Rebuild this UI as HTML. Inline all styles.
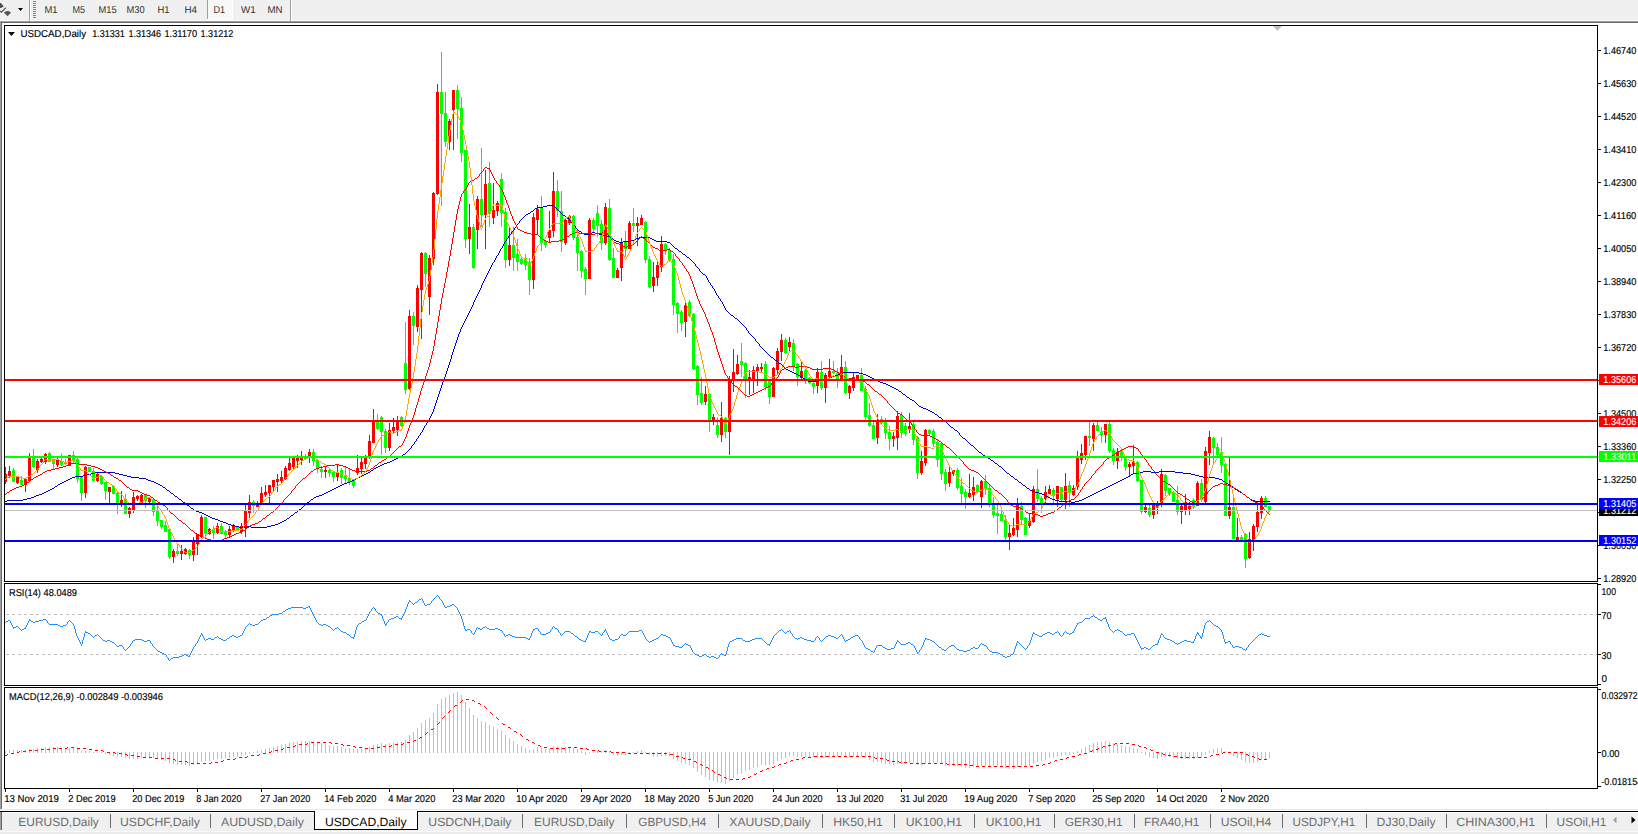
<!DOCTYPE html>
<html><head><meta charset="utf-8"><title>USDCAD,Daily</title>
<style>
html,body{margin:0;padding:0;background:#fff;overflow:hidden;}
body{width:1638px;height:834px;}
svg{display:block;text-rendering:geometricPrecision;}
</style></head>
<body>
<svg width="1638" height="834" viewBox="0 0 1638 834" font-family="Liberation Sans, Arial, sans-serif">
<rect x="0" y="0" width="1638" height="20" fill="#f0f0f0"/>
<rect x="0" y="20" width="1638" height="1" fill="#f7f7f7"/>
<rect x="0" y="21" width="1638" height="1" fill="#a0a0a0"/>
<rect x="1" y="22" width="1637" height="1" fill="#696969"/>
<rect x="0" y="21" width="1" height="788" fill="#a0a0a0"/>
<rect x="1" y="22" width="1" height="787" fill="#696969"/>
<path d="M0 3 L0.8 3 L3.8 6.2 L1.2 8 L0 8 Z" fill="#505050"/>
<path d="M0 10.2 L1.2 11.6 L5.6 7.2 L6.2 8.2 L1.3 13 L0 11.8 Z" fill="#4a4a4a"/>
<path d="M4 12.4 L6 11.2 L7.5 11 L9 11.2 L11 12.4 L7.5 16.2 Z" fill="#555555"/>
<path d="M18 8 L23 8 L20.5 11 Z" fill="#000"/>
<rect x="29" y="0" width="1" height="21" fill="#a0a0a0"/>
<rect x="30" y="0" width="1" height="21" fill="#ffffff"/>
<rect x="33" y="1" width="3" height="1" fill="#808080"/>
<rect x="33" y="3" width="3" height="1" fill="#808080"/>
<rect x="33" y="5" width="3" height="1" fill="#808080"/>
<rect x="33" y="7" width="3" height="1" fill="#808080"/>
<rect x="33" y="9" width="3" height="1" fill="#808080"/>
<rect x="33" y="11" width="3" height="1" fill="#808080"/>
<rect x="33" y="13" width="3" height="1" fill="#808080"/>
<rect x="33" y="15" width="3" height="1" fill="#808080"/>
<rect x="33" y="17" width="3" height="1" fill="#808080"/>
<rect x="207" y="0" width="1" height="19" fill="#a0a0a0"/>
<rect x="208" y="0" width="24" height="19" fill="#f8f8f8"/>
<rect x="232" y="0" width="1" height="20" fill="#ffffff"/>
<rect x="207" y="19" width="26" height="1" fill="#ffffff"/>
<rect x="290" y="0" width="1" height="21" fill="#a0a0a0"/>
<rect x="291" y="0" width="1" height="21" fill="#ffffff"/>
<text x="44.5" y="13" font-size="10" fill="#303030" textLength="13.1" lengthAdjust="spacingAndGlyphs">M1</text>
<text x="72.5" y="13" font-size="10" fill="#303030" textLength="12.6" lengthAdjust="spacingAndGlyphs">M5</text>
<text x="98.5" y="13" font-size="10" fill="#303030" textLength="18.1" lengthAdjust="spacingAndGlyphs">M15</text>
<text x="126.5" y="13" font-size="10" fill="#303030" textLength="18.1" lengthAdjust="spacingAndGlyphs">M30</text>
<text x="157.5" y="13" font-size="10" fill="#303030" textLength="12.1" lengthAdjust="spacingAndGlyphs">H1</text>
<text x="184.5" y="13" font-size="10" fill="#303030" textLength="12.6" lengthAdjust="spacingAndGlyphs">H4</text>
<text x="213.5" y="13" font-size="10" fill="#303030" textLength="11.6" lengthAdjust="spacingAndGlyphs">D1</text>
<text x="241" y="13" font-size="10" fill="#303030" textLength="14.6" lengthAdjust="spacingAndGlyphs">W1</text>
<text x="267.5" y="13" font-size="10" fill="#303030" textLength="15.1" lengthAdjust="spacingAndGlyphs">MN</text>
<rect x="4.5" y="25.5" width="1593" height="556" fill="none" stroke="#000" stroke-width="1"/>
<rect x="4.5" y="583.5" width="1593" height="102" fill="none" stroke="#000" stroke-width="1"/>
<rect x="4.5" y="687.5" width="1593" height="101" fill="none" stroke="#000" stroke-width="1"/>
<defs><clipPath id="cm"><rect x="5" y="26" width="1592" height="555"/></clipPath><clipPath id="cr"><rect x="5" y="584" width="1592" height="101"/></clipPath><clipPath id="cd"><rect x="5" y="688" width="1592" height="100"/></clipPath></defs>
<g shape-rendering="crispEdges" clip-path="url(#cm)">
<rect x="5" y="467" width="1" height="17" fill="#ff0000"/>
<rect x="4" y="474" width="3" height="8" fill="#ff0000"/>
<rect x="9" y="466" width="1" height="12" fill="#ff0000"/>
<rect x="8" y="471" width="3" height="5" fill="#ff0000"/>
<rect x="13" y="468" width="1" height="14" fill="#00ff00"/>
<rect x="12" y="470" width="3" height="12" fill="#00ff00"/>
<rect x="17" y="477" width="1" height="7" fill="#ff0000"/>
<rect x="16" y="477" width="3" height="6" fill="#ff0000"/>
<rect x="21" y="476" width="1" height="9" fill="#00ff00"/>
<rect x="20" y="480" width="3" height="5" fill="#00ff00"/>
<rect x="25" y="478" width="1" height="14" fill="#ff0000"/>
<rect x="24" y="479" width="3" height="6" fill="#ff0000"/>
<rect x="29" y="453" width="1" height="29" fill="#ff0000"/>
<rect x="28" y="457" width="3" height="24" fill="#ff0000"/>
<rect x="33" y="449" width="1" height="19" fill="#00ff00"/>
<rect x="32" y="457" width="3" height="10" fill="#00ff00"/>
<rect x="37" y="459" width="1" height="14" fill="#ff0000"/>
<rect x="36" y="461" width="3" height="9" fill="#ff0000"/>
<rect x="41" y="458" width="1" height="5" fill="#ff0000"/>
<rect x="40" y="459" width="3" height="3" fill="#ff0000"/>
<rect x="45" y="453" width="1" height="11" fill="#ff0000"/>
<rect x="44" y="454" width="3" height="8" fill="#ff0000"/>
<rect x="49" y="452" width="1" height="10" fill="#00ff00"/>
<rect x="48" y="453" width="3" height="9" fill="#00ff00"/>
<rect x="53" y="459" width="1" height="10" fill="#00ff00"/>
<rect x="52" y="459" width="3" height="5" fill="#00ff00"/>
<rect x="57" y="458" width="1" height="9" fill="#ff0000"/>
<rect x="56" y="460" width="3" height="5" fill="#ff0000"/>
<rect x="61" y="453" width="1" height="13" fill="#00ff00"/>
<rect x="60" y="461" width="3" height="4" fill="#00ff00"/>
<rect x="65" y="459" width="1" height="6" fill="#00ff00"/>
<rect x="64" y="462" width="3" height="2" fill="#00ff00"/>
<rect x="69" y="455" width="1" height="11" fill="#ff0000"/>
<rect x="68" y="455" width="3" height="11" fill="#ff0000"/>
<rect x="73" y="451" width="1" height="13" fill="#00ff00"/>
<rect x="72" y="455" width="3" height="6" fill="#00ff00"/>
<rect x="77" y="458" width="1" height="25" fill="#00ff00"/>
<rect x="76" y="459" width="3" height="20" fill="#00ff00"/>
<rect x="81" y="477" width="1" height="24" fill="#00ff00"/>
<rect x="80" y="477" width="3" height="16" fill="#00ff00"/>
<rect x="85" y="466" width="1" height="32" fill="#ff0000"/>
<rect x="84" y="467" width="3" height="26" fill="#ff0000"/>
<rect x="89" y="467" width="1" height="5" fill="#00ff00"/>
<rect x="88" y="467" width="3" height="5" fill="#00ff00"/>
<rect x="93" y="468" width="1" height="13" fill="#00ff00"/>
<rect x="92" y="471" width="3" height="10" fill="#00ff00"/>
<rect x="97" y="473" width="1" height="9" fill="#ff0000"/>
<rect x="96" y="474" width="3" height="7" fill="#ff0000"/>
<rect x="101" y="475" width="1" height="10" fill="#00ff00"/>
<rect x="100" y="476" width="3" height="8" fill="#00ff00"/>
<rect x="105" y="482" width="1" height="18" fill="#00ff00"/>
<rect x="104" y="482" width="3" height="9" fill="#00ff00"/>
<rect x="109" y="487" width="1" height="16" fill="#ff0000"/>
<rect x="108" y="487" width="3" height="5" fill="#ff0000"/>
<rect x="113" y="486" width="1" height="8" fill="#00ff00"/>
<rect x="112" y="486" width="3" height="8" fill="#00ff00"/>
<rect x="117" y="491" width="1" height="23" fill="#00ff00"/>
<rect x="116" y="493" width="3" height="10" fill="#00ff00"/>
<rect x="121" y="491" width="1" height="16" fill="#ff0000"/>
<rect x="120" y="500" width="3" height="3" fill="#ff0000"/>
<rect x="125" y="494" width="1" height="20" fill="#00ff00"/>
<rect x="124" y="499" width="3" height="15" fill="#00ff00"/>
<rect x="129" y="507" width="1" height="11" fill="#ff0000"/>
<rect x="128" y="508" width="3" height="6" fill="#ff0000"/>
<rect x="133" y="492" width="1" height="21" fill="#ff0000"/>
<rect x="132" y="497" width="3" height="13" fill="#ff0000"/>
<rect x="137" y="495" width="1" height="6" fill="#ff0000"/>
<rect x="136" y="496" width="3" height="3" fill="#ff0000"/>
<rect x="141" y="494" width="1" height="9" fill="#ff0000"/>
<rect x="140" y="495" width="3" height="8" fill="#ff0000"/>
<rect x="145" y="495" width="1" height="13" fill="#00ff00"/>
<rect x="144" y="495" width="3" height="6" fill="#00ff00"/>
<rect x="149" y="497" width="1" height="6" fill="#ff0000"/>
<rect x="148" y="498" width="3" height="4" fill="#ff0000"/>
<rect x="153" y="499" width="1" height="17" fill="#00ff00"/>
<rect x="152" y="500" width="3" height="12" fill="#00ff00"/>
<rect x="157" y="505" width="1" height="21" fill="#00ff00"/>
<rect x="156" y="511" width="3" height="10" fill="#00ff00"/>
<rect x="161" y="520" width="1" height="9" fill="#00ff00"/>
<rect x="160" y="520" width="3" height="7" fill="#00ff00"/>
<rect x="165" y="521" width="1" height="11" fill="#00ff00"/>
<rect x="164" y="525" width="3" height="7" fill="#00ff00"/>
<rect x="169" y="529" width="1" height="30" fill="#00ff00"/>
<rect x="168" y="529" width="3" height="28" fill="#00ff00"/>
<rect x="173" y="549" width="1" height="14" fill="#ff0000"/>
<rect x="172" y="551" width="3" height="6" fill="#ff0000"/>
<rect x="177" y="544" width="1" height="12" fill="#00ff00"/>
<rect x="176" y="551" width="3" height="3" fill="#00ff00"/>
<rect x="181" y="545" width="1" height="15" fill="#ff0000"/>
<rect x="180" y="551" width="3" height="3" fill="#ff0000"/>
<rect x="185" y="548" width="1" height="7" fill="#ff0000"/>
<rect x="184" y="549" width="3" height="5" fill="#ff0000"/>
<rect x="189" y="549" width="1" height="10" fill="#00ff00"/>
<rect x="188" y="550" width="3" height="5" fill="#00ff00"/>
<rect x="193" y="537" width="1" height="24" fill="#ff0000"/>
<rect x="192" y="542" width="3" height="13" fill="#ff0000"/>
<rect x="197" y="534" width="1" height="21" fill="#ff0000"/>
<rect x="196" y="534" width="3" height="10" fill="#ff0000"/>
<rect x="201" y="515" width="1" height="23" fill="#ff0000"/>
<rect x="200" y="517" width="3" height="20" fill="#ff0000"/>
<rect x="205" y="517" width="1" height="22" fill="#00ff00"/>
<rect x="204" y="517" width="3" height="17" fill="#00ff00"/>
<rect x="209" y="528" width="1" height="7" fill="#ff0000"/>
<rect x="208" y="529" width="3" height="5" fill="#ff0000"/>
<rect x="213" y="526" width="1" height="13" fill="#00ff00"/>
<rect x="212" y="529" width="3" height="4" fill="#00ff00"/>
<rect x="217" y="523" width="1" height="11" fill="#ff0000"/>
<rect x="216" y="526" width="3" height="7" fill="#ff0000"/>
<rect x="221" y="523" width="1" height="11" fill="#00ff00"/>
<rect x="220" y="526" width="3" height="8" fill="#00ff00"/>
<rect x="225" y="530" width="1" height="9" fill="#00ff00"/>
<rect x="224" y="531" width="3" height="4" fill="#00ff00"/>
<rect x="229" y="526" width="1" height="12" fill="#ff0000"/>
<rect x="228" y="529" width="3" height="6" fill="#ff0000"/>
<rect x="233" y="524" width="1" height="8" fill="#ff0000"/>
<rect x="232" y="526" width="3" height="5" fill="#ff0000"/>
<rect x="237" y="526" width="1" height="5" fill="#00ff00"/>
<rect x="236" y="527" width="3" height="4" fill="#00ff00"/>
<rect x="241" y="523" width="1" height="11" fill="#ff0000"/>
<rect x="240" y="526" width="3" height="6" fill="#ff0000"/>
<rect x="245" y="505" width="1" height="32" fill="#ff0000"/>
<rect x="244" y="511" width="3" height="16" fill="#ff0000"/>
<rect x="249" y="495" width="1" height="23" fill="#ff0000"/>
<rect x="248" y="502" width="3" height="11" fill="#ff0000"/>
<rect x="253" y="500" width="1" height="13" fill="#00ff00"/>
<rect x="252" y="502" width="3" height="4" fill="#00ff00"/>
<rect x="257" y="501" width="1" height="6" fill="#ff0000"/>
<rect x="256" y="504" width="3" height="3" fill="#ff0000"/>
<rect x="261" y="487" width="1" height="17" fill="#ff0000"/>
<rect x="260" y="493" width="3" height="11" fill="#ff0000"/>
<rect x="265" y="485" width="1" height="12" fill="#ff0000"/>
<rect x="264" y="492" width="3" height="3" fill="#ff0000"/>
<rect x="269" y="485" width="1" height="18" fill="#ff0000"/>
<rect x="268" y="485" width="3" height="8" fill="#ff0000"/>
<rect x="273" y="480" width="1" height="12" fill="#ff0000"/>
<rect x="272" y="480" width="3" height="7" fill="#ff0000"/>
<rect x="277" y="474" width="1" height="18" fill="#ff0000"/>
<rect x="276" y="479" width="3" height="3" fill="#ff0000"/>
<rect x="281" y="471" width="1" height="12" fill="#ff0000"/>
<rect x="280" y="477" width="3" height="4" fill="#ff0000"/>
<rect x="285" y="466" width="1" height="14" fill="#ff0000"/>
<rect x="284" y="468" width="3" height="11" fill="#ff0000"/>
<rect x="289" y="458" width="1" height="13" fill="#ff0000"/>
<rect x="288" y="463" width="3" height="7" fill="#ff0000"/>
<rect x="293" y="458" width="1" height="12" fill="#ff0000"/>
<rect x="292" y="458" width="3" height="9" fill="#ff0000"/>
<rect x="297" y="455" width="1" height="13" fill="#ff0000"/>
<rect x="296" y="458" width="3" height="3" fill="#ff0000"/>
<rect x="301" y="451" width="1" height="14" fill="#ff0000"/>
<rect x="300" y="457" width="3" height="3" fill="#ff0000"/>
<rect x="305" y="454" width="1" height="6" fill="#00ff00"/>
<rect x="304" y="456" width="3" height="3" fill="#00ff00"/>
<rect x="309" y="449" width="1" height="14" fill="#ff0000"/>
<rect x="308" y="452" width="3" height="5" fill="#ff0000"/>
<rect x="313" y="449" width="1" height="17" fill="#00ff00"/>
<rect x="312" y="452" width="3" height="9" fill="#00ff00"/>
<rect x="317" y="460" width="1" height="13" fill="#00ff00"/>
<rect x="316" y="460" width="3" height="9" fill="#00ff00"/>
<rect x="321" y="466" width="1" height="12" fill="#00ff00"/>
<rect x="320" y="469" width="3" height="3" fill="#00ff00"/>
<rect x="325" y="466" width="1" height="12" fill="#ff0000"/>
<rect x="324" y="470" width="3" height="2" fill="#ff0000"/>
<rect x="329" y="468" width="1" height="9" fill="#00ff00"/>
<rect x="328" y="470" width="3" height="3" fill="#00ff00"/>
<rect x="333" y="472" width="1" height="10" fill="#00ff00"/>
<rect x="332" y="472" width="3" height="5" fill="#00ff00"/>
<rect x="337" y="464" width="1" height="17" fill="#ff0000"/>
<rect x="336" y="472" width="3" height="5" fill="#ff0000"/>
<rect x="341" y="468" width="1" height="16" fill="#00ff00"/>
<rect x="340" y="470" width="3" height="8" fill="#00ff00"/>
<rect x="345" y="467" width="1" height="17" fill="#00ff00"/>
<rect x="344" y="475" width="3" height="4" fill="#00ff00"/>
<rect x="349" y="468" width="1" height="17" fill="#00ff00"/>
<rect x="348" y="478" width="3" height="4" fill="#00ff00"/>
<rect x="353" y="480" width="1" height="8" fill="#00ff00"/>
<rect x="352" y="480" width="3" height="6" fill="#00ff00"/>
<rect x="357" y="455" width="1" height="20" fill="#ff0000"/>
<rect x="356" y="468" width="3" height="5" fill="#ff0000"/>
<rect x="361" y="458" width="1" height="16" fill="#ff0000"/>
<rect x="360" y="462" width="3" height="7" fill="#ff0000"/>
<rect x="365" y="455" width="1" height="14" fill="#ff0000"/>
<rect x="364" y="458" width="3" height="6" fill="#ff0000"/>
<rect x="369" y="435" width="1" height="24" fill="#ff0000"/>
<rect x="368" y="441" width="3" height="17" fill="#ff0000"/>
<rect x="373" y="409" width="1" height="34" fill="#ff0000"/>
<rect x="372" y="421" width="3" height="22" fill="#ff0000"/>
<rect x="377" y="414" width="1" height="16" fill="#00ff00"/>
<rect x="376" y="421" width="3" height="8" fill="#00ff00"/>
<rect x="381" y="416" width="1" height="39" fill="#00ff00"/>
<rect x="380" y="417" width="3" height="15" fill="#00ff00"/>
<rect x="385" y="429" width="1" height="24" fill="#00ff00"/>
<rect x="384" y="431" width="3" height="17" fill="#00ff00"/>
<rect x="389" y="423" width="1" height="28" fill="#ff0000"/>
<rect x="388" y="430" width="3" height="18" fill="#ff0000"/>
<rect x="393" y="418" width="1" height="16" fill="#ff0000"/>
<rect x="392" y="427" width="3" height="4" fill="#ff0000"/>
<rect x="397" y="416" width="1" height="20" fill="#ff0000"/>
<rect x="396" y="420" width="3" height="10" fill="#ff0000"/>
<rect x="401" y="416" width="1" height="11" fill="#00ff00"/>
<rect x="400" y="417" width="3" height="9" fill="#00ff00"/>
<rect x="405" y="322" width="1" height="72" fill="#00ff00"/>
<rect x="404" y="363" width="3" height="27" fill="#00ff00"/>
<rect x="409" y="310" width="1" height="80" fill="#ff0000"/>
<rect x="408" y="316" width="3" height="73" fill="#ff0000"/>
<rect x="413" y="312" width="1" height="33" fill="#00ff00"/>
<rect x="412" y="316" width="3" height="10" fill="#00ff00"/>
<rect x="417" y="285" width="1" height="47" fill="#ff0000"/>
<rect x="416" y="288" width="3" height="39" fill="#ff0000"/>
<rect x="421" y="252" width="1" height="87" fill="#ff0000"/>
<rect x="420" y="253" width="3" height="37" fill="#ff0000"/>
<rect x="425" y="252" width="1" height="35" fill="#00ff00"/>
<rect x="424" y="253" width="3" height="21" fill="#00ff00"/>
<rect x="429" y="255" width="1" height="60" fill="#ff0000"/>
<rect x="428" y="258" width="3" height="39" fill="#ff0000"/>
<rect x="433" y="192" width="1" height="73" fill="#ff0000"/>
<rect x="432" y="193" width="3" height="66" fill="#ff0000"/>
<rect x="437" y="84" width="1" height="111" fill="#ff0000"/>
<rect x="436" y="92" width="3" height="102" fill="#ff0000"/>
<rect x="441" y="52" width="1" height="154" fill="#00ff00"/>
<rect x="440" y="92" width="3" height="22" fill="#00ff00"/>
<rect x="445" y="92" width="1" height="55" fill="#00ff00"/>
<rect x="444" y="113" width="3" height="29" fill="#00ff00"/>
<rect x="449" y="119" width="1" height="31" fill="#ff0000"/>
<rect x="448" y="121" width="3" height="21" fill="#ff0000"/>
<rect x="453" y="90" width="1" height="60" fill="#ff0000"/>
<rect x="452" y="90" width="3" height="20" fill="#ff0000"/>
<rect x="457" y="85" width="1" height="54" fill="#00ff00"/>
<rect x="456" y="90" width="3" height="19" fill="#00ff00"/>
<rect x="461" y="97" width="1" height="65" fill="#00ff00"/>
<rect x="460" y="108" width="3" height="45" fill="#00ff00"/>
<rect x="465" y="150" width="1" height="98" fill="#00ff00"/>
<rect x="464" y="150" width="3" height="89" fill="#00ff00"/>
<rect x="469" y="204" width="1" height="50" fill="#ff0000"/>
<rect x="468" y="227" width="3" height="12" fill="#ff0000"/>
<rect x="473" y="224" width="1" height="45" fill="#00ff00"/>
<rect x="472" y="227" width="3" height="41" fill="#00ff00"/>
<rect x="477" y="196" width="1" height="53" fill="#ff0000"/>
<rect x="476" y="199" width="3" height="31" fill="#ff0000"/>
<rect x="481" y="148" width="1" height="79" fill="#00ff00"/>
<rect x="480" y="199" width="3" height="16" fill="#00ff00"/>
<rect x="485" y="170" width="1" height="79" fill="#ff0000"/>
<rect x="484" y="184" width="3" height="31" fill="#ff0000"/>
<rect x="489" y="162" width="1" height="65" fill="#00ff00"/>
<rect x="488" y="183" width="3" height="31" fill="#00ff00"/>
<rect x="493" y="183" width="1" height="41" fill="#ff0000"/>
<rect x="492" y="210" width="3" height="8" fill="#ff0000"/>
<rect x="497" y="201" width="1" height="15" fill="#ff0000"/>
<rect x="496" y="203" width="3" height="8" fill="#ff0000"/>
<rect x="501" y="173" width="1" height="54" fill="#00ff00"/>
<rect x="500" y="179" width="3" height="34" fill="#00ff00"/>
<rect x="505" y="208" width="1" height="60" fill="#00ff00"/>
<rect x="504" y="212" width="3" height="48" fill="#00ff00"/>
<rect x="509" y="228" width="1" height="38" fill="#ff0000"/>
<rect x="508" y="245" width="3" height="15" fill="#ff0000"/>
<rect x="513" y="227" width="1" height="44" fill="#00ff00"/>
<rect x="512" y="245" width="3" height="13" fill="#00ff00"/>
<rect x="517" y="239" width="1" height="32" fill="#00ff00"/>
<rect x="516" y="254" width="3" height="8" fill="#00ff00"/>
<rect x="521" y="258" width="1" height="7" fill="#00ff00"/>
<rect x="520" y="259" width="3" height="5" fill="#00ff00"/>
<rect x="525" y="254" width="1" height="16" fill="#00ff00"/>
<rect x="524" y="258" width="3" height="7" fill="#00ff00"/>
<rect x="529" y="258" width="1" height="37" fill="#00ff00"/>
<rect x="528" y="262" width="3" height="18" fill="#00ff00"/>
<rect x="533" y="213" width="1" height="76" fill="#ff0000"/>
<rect x="532" y="217" width="3" height="63" fill="#ff0000"/>
<rect x="537" y="205" width="1" height="30" fill="#ff0000"/>
<rect x="536" y="209" width="3" height="11" fill="#ff0000"/>
<rect x="541" y="196" width="1" height="55" fill="#00ff00"/>
<rect x="540" y="208" width="3" height="35" fill="#00ff00"/>
<rect x="545" y="241" width="1" height="7" fill="#00ff00"/>
<rect x="544" y="241" width="3" height="4" fill="#00ff00"/>
<rect x="549" y="211" width="1" height="32" fill="#ff0000"/>
<rect x="548" y="230" width="3" height="8" fill="#ff0000"/>
<rect x="553" y="172" width="1" height="65" fill="#ff0000"/>
<rect x="552" y="191" width="3" height="40" fill="#ff0000"/>
<rect x="557" y="180" width="1" height="37" fill="#00ff00"/>
<rect x="556" y="191" width="3" height="20" fill="#00ff00"/>
<rect x="561" y="191" width="1" height="61" fill="#00ff00"/>
<rect x="560" y="211" width="3" height="31" fill="#00ff00"/>
<rect x="565" y="218" width="1" height="27" fill="#ff0000"/>
<rect x="564" y="220" width="3" height="23" fill="#ff0000"/>
<rect x="569" y="215" width="1" height="10" fill="#ff0000"/>
<rect x="568" y="216" width="3" height="7" fill="#ff0000"/>
<rect x="573" y="215" width="1" height="25" fill="#00ff00"/>
<rect x="572" y="216" width="3" height="22" fill="#00ff00"/>
<rect x="577" y="230" width="1" height="41" fill="#00ff00"/>
<rect x="576" y="237" width="3" height="16" fill="#00ff00"/>
<rect x="581" y="250" width="1" height="28" fill="#00ff00"/>
<rect x="580" y="251" width="3" height="20" fill="#00ff00"/>
<rect x="585" y="267" width="1" height="28" fill="#00ff00"/>
<rect x="584" y="269" width="3" height="10" fill="#00ff00"/>
<rect x="589" y="218" width="1" height="61" fill="#ff0000"/>
<rect x="588" y="220" width="3" height="59" fill="#ff0000"/>
<rect x="593" y="218" width="1" height="14" fill="#00ff00"/>
<rect x="592" y="220" width="3" height="9" fill="#00ff00"/>
<rect x="597" y="205" width="1" height="32" fill="#00ff00"/>
<rect x="596" y="213" width="3" height="13" fill="#00ff00"/>
<rect x="601" y="220" width="1" height="30" fill="#00ff00"/>
<rect x="600" y="224" width="3" height="19" fill="#00ff00"/>
<rect x="605" y="203" width="1" height="42" fill="#ff0000"/>
<rect x="604" y="207" width="3" height="36" fill="#ff0000"/>
<rect x="609" y="199" width="1" height="62" fill="#00ff00"/>
<rect x="608" y="208" width="3" height="52" fill="#00ff00"/>
<rect x="613" y="248" width="1" height="30" fill="#00ff00"/>
<rect x="612" y="258" width="3" height="20" fill="#00ff00"/>
<rect x="617" y="268" width="1" height="10" fill="#ff0000"/>
<rect x="616" y="270" width="3" height="8" fill="#ff0000"/>
<rect x="621" y="238" width="1" height="43" fill="#ff0000"/>
<rect x="620" y="242" width="3" height="26" fill="#ff0000"/>
<rect x="625" y="231" width="1" height="26" fill="#00ff00"/>
<rect x="624" y="242" width="3" height="7" fill="#00ff00"/>
<rect x="629" y="221" width="1" height="28" fill="#ff0000"/>
<rect x="628" y="223" width="3" height="26" fill="#ff0000"/>
<rect x="633" y="208" width="1" height="24" fill="#00ff00"/>
<rect x="632" y="223" width="3" height="3" fill="#00ff00"/>
<rect x="637" y="217" width="1" height="29" fill="#ff0000"/>
<rect x="636" y="223" width="3" height="3" fill="#ff0000"/>
<rect x="641" y="215" width="1" height="10" fill="#ff0000"/>
<rect x="640" y="218" width="3" height="7" fill="#ff0000"/>
<rect x="645" y="221" width="1" height="42" fill="#00ff00"/>
<rect x="644" y="222" width="3" height="38" fill="#00ff00"/>
<rect x="649" y="256" width="1" height="32" fill="#00ff00"/>
<rect x="648" y="259" width="3" height="28" fill="#00ff00"/>
<rect x="653" y="262" width="1" height="30" fill="#ff0000"/>
<rect x="652" y="277" width="3" height="9" fill="#ff0000"/>
<rect x="657" y="260" width="1" height="26" fill="#ff0000"/>
<rect x="656" y="265" width="3" height="13" fill="#ff0000"/>
<rect x="661" y="236" width="1" height="36" fill="#ff0000"/>
<rect x="660" y="244" width="3" height="23" fill="#ff0000"/>
<rect x="665" y="243" width="1" height="12" fill="#00ff00"/>
<rect x="664" y="244" width="3" height="7" fill="#00ff00"/>
<rect x="669" y="248" width="1" height="14" fill="#00ff00"/>
<rect x="668" y="250" width="3" height="10" fill="#00ff00"/>
<rect x="673" y="254" width="1" height="61" fill="#00ff00"/>
<rect x="672" y="259" width="3" height="46" fill="#00ff00"/>
<rect x="677" y="302" width="1" height="31" fill="#00ff00"/>
<rect x="676" y="303" width="3" height="11" fill="#00ff00"/>
<rect x="681" y="310" width="1" height="21" fill="#00ff00"/>
<rect x="680" y="312" width="3" height="11" fill="#00ff00"/>
<rect x="685" y="302" width="1" height="35" fill="#ff0000"/>
<rect x="684" y="305" width="3" height="17" fill="#ff0000"/>
<rect x="689" y="300" width="1" height="17" fill="#00ff00"/>
<rect x="688" y="302" width="3" height="14" fill="#00ff00"/>
<rect x="693" y="313" width="1" height="57" fill="#00ff00"/>
<rect x="692" y="314" width="3" height="55" fill="#00ff00"/>
<rect x="697" y="365" width="1" height="40" fill="#00ff00"/>
<rect x="696" y="366" width="3" height="29" fill="#00ff00"/>
<rect x="701" y="377" width="1" height="28" fill="#00ff00"/>
<rect x="700" y="393" width="3" height="10" fill="#00ff00"/>
<rect x="705" y="386" width="1" height="19" fill="#ff0000"/>
<rect x="704" y="394" width="3" height="8" fill="#ff0000"/>
<rect x="709" y="393" width="1" height="39" fill="#00ff00"/>
<rect x="708" y="394" width="3" height="26" fill="#00ff00"/>
<rect x="713" y="414" width="1" height="11" fill="#ff0000"/>
<rect x="712" y="417" width="3" height="5" fill="#ff0000"/>
<rect x="717" y="417" width="1" height="21" fill="#00ff00"/>
<rect x="716" y="425" width="3" height="10" fill="#00ff00"/>
<rect x="721" y="402" width="1" height="40" fill="#ff0000"/>
<rect x="720" y="418" width="3" height="17" fill="#ff0000"/>
<rect x="725" y="417" width="1" height="21" fill="#00ff00"/>
<rect x="724" y="418" width="3" height="14" fill="#00ff00"/>
<rect x="729" y="376" width="1" height="79" fill="#ff0000"/>
<rect x="728" y="380" width="3" height="52" fill="#ff0000"/>
<rect x="733" y="349" width="1" height="43" fill="#ff0000"/>
<rect x="732" y="372" width="3" height="9" fill="#ff0000"/>
<rect x="737" y="355" width="1" height="20" fill="#ff0000"/>
<rect x="736" y="364" width="3" height="10" fill="#ff0000"/>
<rect x="741" y="343" width="1" height="34" fill="#00ff00"/>
<rect x="740" y="361" width="3" height="4" fill="#00ff00"/>
<rect x="745" y="362" width="1" height="36" fill="#00ff00"/>
<rect x="744" y="363" width="3" height="17" fill="#00ff00"/>
<rect x="749" y="370" width="1" height="25" fill="#ff0000"/>
<rect x="748" y="377" width="3" height="4" fill="#ff0000"/>
<rect x="753" y="366" width="1" height="27" fill="#ff0000"/>
<rect x="752" y="370" width="3" height="9" fill="#ff0000"/>
<rect x="757" y="364" width="1" height="22" fill="#ff0000"/>
<rect x="756" y="367" width="3" height="5" fill="#ff0000"/>
<rect x="761" y="363" width="1" height="9" fill="#ff0000"/>
<rect x="760" y="367" width="3" height="2" fill="#ff0000"/>
<rect x="765" y="361" width="1" height="29" fill="#00ff00"/>
<rect x="764" y="364" width="3" height="23" fill="#00ff00"/>
<rect x="769" y="380" width="1" height="24" fill="#00ff00"/>
<rect x="768" y="381" width="3" height="16" fill="#00ff00"/>
<rect x="773" y="367" width="1" height="30" fill="#ff0000"/>
<rect x="772" y="368" width="3" height="29" fill="#ff0000"/>
<rect x="777" y="348" width="1" height="26" fill="#ff0000"/>
<rect x="776" y="351" width="3" height="19" fill="#ff0000"/>
<rect x="781" y="334" width="1" height="27" fill="#ff0000"/>
<rect x="780" y="340" width="3" height="12" fill="#ff0000"/>
<rect x="785" y="338" width="1" height="16" fill="#00ff00"/>
<rect x="784" y="340" width="3" height="13" fill="#00ff00"/>
<rect x="789" y="337" width="1" height="15" fill="#ff0000"/>
<rect x="788" y="342" width="3" height="5" fill="#ff0000"/>
<rect x="793" y="339" width="1" height="32" fill="#00ff00"/>
<rect x="792" y="343" width="3" height="23" fill="#00ff00"/>
<rect x="797" y="363" width="1" height="23" fill="#00ff00"/>
<rect x="796" y="364" width="3" height="13" fill="#00ff00"/>
<rect x="801" y="362" width="1" height="18" fill="#ff0000"/>
<rect x="800" y="371" width="3" height="7" fill="#ff0000"/>
<rect x="805" y="369" width="1" height="15" fill="#00ff00"/>
<rect x="804" y="370" width="3" height="10" fill="#00ff00"/>
<rect x="809" y="377" width="1" height="7" fill="#00ff00"/>
<rect x="808" y="378" width="3" height="5" fill="#00ff00"/>
<rect x="813" y="382" width="1" height="12" fill="#00ff00"/>
<rect x="812" y="383" width="3" height="4" fill="#00ff00"/>
<rect x="817" y="368" width="1" height="25" fill="#ff0000"/>
<rect x="816" y="372" width="3" height="14" fill="#ff0000"/>
<rect x="821" y="361" width="1" height="29" fill="#00ff00"/>
<rect x="820" y="372" width="3" height="16" fill="#00ff00"/>
<rect x="825" y="373" width="1" height="30" fill="#ff0000"/>
<rect x="824" y="375" width="3" height="13" fill="#ff0000"/>
<rect x="829" y="359" width="1" height="20" fill="#ff0000"/>
<rect x="828" y="371" width="3" height="6" fill="#ff0000"/>
<rect x="833" y="361" width="1" height="13" fill="#00ff00"/>
<rect x="832" y="371" width="3" height="2" fill="#00ff00"/>
<rect x="837" y="368" width="1" height="20" fill="#00ff00"/>
<rect x="836" y="373" width="3" height="7" fill="#00ff00"/>
<rect x="841" y="355" width="1" height="25" fill="#ff0000"/>
<rect x="840" y="367" width="3" height="13" fill="#ff0000"/>
<rect x="845" y="361" width="1" height="33" fill="#00ff00"/>
<rect x="844" y="367" width="3" height="26" fill="#00ff00"/>
<rect x="849" y="385" width="1" height="14" fill="#ff0000"/>
<rect x="848" y="386" width="3" height="7" fill="#ff0000"/>
<rect x="853" y="373" width="1" height="18" fill="#ff0000"/>
<rect x="852" y="377" width="3" height="11" fill="#ff0000"/>
<rect x="857" y="375" width="1" height="6" fill="#ff0000"/>
<rect x="856" y="375" width="3" height="6" fill="#ff0000"/>
<rect x="861" y="368" width="1" height="23" fill="#00ff00"/>
<rect x="860" y="375" width="3" height="16" fill="#00ff00"/>
<rect x="865" y="386" width="1" height="34" fill="#00ff00"/>
<rect x="864" y="389" width="3" height="28" fill="#00ff00"/>
<rect x="869" y="403" width="1" height="24" fill="#00ff00"/>
<rect x="868" y="415" width="3" height="11" fill="#00ff00"/>
<rect x="873" y="422" width="1" height="17" fill="#00ff00"/>
<rect x="872" y="425" width="3" height="14" fill="#00ff00"/>
<rect x="877" y="414" width="1" height="30" fill="#ff0000"/>
<rect x="876" y="420" width="3" height="18" fill="#ff0000"/>
<rect x="881" y="416" width="1" height="8" fill="#00ff00"/>
<rect x="880" y="419" width="3" height="4" fill="#00ff00"/>
<rect x="885" y="418" width="1" height="21" fill="#00ff00"/>
<rect x="884" y="422" width="3" height="11" fill="#00ff00"/>
<rect x="889" y="426" width="1" height="24" fill="#00ff00"/>
<rect x="888" y="432" width="3" height="7" fill="#00ff00"/>
<rect x="893" y="432" width="1" height="15" fill="#ff0000"/>
<rect x="892" y="436" width="3" height="3" fill="#ff0000"/>
<rect x="897" y="411" width="1" height="39" fill="#ff0000"/>
<rect x="896" y="416" width="3" height="22" fill="#ff0000"/>
<rect x="901" y="412" width="1" height="26" fill="#00ff00"/>
<rect x="900" y="415" width="3" height="18" fill="#00ff00"/>
<rect x="905" y="423" width="1" height="13" fill="#00ff00"/>
<rect x="904" y="426" width="3" height="8" fill="#00ff00"/>
<rect x="909" y="413" width="1" height="20" fill="#ff0000"/>
<rect x="908" y="426" width="3" height="4" fill="#ff0000"/>
<rect x="913" y="422" width="1" height="23" fill="#00ff00"/>
<rect x="912" y="424" width="3" height="16" fill="#00ff00"/>
<rect x="917" y="436" width="1" height="43" fill="#00ff00"/>
<rect x="916" y="437" width="3" height="36" fill="#00ff00"/>
<rect x="921" y="451" width="1" height="24" fill="#ff0000"/>
<rect x="920" y="461" width="3" height="12" fill="#ff0000"/>
<rect x="925" y="429" width="1" height="37" fill="#ff0000"/>
<rect x="924" y="430" width="3" height="33" fill="#ff0000"/>
<rect x="929" y="429" width="1" height="7" fill="#00ff00"/>
<rect x="928" y="430" width="3" height="4" fill="#00ff00"/>
<rect x="933" y="429" width="1" height="18" fill="#00ff00"/>
<rect x="932" y="431" width="3" height="13" fill="#00ff00"/>
<rect x="937" y="440" width="1" height="27" fill="#00ff00"/>
<rect x="936" y="442" width="3" height="18" fill="#00ff00"/>
<rect x="941" y="443" width="1" height="37" fill="#00ff00"/>
<rect x="940" y="443" width="3" height="31" fill="#00ff00"/>
<rect x="945" y="469" width="1" height="22" fill="#00ff00"/>
<rect x="944" y="472" width="3" height="12" fill="#00ff00"/>
<rect x="949" y="466" width="1" height="21" fill="#ff0000"/>
<rect x="948" y="472" width="3" height="11" fill="#ff0000"/>
<rect x="953" y="470" width="1" height="6" fill="#ff0000"/>
<rect x="952" y="470" width="3" height="4" fill="#ff0000"/>
<rect x="957" y="468" width="1" height="22" fill="#00ff00"/>
<rect x="956" y="470" width="3" height="18" fill="#00ff00"/>
<rect x="961" y="478" width="1" height="25" fill="#00ff00"/>
<rect x="960" y="486" width="3" height="8" fill="#00ff00"/>
<rect x="965" y="489" width="1" height="20" fill="#00ff00"/>
<rect x="964" y="492" width="3" height="5" fill="#00ff00"/>
<rect x="969" y="474" width="1" height="24" fill="#ff0000"/>
<rect x="968" y="493" width="3" height="4" fill="#ff0000"/>
<rect x="973" y="477" width="1" height="24" fill="#ff0000"/>
<rect x="972" y="487" width="3" height="8" fill="#ff0000"/>
<rect x="977" y="484" width="1" height="8" fill="#00ff00"/>
<rect x="976" y="485" width="3" height="7" fill="#00ff00"/>
<rect x="981" y="480" width="1" height="28" fill="#ff0000"/>
<rect x="980" y="481" width="3" height="16" fill="#ff0000"/>
<rect x="985" y="475" width="1" height="20" fill="#00ff00"/>
<rect x="984" y="481" width="3" height="8" fill="#00ff00"/>
<rect x="989" y="485" width="1" height="22" fill="#00ff00"/>
<rect x="988" y="488" width="3" height="16" fill="#00ff00"/>
<rect x="993" y="497" width="1" height="21" fill="#00ff00"/>
<rect x="992" y="503" width="3" height="12" fill="#00ff00"/>
<rect x="997" y="505" width="1" height="29" fill="#00ff00"/>
<rect x="996" y="513" width="3" height="3" fill="#00ff00"/>
<rect x="1001" y="510" width="1" height="11" fill="#00ff00"/>
<rect x="1000" y="514" width="3" height="7" fill="#00ff00"/>
<rect x="1005" y="515" width="1" height="26" fill="#00ff00"/>
<rect x="1004" y="520" width="3" height="17" fill="#00ff00"/>
<rect x="1009" y="524" width="1" height="26" fill="#ff0000"/>
<rect x="1008" y="533" width="3" height="4" fill="#ff0000"/>
<rect x="1013" y="518" width="1" height="18" fill="#ff0000"/>
<rect x="1012" y="528" width="3" height="7" fill="#ff0000"/>
<rect x="1017" y="498" width="1" height="39" fill="#ff0000"/>
<rect x="1016" y="505" width="3" height="25" fill="#ff0000"/>
<rect x="1021" y="502" width="1" height="23" fill="#00ff00"/>
<rect x="1020" y="506" width="3" height="14" fill="#00ff00"/>
<rect x="1025" y="517" width="1" height="18" fill="#00ff00"/>
<rect x="1024" y="518" width="3" height="17" fill="#00ff00"/>
<rect x="1029" y="513" width="1" height="15" fill="#ff0000"/>
<rect x="1028" y="521" width="3" height="5" fill="#ff0000"/>
<rect x="1033" y="486" width="1" height="37" fill="#ff0000"/>
<rect x="1032" y="489" width="3" height="33" fill="#ff0000"/>
<rect x="1037" y="469" width="1" height="33" fill="#00ff00"/>
<rect x="1036" y="489" width="3" height="10" fill="#00ff00"/>
<rect x="1041" y="496" width="1" height="17" fill="#00ff00"/>
<rect x="1040" y="498" width="3" height="5" fill="#00ff00"/>
<rect x="1045" y="486" width="1" height="17" fill="#ff0000"/>
<rect x="1044" y="492" width="3" height="7" fill="#ff0000"/>
<rect x="1049" y="485" width="1" height="10" fill="#ff0000"/>
<rect x="1048" y="489" width="3" height="5" fill="#ff0000"/>
<rect x="1053" y="488" width="1" height="15" fill="#00ff00"/>
<rect x="1052" y="490" width="3" height="6" fill="#00ff00"/>
<rect x="1057" y="486" width="1" height="21" fill="#ff0000"/>
<rect x="1056" y="486" width="3" height="13" fill="#ff0000"/>
<rect x="1061" y="487" width="1" height="14" fill="#00ff00"/>
<rect x="1060" y="487" width="3" height="13" fill="#00ff00"/>
<rect x="1065" y="473" width="1" height="36" fill="#ff0000"/>
<rect x="1064" y="486" width="3" height="14" fill="#ff0000"/>
<rect x="1069" y="481" width="1" height="26" fill="#00ff00"/>
<rect x="1068" y="485" width="3" height="8" fill="#00ff00"/>
<rect x="1073" y="485" width="1" height="11" fill="#ff0000"/>
<rect x="1072" y="488" width="3" height="7" fill="#ff0000"/>
<rect x="1077" y="451" width="1" height="39" fill="#ff0000"/>
<rect x="1076" y="458" width="3" height="29" fill="#ff0000"/>
<rect x="1081" y="444" width="1" height="20" fill="#ff0000"/>
<rect x="1080" y="453" width="3" height="7" fill="#ff0000"/>
<rect x="1085" y="436" width="1" height="24" fill="#ff0000"/>
<rect x="1084" y="436" width="3" height="19" fill="#ff0000"/>
<rect x="1089" y="422" width="1" height="24" fill="#00ff00"/>
<rect x="1088" y="436" width="3" height="2" fill="#00ff00"/>
<rect x="1093" y="423" width="1" height="28" fill="#ff0000"/>
<rect x="1092" y="425" width="3" height="14" fill="#ff0000"/>
<rect x="1097" y="422" width="1" height="9" fill="#00ff00"/>
<rect x="1096" y="425" width="3" height="6" fill="#00ff00"/>
<rect x="1101" y="427" width="1" height="16" fill="#00ff00"/>
<rect x="1100" y="432" width="3" height="3" fill="#00ff00"/>
<rect x="1105" y="424" width="1" height="19" fill="#ff0000"/>
<rect x="1104" y="424" width="3" height="11" fill="#ff0000"/>
<rect x="1109" y="422" width="1" height="31" fill="#00ff00"/>
<rect x="1108" y="424" width="3" height="27" fill="#00ff00"/>
<rect x="1113" y="448" width="1" height="17" fill="#00ff00"/>
<rect x="1112" y="450" width="3" height="11" fill="#00ff00"/>
<rect x="1117" y="448" width="1" height="21" fill="#ff0000"/>
<rect x="1116" y="452" width="3" height="9" fill="#ff0000"/>
<rect x="1121" y="449" width="1" height="12" fill="#00ff00"/>
<rect x="1120" y="451" width="3" height="6" fill="#00ff00"/>
<rect x="1125" y="457" width="1" height="14" fill="#00ff00"/>
<rect x="1124" y="458" width="3" height="9" fill="#00ff00"/>
<rect x="1129" y="462" width="1" height="14" fill="#ff0000"/>
<rect x="1128" y="464" width="3" height="3" fill="#ff0000"/>
<rect x="1133" y="445" width="1" height="29" fill="#ff0000"/>
<rect x="1132" y="462" width="3" height="4" fill="#ff0000"/>
<rect x="1137" y="461" width="1" height="21" fill="#00ff00"/>
<rect x="1136" y="462" width="3" height="19" fill="#00ff00"/>
<rect x="1141" y="480" width="1" height="34" fill="#00ff00"/>
<rect x="1140" y="480" width="3" height="32" fill="#00ff00"/>
<rect x="1145" y="505" width="1" height="8" fill="#ff0000"/>
<rect x="1144" y="507" width="3" height="5" fill="#ff0000"/>
<rect x="1149" y="505" width="1" height="12" fill="#00ff00"/>
<rect x="1148" y="508" width="3" height="7" fill="#00ff00"/>
<rect x="1153" y="504" width="1" height="15" fill="#ff0000"/>
<rect x="1152" y="505" width="3" height="10" fill="#ff0000"/>
<rect x="1157" y="501" width="1" height="13" fill="#ff0000"/>
<rect x="1156" y="503" width="3" height="4" fill="#ff0000"/>
<rect x="1161" y="469" width="1" height="38" fill="#ff0000"/>
<rect x="1160" y="474" width="3" height="31" fill="#ff0000"/>
<rect x="1165" y="474" width="1" height="22" fill="#00ff00"/>
<rect x="1164" y="475" width="3" height="16" fill="#00ff00"/>
<rect x="1169" y="488" width="1" height="8" fill="#00ff00"/>
<rect x="1168" y="488" width="3" height="6" fill="#00ff00"/>
<rect x="1173" y="491" width="1" height="11" fill="#00ff00"/>
<rect x="1172" y="492" width="3" height="10" fill="#00ff00"/>
<rect x="1177" y="486" width="1" height="29" fill="#00ff00"/>
<rect x="1176" y="500" width="3" height="12" fill="#00ff00"/>
<rect x="1181" y="505" width="1" height="19" fill="#ff0000"/>
<rect x="1180" y="506" width="3" height="6" fill="#ff0000"/>
<rect x="1185" y="494" width="1" height="21" fill="#ff0000"/>
<rect x="1184" y="502" width="3" height="8" fill="#ff0000"/>
<rect x="1189" y="502" width="1" height="13" fill="#ff0000"/>
<rect x="1188" y="505" width="3" height="4" fill="#ff0000"/>
<rect x="1193" y="498" width="1" height="11" fill="#00ff00"/>
<rect x="1192" y="500" width="3" height="7" fill="#00ff00"/>
<rect x="1197" y="481" width="1" height="25" fill="#ff0000"/>
<rect x="1196" y="483" width="3" height="23" fill="#ff0000"/>
<rect x="1201" y="479" width="1" height="23" fill="#00ff00"/>
<rect x="1200" y="483" width="3" height="17" fill="#00ff00"/>
<rect x="1205" y="447" width="1" height="57" fill="#ff0000"/>
<rect x="1204" y="451" width="3" height="51" fill="#ff0000"/>
<rect x="1209" y="431" width="1" height="34" fill="#ff0000"/>
<rect x="1208" y="437" width="3" height="16" fill="#ff0000"/>
<rect x="1213" y="437" width="1" height="27" fill="#00ff00"/>
<rect x="1212" y="438" width="3" height="10" fill="#00ff00"/>
<rect x="1217" y="443" width="1" height="14" fill="#00ff00"/>
<rect x="1216" y="447" width="3" height="8" fill="#00ff00"/>
<rect x="1221" y="437" width="1" height="36" fill="#00ff00"/>
<rect x="1220" y="452" width="3" height="13" fill="#00ff00"/>
<rect x="1225" y="463" width="1" height="53" fill="#00ff00"/>
<rect x="1224" y="464" width="3" height="52" fill="#00ff00"/>
<rect x="1229" y="458" width="1" height="61" fill="#ff0000"/>
<rect x="1228" y="507" width="3" height="9" fill="#ff0000"/>
<rect x="1233" y="498" width="1" height="41" fill="#00ff00"/>
<rect x="1232" y="507" width="3" height="32" fill="#00ff00"/>
<rect x="1237" y="518" width="1" height="23" fill="#ff0000"/>
<rect x="1236" y="537" width="3" height="3" fill="#ff0000"/>
<rect x="1241" y="535" width="1" height="6" fill="#00ff00"/>
<rect x="1240" y="537" width="3" height="3" fill="#00ff00"/>
<rect x="1245" y="533" width="1" height="35" fill="#00ff00"/>
<rect x="1244" y="534" width="3" height="25" fill="#00ff00"/>
<rect x="1249" y="532" width="1" height="27" fill="#ff0000"/>
<rect x="1248" y="539" width="3" height="19" fill="#ff0000"/>
<rect x="1253" y="524" width="1" height="27" fill="#ff0000"/>
<rect x="1252" y="526" width="3" height="15" fill="#ff0000"/>
<rect x="1257" y="505" width="1" height="27" fill="#ff0000"/>
<rect x="1256" y="512" width="3" height="15" fill="#ff0000"/>
<rect x="1261" y="496" width="1" height="23" fill="#ff0000"/>
<rect x="1260" y="498" width="3" height="15" fill="#ff0000"/>
<rect x="1265" y="496" width="1" height="11" fill="#00ff00"/>
<rect x="1264" y="498" width="3" height="9" fill="#00ff00"/>
<rect x="1269" y="506" width="1" height="6" fill="#00ff00"/>
<rect x="1268" y="506" width="3" height="5" fill="#00ff00"/>
</g>
<path d="M5.5 501v1M6.5 501v1M7.5 500v1M8.5 500v1M9.5 500v1M10.5 500v1M11.5 500v1M12.5 500v1M13.5 500v1M14.5 500v1M15.5 500v1M16.5 500v1M17.5 500v1M18.5 500v1M19.5 500v1M20.5 500v1M21.5 500v1M22.5 500v1M23.5 499v1M24.5 499v1M25.5 499v1M26.5 499v1M27.5 498v1M28.5 498v1M29.5 498v1M30.5 498v1M31.5 497v1M32.5 497v1M33.5 497v1M34.5 496v1M35.5 496v1M36.5 495v1M37.5 495v1M38.5 495v1M39.5 494v1M40.5 494v1M41.5 494v1M42.5 493v1M43.5 493v1M44.5 492v1M45.5 492v1M46.5 491v1M47.5 491v1M48.5 490v1M49.5 490v1M50.5 489v1M51.5 489v1M52.5 488v1M53.5 488v1M54.5 487v1M55.5 486v1M56.5 486v1M57.5 485v1M58.5 484v1M59.5 484v1M60.5 483v1M61.5 483v1M62.5 482v1M63.5 482v1M64.5 481v1M65.5 481v1M66.5 480v1M67.5 480v1M68.5 479v1M69.5 479v1M70.5 478v1M71.5 478v1M72.5 477v1M73.5 477v1M74.5 477v1M75.5 476v1M76.5 476v1M77.5 476v1M78.5 476v1M79.5 476v1M80.5 476v1M81.5 476v1M82.5 476v1M83.5 475v1M84.5 475v1M85.5 475v1M86.5 475v1M87.5 474v1M88.5 474v1M89.5 474v1M90.5 474v1M91.5 473v1M92.5 473v1M93.5 473v1M94.5 473v1M95.5 472v1M96.5 472v1M97.5 472v1M98.5 472v1M99.5 472v1M100.5 472v1M101.5 472v1M102.5 472v1M103.5 472v1M104.5 472v1M105.5 472v1M106.5 472v1M107.5 472v1M108.5 472v1M109.5 472v1M110.5 472v1M111.5 472v1M112.5 472v1M113.5 472v1M114.5 472v1M115.5 473v1M116.5 473v1M117.5 473v1M118.5 473v1M119.5 474v1M120.5 474v1M121.5 474v1M122.5 474v1M123.5 475v1M124.5 475v1M125.5 475v1M126.5 475v1M127.5 476v1M128.5 476v1M129.5 476v1M130.5 476v1M131.5 477v1M132.5 477v1M133.5 477v1M134.5 477v1M135.5 477v1M136.5 477v1M137.5 477v1M138.5 477v1M139.5 478v1M140.5 478v1M141.5 478v1M142.5 478v1M143.5 478v1M144.5 478v1M145.5 478v1M146.5 479v1M147.5 479v1M148.5 480v1M149.5 480v1M150.5 480v1M151.5 481v1M152.5 481v1M153.5 481v1M154.5 482v1M155.5 482v1M156.5 483v1M157.5 483v1M158.5 484v1M159.5 484v1M160.5 485v1M161.5 485v1M162.5 486v1M163.5 487v1M164.5 487v1M165.5 488v1M166.5 489v1M167.5 490v1M168.5 490v1M169.5 491v1M170.5 492v1M171.5 493v1M172.5 493v1M173.5 494v1M174.5 495v1M175.5 496v1M176.5 496v1M177.5 497v1M178.5 498v1M179.5 499v1M180.5 499v1M181.5 500v1M182.5 501v1M183.5 502v1M184.5 502v1M185.5 503v1M186.5 504v1M187.5 505v1M188.5 505v1M189.5 506v1M190.5 507v1M191.5 508v1M192.5 508v1M193.5 509v1M194.5 510v1M195.5 510v1M196.5 511v1M197.5 511v1M198.5 511v1M199.5 512v1M200.5 512v1M201.5 512v1M202.5 513v1M203.5 513v1M204.5 514v1M205.5 514v1M206.5 515v1M207.5 515v1M208.5 516v1M209.5 516v1M210.5 517v1M211.5 517v1M212.5 518v1M213.5 518v1M214.5 518v1M215.5 519v1M216.5 519v1M217.5 519v1M218.5 520v1M219.5 520v1M220.5 521v1M221.5 521v1M222.5 521v1M223.5 522v1M224.5 522v1M225.5 522v1M226.5 523v1M227.5 523v1M228.5 524v1M229.5 524v1M230.5 524v1M231.5 525v1M232.5 525v1M233.5 525v1M234.5 525v1M235.5 526v1M236.5 526v1M237.5 526v1M238.5 526v1M239.5 527v1M240.5 527v1M241.5 527v1M242.5 527v1M243.5 527v1M244.5 527v1M245.5 527v1M246.5 527v1M247.5 526v1M248.5 526v1M249.5 526v1M250.5 526v1M251.5 527v1M252.5 527v1M253.5 527v1M254.5 527v1M255.5 527v1M256.5 527v1M257.5 527v1M258.5 527v1M259.5 527v1M260.5 527v1M261.5 527v1M262.5 527v1M263.5 527v1M264.5 527v1M265.5 527v1M266.5 527v1M267.5 526v1M268.5 526v1M269.5 526v1M270.5 526v1M271.5 525v1M272.5 525v1M273.5 525v1M274.5 525v1M275.5 524v1M276.5 524v1M277.5 524v1M278.5 523v1M279.5 523v1M280.5 522v1M281.5 522v1M282.5 521v1M283.5 521v1M284.5 520v1M285.5 520v1M286.5 519v1M287.5 518v1M288.5 518v1M289.5 517v1M290.5 516v1M291.5 515v1M292.5 515v1M293.5 514v1M294.5 513v1M295.5 512v1M296.5 512v1M297.5 511v1M298.5 510v1M299.5 509v1M300.5 509v1M301.5 508v1M302.5 507v1M303.5 506v1M304.5 505v1M305.5 504v1M306.5 503v1M307.5 502v1M308.5 502v1M309.5 501v1M310.5 500v1M311.5 499v1M312.5 499v1M313.5 498v1M314.5 497v1M315.5 497v1M316.5 496v1M317.5 496v1M318.5 496v1M319.5 495v1M320.5 495v1M321.5 495v1M322.5 494v1M323.5 494v1M324.5 493v1M325.5 493v1M326.5 492v1M327.5 492v1M328.5 491v1M329.5 491v1M330.5 490v1M331.5 490v1M332.5 489v1M333.5 489v1M334.5 488v1M335.5 488v1M336.5 487v1M337.5 487v1M338.5 486v1M339.5 486v1M340.5 485v1M341.5 485v1M342.5 484v1M343.5 484v1M344.5 483v1M345.5 483v1M346.5 483v1M347.5 482v1M348.5 482v1M349.5 482v1M350.5 481v1M351.5 481v1M352.5 480v1M353.5 480v1M354.5 479v1M355.5 479v1M356.5 478v1M357.5 478v1M358.5 477v1M359.5 477v1M360.5 476v1M361.5 476v1M362.5 475v1M363.5 475v1M364.5 474v1M365.5 474v1M366.5 473v1M367.5 473v1M368.5 472v1M369.5 472v1M370.5 471v1M371.5 470v1M372.5 470v1M373.5 469v1M374.5 468v1M375.5 468v1M376.5 467v1M377.5 467v1M378.5 466v1M379.5 466v1M380.5 465v1M381.5 465v1M382.5 464v1M383.5 464v1M384.5 463v1M385.5 463v1M386.5 463v1M387.5 462v1M388.5 462v1M389.5 462v1M390.5 461v1M391.5 461v1M392.5 460v1M393.5 460v1M394.5 459v1M395.5 459v1M396.5 458v1M397.5 458v1M398.5 457v1M399.5 457v1M400.5 456v1M401.5 456v1M402.5 455v1M403.5 454v1M404.5 454v1M405.5 453v1M406.5 452v1M407.5 451v1M408.5 450v1M409.5 449v1M410.5 448v1M411.5 446v2M412.5 445v1M413.5 444v1M414.5 442v2M415.5 441v1M416.5 439v2M417.5 438v1M418.5 436v2M419.5 435v1M420.5 433v2M421.5 432v1M422.5 430v2M423.5 428v2M424.5 426v2M425.5 425v1M426.5 423v2M427.5 422v1M428.5 420v2M429.5 418v2M430.5 416v2M431.5 414v2M432.5 412v2M433.5 409v3M434.5 406v3M435.5 403v3M436.5 400v3M437.5 397v3M438.5 394v3M439.5 391v3M440.5 388v3M441.5 385v3M442.5 382v3M443.5 380v2M444.5 377v3M445.5 374v3M446.5 371v3M447.5 368v3M448.5 365v3M449.5 362v3M450.5 359v3M451.5 355v4M452.5 352v3M453.5 349v3M454.5 346v3M455.5 343v3M456.5 340v3M457.5 337v3M458.5 334v3M459.5 332v2M460.5 329v3M461.5 327v2M462.5 325v2M463.5 323v2M464.5 321v2M465.5 319v2M466.5 317v2M467.5 315v2M468.5 313v2M469.5 311v2M470.5 309v2M471.5 307v2M472.5 305v2M473.5 302v3M474.5 300v2M475.5 298v2M476.5 296v2M477.5 294v2M478.5 292v2M479.5 290v2M480.5 288v2M481.5 285v3M482.5 283v2M483.5 281v2M484.5 279v2M485.5 277v2M486.5 275v2M487.5 273v2M488.5 271v2M489.5 269v2M490.5 267v2M491.5 265v2M492.5 263v2M493.5 262v1M494.5 260v2M495.5 258v2M496.5 256v2M497.5 255v1M498.5 253v2M499.5 251v2M500.5 249v2M501.5 248v1M502.5 246v2M503.5 244v2M504.5 242v2M505.5 241v1M506.5 239v2M507.5 238v1M508.5 236v2M509.5 235v1M510.5 234v1M511.5 232v2M512.5 231v1M513.5 230v1M514.5 228v2M515.5 227v1M516.5 225v2M517.5 224v1M518.5 223v1M519.5 221v2M520.5 220v1M521.5 219v1M522.5 218v1M523.5 217v1M524.5 216v1M525.5 215v1M526.5 214v1M527.5 214v1M528.5 213v1M529.5 213v1M530.5 212v1M531.5 211v1M532.5 211v1M533.5 210v1M534.5 209v1M535.5 208v1M536.5 208v1M537.5 207v1M538.5 207v1M539.5 207v1M540.5 207v1M541.5 207v1M542.5 207v1M543.5 206v1M544.5 206v1M545.5 206v1M546.5 206v1M547.5 205v1M548.5 205v1M549.5 205v1M550.5 205v1M551.5 205v1M552.5 205v1M553.5 205v1M554.5 206v1M555.5 207v1M556.5 208v1M557.5 209v1M558.5 210v1M559.5 211v1M560.5 212v1M561.5 213v1M562.5 214v1M563.5 215v1M564.5 215v1M565.5 216v1M566.5 217v1M567.5 218v1M568.5 218v1M569.5 219v1M570.5 220v1M571.5 221v2M572.5 223v1M573.5 224v1M574.5 225v1M575.5 226v2M576.5 228v1M577.5 229v1M578.5 230v1M579.5 231v1M580.5 231v1M581.5 232v1M582.5 233v1M583.5 233v1M584.5 234v1M585.5 234v1M586.5 234v1M587.5 234v1M588.5 234v1M589.5 234v1M590.5 233v1M591.5 233v1M592.5 232v1M593.5 232v1M594.5 232v1M595.5 233v1M596.5 233v1M597.5 233v1M598.5 233v1M599.5 234v1M600.5 234v1M601.5 234v1M602.5 234v1M603.5 235v1M604.5 235v1M605.5 235v1M606.5 235v1M607.5 236v1M608.5 236v1M609.5 236v1M610.5 237v1M611.5 238v1M612.5 238v1M613.5 239v1M614.5 240v1M615.5 240v1M616.5 241v1M617.5 241v1M618.5 241v1M619.5 242v1M620.5 242v1M621.5 242v1M622.5 242v1M623.5 241v1M624.5 241v1M625.5 241v1M626.5 241v1M627.5 241v1M628.5 241v1M629.5 241v1M630.5 241v1M631.5 240v1M632.5 240v1M633.5 240v1M634.5 239v1M635.5 239v1M636.5 238v1M637.5 238v1M638.5 238v1M639.5 237v1M640.5 237v1M641.5 237v1M642.5 237v1M643.5 237v1M644.5 237v1M645.5 237v1M646.5 237v1M647.5 237v1M648.5 237v1M649.5 237v1M650.5 238v1M651.5 238v1M652.5 239v1M653.5 239v1M654.5 240v1M655.5 240v1M656.5 241v1M657.5 241v1M658.5 241v1M659.5 241v1M660.5 241v1M661.5 241v1M662.5 241v1M663.5 241v1M664.5 241v1M665.5 241v1M666.5 241v1M667.5 242v1M668.5 242v1M669.5 242v1M670.5 243v1M671.5 244v1M672.5 245v1M673.5 246v1M674.5 247v1M675.5 248v1M676.5 248v1M677.5 249v1M678.5 250v1M679.5 251v1M680.5 251v1M681.5 252v1M682.5 253v1M683.5 254v1M684.5 254v1M685.5 255v1M686.5 256v1M687.5 257v1M688.5 257v1M689.5 258v1M690.5 259v1M691.5 260v1M692.5 261v1M693.5 262v1M694.5 263v1M695.5 264v2M696.5 266v1M697.5 267v1M698.5 268v1M699.5 269v2M700.5 271v1M701.5 272v1M702.5 273v1M703.5 274v1M704.5 274v1M705.5 275v1M706.5 276v2M707.5 278v2M708.5 280v2M709.5 282v1M710.5 283v2M711.5 285v1M712.5 286v2M713.5 288v1M714.5 289v2M715.5 291v2M716.5 293v2M717.5 295v1M718.5 296v2M719.5 298v1M720.5 299v2M721.5 301v1M722.5 302v2M723.5 304v2M724.5 306v2M725.5 308v2M726.5 310v1M727.5 311v1M728.5 312v1M729.5 313v1M730.5 314v1M731.5 315v1M732.5 315v1M733.5 316v1M734.5 317v1M735.5 318v1M736.5 318v1M737.5 319v1M738.5 320v1M739.5 321v1M740.5 322v1M741.5 323v1M742.5 324v1M743.5 325v1M744.5 326v1M745.5 327v1M746.5 328v2M747.5 330v1M748.5 331v2M749.5 333v1M750.5 334v1M751.5 335v1M752.5 336v1M753.5 337v1M754.5 338v1M755.5 339v2M756.5 341v1M757.5 342v1M758.5 343v1M759.5 344v2M760.5 346v1M761.5 347v1M762.5 348v1M763.5 349v1M764.5 350v1M765.5 351v1M766.5 352v1M767.5 353v1M768.5 354v1M769.5 355v1M770.5 356v1M771.5 357v1M772.5 357v1M773.5 358v1M774.5 359v1M775.5 360v1M776.5 360v1M777.5 361v1M778.5 362v1M779.5 363v1M780.5 363v1M781.5 364v1M782.5 365v1M783.5 366v1M784.5 367v1M785.5 368v1M786.5 369v1M787.5 369v1M788.5 370v1M789.5 370v1M790.5 371v1M791.5 371v1M792.5 372v1M793.5 372v1M794.5 373v1M795.5 373v1M796.5 374v1M797.5 374v1M798.5 375v1M799.5 375v1M800.5 376v1M801.5 376v1M802.5 377v1M803.5 378v1M804.5 378v1M805.5 379v1M806.5 380v1M807.5 380v1M808.5 381v1M809.5 381v1M810.5 381v1M811.5 381v1M812.5 381v1M813.5 381v1M814.5 381v1M815.5 381v1M816.5 381v1M817.5 381v1M818.5 381v1M819.5 380v1M820.5 380v1M821.5 380v1M822.5 380v1M823.5 380v1M824.5 380v1M825.5 380v1M826.5 379v1M827.5 379v1M828.5 378v1M829.5 378v1M830.5 377v1M831.5 377v1M832.5 376v1M833.5 376v1M834.5 376v1M835.5 375v1M836.5 375v1M837.5 375v1M838.5 374v1M839.5 374v1M840.5 373v1M841.5 373v1M842.5 373v1M843.5 372v1M844.5 372v1M845.5 372v1M846.5 372v1M847.5 372v1M848.5 372v1M849.5 372v1M850.5 372v1M851.5 372v1M852.5 372v1M853.5 372v1M854.5 372v1M855.5 372v1M856.5 372v1M857.5 372v1M858.5 372v1M859.5 373v1M860.5 373v1M861.5 373v1M862.5 373v1M863.5 374v1M864.5 374v1M865.5 374v1M866.5 375v1M867.5 375v1M868.5 376v1M869.5 376v1M870.5 377v1M871.5 377v1M872.5 378v1M873.5 378v1M874.5 379v1M875.5 379v1M876.5 380v1M877.5 380v1M878.5 381v1M879.5 381v1M880.5 382v1M881.5 382v1M882.5 382v1M883.5 383v1M884.5 383v1M885.5 383v1M886.5 384v1M887.5 384v1M888.5 385v1M889.5 385v1M890.5 386v1M891.5 386v1M892.5 387v1M893.5 387v1M894.5 388v1M895.5 388v1M896.5 389v1M897.5 389v1M898.5 390v1M899.5 391v1M900.5 391v1M901.5 392v1M902.5 393v1M903.5 394v1M904.5 394v1M905.5 395v1M906.5 396v1M907.5 397v1M908.5 397v1M909.5 398v1M910.5 399v1M911.5 399v1M912.5 400v1M913.5 400v1M914.5 401v1M915.5 402v1M916.5 403v1M917.5 404v1M918.5 405v1M919.5 406v1M920.5 406v1M921.5 407v1M922.5 407v1M923.5 408v1M924.5 408v1M925.5 408v1M926.5 409v1M927.5 409v1M928.5 410v1M929.5 410v1M930.5 411v1M931.5 411v1M932.5 412v1M933.5 412v1M934.5 413v1M935.5 414v1M936.5 414v1M937.5 415v1M938.5 416v1M939.5 417v1M940.5 417v1M941.5 418v1M942.5 419v1M943.5 420v1M944.5 420v1M945.5 421v1M946.5 422v1M947.5 423v1M948.5 424v1M949.5 425v1M950.5 426v1M951.5 427v1M952.5 427v1M953.5 428v1M954.5 429v1M955.5 430v1M956.5 430v1M957.5 431v1M958.5 432v1M959.5 433v2M960.5 435v1M961.5 436v1M962.5 437v1M963.5 438v1M964.5 438v1M965.5 439v1M966.5 440v1M967.5 441v1M968.5 442v1M969.5 443v1M970.5 444v1M971.5 445v1M972.5 445v1M973.5 446v1M974.5 447v1M975.5 448v1M976.5 449v1M977.5 450v1M978.5 451v1M979.5 452v1M980.5 452v1M981.5 453v1M982.5 454v1M983.5 455v1M984.5 455v1M985.5 456v1M986.5 457v1M987.5 457v1M988.5 458v1M989.5 458v1M990.5 459v1M991.5 460v1M992.5 460v1M993.5 461v1M994.5 462v1M995.5 463v1M996.5 463v1M997.5 464v1M998.5 465v1M999.5 466v1M1000.5 466v1M1001.5 467v1M1002.5 468v1M1003.5 469v1M1004.5 470v1M1005.5 471v1M1006.5 472v1M1007.5 473v1M1008.5 473v1M1009.5 474v1M1010.5 475v1M1011.5 476v1M1012.5 476v1M1013.5 477v1M1014.5 478v1M1015.5 479v1M1016.5 479v1M1017.5 480v1M1018.5 481v1M1019.5 482v1M1020.5 482v1M1021.5 483v1M1022.5 484v1M1023.5 485v1M1024.5 485v1M1025.5 486v1M1026.5 487v1M1027.5 488v1M1028.5 488v1M1029.5 489v1M1030.5 490v1M1031.5 490v1M1032.5 491v1M1033.5 491v1M1034.5 491v1M1035.5 492v1M1036.5 492v1M1037.5 492v1M1038.5 492v1M1039.5 493v1M1040.5 493v1M1041.5 493v1M1042.5 494v1M1043.5 494v1M1044.5 495v1M1045.5 495v1M1046.5 496v1M1047.5 496v1M1048.5 497v1M1049.5 497v1M1050.5 498v1M1051.5 498v1M1052.5 499v1M1053.5 499v1M1054.5 499v1M1055.5 500v1M1056.5 500v1M1057.5 500v1M1058.5 500v1M1059.5 501v1M1060.5 501v1M1061.5 501v1M1062.5 501v1M1063.5 501v1M1064.5 501v1M1065.5 501v1M1066.5 501v1M1067.5 501v1M1068.5 501v1M1069.5 501v1M1070.5 501v1M1071.5 502v1M1072.5 502v1M1073.5 502v1M1074.5 502v1M1075.5 501v1M1076.5 501v1M1077.5 501v1M1078.5 501v1M1079.5 500v1M1080.5 500v1M1081.5 500v1M1082.5 499v1M1083.5 499v1M1084.5 498v1M1085.5 498v1M1086.5 497v1M1087.5 497v1M1088.5 496v1M1089.5 496v1M1090.5 495v1M1091.5 495v1M1092.5 494v1M1093.5 494v1M1094.5 493v1M1095.5 493v1M1096.5 492v1M1097.5 492v1M1098.5 491v1M1099.5 491v1M1100.5 490v1M1101.5 490v1M1102.5 489v1M1103.5 489v1M1104.5 488v1M1105.5 488v1M1106.5 487v1M1107.5 487v1M1108.5 486v1M1109.5 486v1M1110.5 485v1M1111.5 485v1M1112.5 484v1M1113.5 484v1M1114.5 483v1M1115.5 483v1M1116.5 482v1M1117.5 482v1M1118.5 481v1M1119.5 481v1M1120.5 480v1M1121.5 480v1M1122.5 479v1M1123.5 479v1M1124.5 478v1M1125.5 478v1M1126.5 477v1M1127.5 477v1M1128.5 476v1M1129.5 476v1M1130.5 475v1M1131.5 474v1M1132.5 474v1M1133.5 473v1M1134.5 473v1M1135.5 473v1M1136.5 473v1M1137.5 473v1M1138.5 473v1M1139.5 472v1M1140.5 472v1M1141.5 472v1M1142.5 472v1M1143.5 471v1M1144.5 471v1M1145.5 471v1M1146.5 471v1M1147.5 471v1M1148.5 471v1M1149.5 471v1M1150.5 471v1M1151.5 472v1M1152.5 472v1M1153.5 472v1M1154.5 472v1M1155.5 472v1M1156.5 472v1M1157.5 472v1M1158.5 472v1M1159.5 471v1M1160.5 471v1M1161.5 471v1M1162.5 471v1M1163.5 471v1M1164.5 471v1M1165.5 471v1M1166.5 471v1M1167.5 471v1M1168.5 471v1M1169.5 471v1M1170.5 471v1M1171.5 471v1M1172.5 471v1M1173.5 471v1M1174.5 471v1M1175.5 472v1M1176.5 472v1M1177.5 472v1M1178.5 472v1M1179.5 472v1M1180.5 472v1M1181.5 472v1M1182.5 472v1M1183.5 473v1M1184.5 473v1M1185.5 473v1M1186.5 473v1M1187.5 473v1M1188.5 473v1M1189.5 473v1M1190.5 473v1M1191.5 474v1M1192.5 474v1M1193.5 474v1M1194.5 474v1M1195.5 475v1M1196.5 475v1M1197.5 475v1M1198.5 475v1M1199.5 476v1M1200.5 476v1M1201.5 476v1M1202.5 476v1M1203.5 477v1M1204.5 477v1M1205.5 477v1M1206.5 477v1M1207.5 477v1M1208.5 477v1M1209.5 477v1M1210.5 477v1M1211.5 477v1M1212.5 477v1M1213.5 477v1M1214.5 477v1M1215.5 478v1M1216.5 478v1M1217.5 478v1M1218.5 478v1M1219.5 479v1M1220.5 479v1M1221.5 479v1M1222.5 480v1M1223.5 481v1M1224.5 481v1M1225.5 482v1M1226.5 483v1M1227.5 483v1M1228.5 484v1M1229.5 484v1M1230.5 485v1M1231.5 486v1M1232.5 486v1M1233.5 487v1M1234.5 488v1M1235.5 489v1M1236.5 489v1M1237.5 490v1M1238.5 491v1M1239.5 491v1M1240.5 492v1M1241.5 492v1M1242.5 493v1M1243.5 494v1M1244.5 494v1M1245.5 495v1M1246.5 496v1M1247.5 497v1M1248.5 497v1M1249.5 498v1M1250.5 499v1M1251.5 499v1M1252.5 500v1M1253.5 500v1M1254.5 500v1M1255.5 501v1M1256.5 501v1M1257.5 501v1M1258.5 501v1M1259.5 501v1M1260.5 501v1M1261.5 501v1M1262.5 501v1M1263.5 501v1M1264.5 501v1M1265.5 501v1M1266.5 501v1M1267.5 501v1M1268.5 501v1M1269.5 501v1" fill="none" stroke="#0000c8" stroke-width="1" shape-rendering="crispEdges" clip-path="url(#cm)"/>
<path d="M5.5 494v1M6.5 493v1M7.5 492v1M8.5 492v1M9.5 491v1M10.5 490v1M11.5 490v1M12.5 489v1M13.5 489v1M14.5 488v1M15.5 488v1M16.5 487v1M17.5 487v1M18.5 487v1M19.5 486v1M20.5 486v1M21.5 486v1M22.5 485v1M23.5 485v1M24.5 484v1M25.5 484v1M26.5 483v1M27.5 482v1M28.5 482v1M29.5 481v1M30.5 480v1M31.5 479v1M32.5 479v1M33.5 478v1M34.5 477v1M35.5 477v1M36.5 476v1M37.5 476v1M38.5 475v1M39.5 475v1M40.5 474v1M41.5 474v1M42.5 473v1M43.5 472v1M44.5 472v1M45.5 471v1M46.5 471v1M47.5 470v1M48.5 470v1M49.5 470v1M50.5 470v1M51.5 469v1M52.5 469v1M53.5 469v1M54.5 469v1M55.5 468v1M56.5 468v1M57.5 468v1M58.5 468v1M59.5 467v1M60.5 467v1M61.5 467v1M62.5 467v1M63.5 466v1M64.5 466v1M65.5 466v1M66.5 465v1M67.5 465v1M68.5 464v1M69.5 464v1M70.5 464v1M71.5 463v1M72.5 463v1M73.5 463v1M74.5 463v1M75.5 463v1M76.5 463v1M77.5 463v1M78.5 463v1M79.5 464v1M80.5 464v1M81.5 464v1M82.5 464v1M83.5 464v1M84.5 464v1M85.5 464v1M86.5 464v1M87.5 465v1M88.5 465v1M89.5 465v1M90.5 465v1M91.5 466v1M92.5 466v1M93.5 466v1M94.5 466v1M95.5 467v1M96.5 467v1M97.5 467v1M98.5 468v1M99.5 468v1M100.5 469v1M101.5 469v1M102.5 470v1M103.5 470v1M104.5 471v1M105.5 471v1M106.5 472v1M107.5 472v1M108.5 473v1M109.5 473v1M110.5 474v1M111.5 475v1M112.5 475v1M113.5 476v1M114.5 477v1M115.5 477v1M116.5 478v1M117.5 478v1M118.5 479v1M119.5 480v1M120.5 480v1M121.5 481v1M122.5 482v1M123.5 483v1M124.5 484v1M125.5 485v1M126.5 486v1M127.5 487v1M128.5 487v1M129.5 488v1M130.5 489v1M131.5 489v1M132.5 490v1M133.5 490v1M134.5 490v1M135.5 490v1M136.5 490v1M137.5 490v1M138.5 491v1M139.5 491v1M140.5 492v1M141.5 492v1M142.5 493v1M143.5 493v1M144.5 494v1M145.5 494v1M146.5 494v1M147.5 495v1M148.5 495v1M149.5 495v1M150.5 496v1M151.5 497v1M152.5 497v1M153.5 498v1M154.5 499v1M155.5 500v1M156.5 500v1M157.5 501v1M158.5 502v1M159.5 502v1M160.5 503v1M161.5 503v1M162.5 504v1M163.5 505v1M164.5 505v1M165.5 506v1M166.5 507v1M167.5 508v2M168.5 510v1M169.5 511v1M170.5 512v1M171.5 513v1M172.5 513v1M173.5 514v1M174.5 515v1M175.5 516v1M176.5 517v1M177.5 518v1M178.5 519v1M179.5 520v1M180.5 520v1M181.5 521v1M182.5 522v1M183.5 523v1M184.5 523v1M185.5 524v1M186.5 525v1M187.5 526v1M188.5 527v1M189.5 528v1M190.5 529v1M191.5 530v1M192.5 530v1M193.5 531v1M194.5 532v1M195.5 533v1M196.5 533v1M197.5 534v1M198.5 534v1M199.5 535v1M200.5 535v1M201.5 535v1M202.5 536v1M203.5 537v1M204.5 537v1M205.5 538v1M206.5 538v1M207.5 539v1M208.5 539v1M209.5 539v1M210.5 539v1M211.5 540v1M212.5 540v1M213.5 540v1M214.5 540v1M215.5 540v1M216.5 540v1M217.5 540v1M218.5 540v1M219.5 540v1M220.5 540v1M221.5 540v1M222.5 539v1M223.5 539v1M224.5 538v1M225.5 538v1M226.5 538v1M227.5 537v1M228.5 537v1M229.5 537v1M230.5 536v1M231.5 536v1M232.5 535v1M233.5 535v1M234.5 534v1M235.5 534v1M236.5 533v1M237.5 533v1M238.5 533v1M239.5 532v1M240.5 532v1M241.5 532v1M242.5 531v1M243.5 530v1M244.5 530v1M245.5 529v1M246.5 528v1M247.5 527v1M248.5 527v1M249.5 526v1M250.5 525v1M251.5 525v1M252.5 524v1M253.5 524v1M254.5 524v1M255.5 523v1M256.5 523v1M257.5 523v1M258.5 522v1M259.5 521v1M260.5 521v1M261.5 520v1M262.5 519v1M263.5 518v1M264.5 518v1M265.5 517v1M266.5 516v1M267.5 515v1M268.5 515v1M269.5 514v1M270.5 513v1M271.5 512v1M272.5 512v1M273.5 511v1M274.5 510v1M275.5 509v1M276.5 508v1M277.5 507v1M278.5 506v1M279.5 505v1M280.5 504v1M281.5 503v1M282.5 502v1M283.5 500v2M284.5 499v1M285.5 498v1M286.5 497v1M287.5 496v1M288.5 495v1M289.5 494v1M290.5 493v1M291.5 491v2M292.5 490v1M293.5 489v1M294.5 488v1M295.5 486v2M296.5 485v1M297.5 484v1M298.5 483v1M299.5 482v1M300.5 481v1M301.5 480v1M302.5 479v1M303.5 478v1M304.5 478v1M305.5 477v1M306.5 476v1M307.5 475v1M308.5 474v1M309.5 473v1M310.5 472v1M311.5 471v1M312.5 471v1M313.5 470v1M314.5 469v1M315.5 469v1M316.5 468v1M317.5 468v1M318.5 468v1M319.5 467v1M320.5 467v1M321.5 467v1M322.5 467v1M323.5 466v1M324.5 466v1M325.5 466v1M326.5 466v1M327.5 465v1M328.5 465v1M329.5 465v1M330.5 465v1M331.5 465v1M332.5 465v1M333.5 465v1M334.5 465v1M335.5 464v1M336.5 464v1M337.5 464v1M338.5 464v1M339.5 465v1M340.5 465v1M341.5 465v1M342.5 465v1M343.5 466v1M344.5 466v1M345.5 466v1M346.5 467v1M347.5 467v1M348.5 468v1M349.5 468v1M350.5 469v1M351.5 469v1M352.5 470v1M353.5 470v1M354.5 470v1M355.5 471v1M356.5 471v1M357.5 471v1M358.5 471v1M359.5 471v1M360.5 471v1M361.5 471v1M362.5 471v1M363.5 471v1M364.5 471v1M365.5 471v1M366.5 471v1M367.5 470v1M368.5 470v1M369.5 470v1M370.5 469v1M371.5 468v1M372.5 468v1M373.5 467v1M374.5 466v1M375.5 465v1M376.5 465v1M377.5 464v1M378.5 463v1M379.5 462v1M380.5 462v1M381.5 461v1M382.5 460v1M383.5 460v1M384.5 459v1M385.5 459v1M386.5 458v1M387.5 457v1M388.5 457v1M389.5 456v1M390.5 455v1M391.5 454v1M392.5 453v1M393.5 452v1M394.5 451v1M395.5 450v1M396.5 449v1M397.5 448v1M398.5 447v1M399.5 446v1M400.5 446v1M401.5 445v1M402.5 443v2M403.5 441v2M404.5 439v2M405.5 437v2M406.5 434v3M407.5 431v3M408.5 428v3M409.5 425v3M410.5 423v2M411.5 420v3M412.5 418v2M413.5 415v3M414.5 412v3M415.5 408v4M416.5 405v3M417.5 402v3M418.5 398v4M419.5 395v3M420.5 391v4M421.5 388v3M422.5 385v3M423.5 382v3M424.5 379v3M425.5 376v3M426.5 373v3M427.5 370v3M428.5 367v3M429.5 363v4M430.5 359v4M431.5 355v4M432.5 351v4M433.5 346v5M434.5 340v6M435.5 334v6M436.5 328v6M437.5 322v6M438.5 316v6M439.5 310v6M440.5 304v6M441.5 298v6M442.5 293v5M443.5 288v5M444.5 283v5M445.5 278v5M446.5 272v6M447.5 267v5M448.5 261v6M449.5 256v5M450.5 250v6M451.5 244v6M452.5 238v6M453.5 232v6M454.5 226v6M455.5 220v6M456.5 214v6M457.5 209v5M458.5 205v4M459.5 201v4M460.5 197v4M461.5 194v3M462.5 193v1M463.5 191v2M464.5 190v1M465.5 189v1M466.5 187v2M467.5 185v2M468.5 183v2M469.5 182v1M470.5 181v1M471.5 181v1M472.5 180v1M473.5 180v1M474.5 179v1M475.5 178v1M476.5 178v1M477.5 177v1M478.5 176v1M479.5 174v2M480.5 173v1M481.5 172v1M482.5 171v1M483.5 169v2M484.5 168v1M485.5 167v1M486.5 167v1M487.5 168v1M488.5 168v1M489.5 168v2M490.5 170v2M491.5 172v2M492.5 174v2M493.5 176v2M494.5 178v2M495.5 180v1M496.5 181v2M497.5 183v1M498.5 184v1M499.5 185v2M500.5 187v1M501.5 188v2M502.5 190v2M503.5 192v3M504.5 195v2M505.5 197v3M506.5 200v3M507.5 203v2M508.5 205v3M509.5 208v3M510.5 211v3M511.5 214v2M512.5 216v3M513.5 219v2M514.5 221v2M515.5 223v2M516.5 225v2M517.5 227v2M518.5 229v1M519.5 229v1M520.5 230v1M521.5 230v1M522.5 231v1M523.5 231v1M524.5 232v1M525.5 232v1M526.5 232v1M527.5 233v1M528.5 233v1M529.5 233v1M530.5 233v1M531.5 234v1M532.5 234v1M533.5 234v1M534.5 234v1M535.5 234v1M536.5 234v1M537.5 234v1M538.5 235v1M539.5 236v1M540.5 237v1M541.5 238v1M542.5 239v1M543.5 239v1M544.5 240v1M545.5 240v1M546.5 241v1M547.5 241v1M548.5 242v1M549.5 242v1M550.5 242v1M551.5 241v1M552.5 241v1M553.5 241v1M554.5 241v1M555.5 241v1M556.5 241v1M557.5 241v1M558.5 241v1M559.5 240v1M560.5 240v1M561.5 240v1M562.5 239v1M563.5 239v1M564.5 238v1M565.5 238v1M566.5 237v1M567.5 236v1M568.5 236v1M569.5 235v1M570.5 234v1M571.5 234v1M572.5 233v1M573.5 233v1M574.5 233v1M575.5 232v1M576.5 232v1M577.5 232v1M578.5 232v1M579.5 233v1M580.5 233v1M581.5 233v1M582.5 233v1M583.5 233v1M584.5 233v1M585.5 233v1M586.5 233v1M587.5 233v1M588.5 233v1M589.5 233v1M590.5 233v1M591.5 234v1M592.5 234v1M593.5 234v1M594.5 234v1M595.5 233v1M596.5 233v1M597.5 233v1M598.5 233v1M599.5 233v1M600.5 233v1M601.5 233v1M602.5 232v1M603.5 232v1M604.5 231v1M605.5 231v1M606.5 232v1M607.5 233v2M608.5 235v1M609.5 236v1M610.5 237v1M611.5 238v2M612.5 240v1M613.5 241v1M614.5 242v1M615.5 242v1M616.5 243v1M617.5 243v1M618.5 243v1M619.5 244v1M620.5 244v1M621.5 244v1M622.5 245v1M623.5 246v1M624.5 246v1M625.5 247v1M626.5 247v1M627.5 246v1M628.5 246v1M629.5 246v1M630.5 245v1M631.5 245v1M632.5 244v1M633.5 244v1M634.5 243v1M635.5 242v1M636.5 241v1M637.5 240v1M638.5 239v1M639.5 238v1M640.5 237v1M641.5 236v1M642.5 237v1M643.5 238v1M644.5 238v1M645.5 239v1M646.5 240v1M647.5 241v1M648.5 242v1M649.5 243v1M650.5 244v1M651.5 245v1M652.5 246v1M653.5 247v1M654.5 247v1M655.5 248v1M656.5 248v1M657.5 248v1M658.5 249v1M659.5 250v1M660.5 250v1M661.5 251v1M662.5 251v1M663.5 250v1M664.5 250v1M665.5 250v1M666.5 250v1M667.5 249v1M668.5 249v1M669.5 249v1M670.5 250v1M671.5 251v1M672.5 251v1M673.5 252v1M674.5 253v1M675.5 254v2M676.5 256v1M677.5 257v1M678.5 258v1M679.5 259v2M680.5 261v1M681.5 262v1M682.5 263v2M683.5 265v1M684.5 266v2M685.5 268v1M686.5 269v2M687.5 271v1M688.5 272v2M689.5 274v2M690.5 276v3M691.5 279v2M692.5 281v3M693.5 284v3M694.5 287v3M695.5 290v3M696.5 293v3M697.5 296v3M698.5 299v2M699.5 301v3M700.5 304v2M701.5 306v2M702.5 308v2M703.5 310v2M704.5 312v2M705.5 314v3M706.5 317v2M707.5 319v3M708.5 322v2M709.5 324v3M710.5 327v3M711.5 330v2M712.5 332v3M713.5 335v3M714.5 338v4M715.5 342v3M716.5 345v4M717.5 349v3M718.5 352v3M719.5 355v3M720.5 358v3M721.5 361v3M722.5 364v3M723.5 367v3M724.5 370v3M725.5 373v2M726.5 375v1M727.5 376v2M728.5 378v1M729.5 379v1M730.5 380v1M731.5 381v2M732.5 383v1M733.5 384v1M734.5 385v1M735.5 386v1M736.5 386v1M737.5 387v1M738.5 388v1M739.5 389v1M740.5 390v1M741.5 391v1M742.5 392v1M743.5 393v1M744.5 394v1M745.5 395v1M746.5 395v1M747.5 396v1M748.5 396v1M749.5 396v1M750.5 395v1M751.5 395v1M752.5 394v1M753.5 394v1M754.5 393v1M755.5 393v1M756.5 392v1M757.5 392v1M758.5 391v1M759.5 391v1M760.5 390v1M761.5 390v1M762.5 389v1M763.5 389v1M764.5 388v1M765.5 388v1M766.5 387v1M767.5 387v1M768.5 386v1M769.5 386v1M770.5 385v1M771.5 383v2M772.5 382v1M773.5 381v1M774.5 380v1M775.5 379v1M776.5 378v1M777.5 377v1M778.5 375v2M779.5 373v2M780.5 371v2M781.5 370v1M782.5 369v1M783.5 369v1M784.5 368v1M785.5 368v1M786.5 367v1M787.5 367v1M788.5 366v1M789.5 366v1M790.5 366v1M791.5 366v1M792.5 366v1M793.5 366v1M794.5 366v1M795.5 367v1M796.5 367v1M797.5 367v1M798.5 367v1M799.5 366v1M800.5 366v1M801.5 366v1M802.5 366v1M803.5 366v1M804.5 366v1M805.5 366v1M806.5 366v1M807.5 367v1M808.5 367v1M809.5 367v1M810.5 368v1M811.5 368v1M812.5 369v1M813.5 369v1M814.5 369v1M815.5 369v1M816.5 369v1M817.5 369v1M818.5 369v1M819.5 369v1M820.5 369v1M821.5 369v1M822.5 369v1M823.5 368v1M824.5 368v1M825.5 368v1M826.5 368v1M827.5 368v1M828.5 368v1M829.5 368v1M830.5 368v1M831.5 369v1M832.5 369v1M833.5 369v1M834.5 370v1M835.5 371v1M836.5 371v1M837.5 372v1M838.5 372v1M839.5 373v1M840.5 373v1M841.5 373v1M842.5 374v1M843.5 375v1M844.5 376v1M845.5 377v1M846.5 377v1M847.5 378v1M848.5 378v1M849.5 378v1M850.5 378v1M851.5 378v1M852.5 378v1M853.5 378v1M854.5 378v1M855.5 379v1M856.5 379v1M857.5 379v1M858.5 379v1M859.5 379v1M860.5 379v1M861.5 379v1M862.5 380v1M863.5 381v1M864.5 381v1M865.5 382v1M866.5 383v1M867.5 384v1M868.5 384v1M869.5 385v1M870.5 386v1M871.5 387v1M872.5 388v1M873.5 389v1M874.5 390v1M875.5 391v1M876.5 391v1M877.5 392v1M878.5 393v1M879.5 394v1M880.5 394v1M881.5 395v1M882.5 396v1M883.5 397v1M884.5 398v1M885.5 399v1M886.5 400v1M887.5 401v2M888.5 403v1M889.5 404v1M890.5 405v1M891.5 406v1M892.5 407v1M893.5 408v1M894.5 409v1M895.5 410v1M896.5 411v1M897.5 412v1M898.5 413v1M899.5 413v1M900.5 414v1M901.5 414v1M902.5 415v1M903.5 416v1M904.5 417v1M905.5 418v1M906.5 419v1M907.5 420v1M908.5 420v1M909.5 421v1M910.5 422v1M911.5 423v2M912.5 425v1M913.5 426v1M914.5 427v2M915.5 429v1M916.5 430v2M917.5 432v1M918.5 433v1M919.5 434v1M920.5 434v1M921.5 435v1M922.5 435v1M923.5 435v1M924.5 435v1M925.5 435v1M926.5 435v1M927.5 435v1M928.5 435v1M929.5 435v1M930.5 436v1M931.5 436v1M932.5 437v1M933.5 437v1M934.5 438v1M935.5 438v1M936.5 439v1M937.5 439v1M938.5 440v1M939.5 441v1M940.5 441v1M941.5 442v1M942.5 443v1M943.5 444v1M944.5 444v1M945.5 445v1M946.5 446v1M947.5 447v1M948.5 447v1M949.5 448v1M950.5 449v1M951.5 450v1M952.5 451v1M953.5 452v1M954.5 453v1M955.5 454v1M956.5 455v1M957.5 456v1M958.5 457v1M959.5 458v1M960.5 459v1M961.5 460v1M962.5 461v1M963.5 462v2M964.5 464v1M965.5 465v1M966.5 466v1M967.5 467v1M968.5 468v1M969.5 469v1M970.5 469v1M971.5 470v1M972.5 470v1M973.5 470v1M974.5 471v1M975.5 471v1M976.5 472v1M977.5 472v1M978.5 473v1M979.5 474v1M980.5 475v1M981.5 476v1M982.5 477v1M983.5 478v1M984.5 479v1M985.5 480v1M986.5 481v1M987.5 482v1M988.5 483v1M989.5 484v1M990.5 485v1M991.5 486v1M992.5 487v1M993.5 488v1M994.5 489v1M995.5 490v1M996.5 490v1M997.5 491v1M998.5 492v1M999.5 493v1M1000.5 493v1M1001.5 494v1M1002.5 495v1M1003.5 496v1M1004.5 497v1M1005.5 498v1M1006.5 499v1M1007.5 500v2M1008.5 502v1M1009.5 503v1M1010.5 504v1M1011.5 505v1M1012.5 505v1M1013.5 506v1M1014.5 506v1M1015.5 506v1M1016.5 506v1M1017.5 506v1M1018.5 507v1M1019.5 507v1M1020.5 508v1M1021.5 508v1M1022.5 509v1M1023.5 510v1M1024.5 510v1M1025.5 511v1M1026.5 512v1M1027.5 512v1M1028.5 513v1M1029.5 513v1M1030.5 513v1M1031.5 513v1M1032.5 513v1M1033.5 513v1M1034.5 513v1M1035.5 514v1M1036.5 514v1M1037.5 514v1M1038.5 515v1M1039.5 515v1M1040.5 516v1M1041.5 516v1M1042.5 516v1M1043.5 515v1M1044.5 515v1M1045.5 515v1M1046.5 514v1M1047.5 514v1M1048.5 513v1M1049.5 513v1M1050.5 513v1M1051.5 512v1M1052.5 512v1M1053.5 512v1M1054.5 511v1M1055.5 510v1M1056.5 510v1M1057.5 509v1M1058.5 508v1M1059.5 507v1M1060.5 507v1M1061.5 506v1M1062.5 505v1M1063.5 504v1M1064.5 504v1M1065.5 503v1M1066.5 502v1M1067.5 501v1M1068.5 501v1M1069.5 500v1M1070.5 500v1M1071.5 499v1M1072.5 499v1M1073.5 499v1M1074.5 498v1M1075.5 497v1M1076.5 496v1M1077.5 495v1M1078.5 493v2M1079.5 492v1M1080.5 490v2M1081.5 489v1M1082.5 487v2M1083.5 486v1M1084.5 484v2M1085.5 483v1M1086.5 482v1M1087.5 481v1M1088.5 480v1M1089.5 479v1M1090.5 478v1M1091.5 476v2M1092.5 475v1M1093.5 474v1M1094.5 473v1M1095.5 471v2M1096.5 470v1M1097.5 469v1M1098.5 468v1M1099.5 467v1M1100.5 466v1M1101.5 465v1M1102.5 464v1M1103.5 462v2M1104.5 461v1M1105.5 460v1M1106.5 459v1M1107.5 458v1M1108.5 458v1M1109.5 457v1M1110.5 456v1M1111.5 456v1M1112.5 455v1M1113.5 455v1M1114.5 454v1M1115.5 453v1M1116.5 453v1M1117.5 452v1M1118.5 451v1M1119.5 451v1M1120.5 450v1M1121.5 450v1M1122.5 449v1M1123.5 449v1M1124.5 448v1M1125.5 448v1M1126.5 447v1M1127.5 447v1M1128.5 446v1M1129.5 446v1M1130.5 446v1M1131.5 446v1M1132.5 446v1M1133.5 446v1M1134.5 447v1M1135.5 447v1M1136.5 448v1M1137.5 448v1M1138.5 449v2M1139.5 451v1M1140.5 452v2M1141.5 454v1M1142.5 455v1M1143.5 456v2M1144.5 458v1M1145.5 459v1M1146.5 460v2M1147.5 462v1M1148.5 463v2M1149.5 465v1M1150.5 466v1M1151.5 467v2M1152.5 469v1M1153.5 470v1M1154.5 471v1M1155.5 472v2M1156.5 474v1M1157.5 475v1M1158.5 476v1M1159.5 477v1M1160.5 478v1M1161.5 479v1M1162.5 480v1M1163.5 481v1M1164.5 481v1M1165.5 482v1M1166.5 483v1M1167.5 483v1M1168.5 484v1M1169.5 484v1M1170.5 485v1M1171.5 486v1M1172.5 487v1M1173.5 488v1M1174.5 489v1M1175.5 490v1M1176.5 491v1M1177.5 492v1M1178.5 493v1M1179.5 493v1M1180.5 494v1M1181.5 494v1M1182.5 495v1M1183.5 496v1M1184.5 496v1M1185.5 497v1M1186.5 498v1M1187.5 499v1M1188.5 499v1M1189.5 500v1M1190.5 501v1M1191.5 501v1M1192.5 502v1M1193.5 502v1M1194.5 501v1M1195.5 501v1M1196.5 500v1M1197.5 500v1M1198.5 500v1M1199.5 499v1M1200.5 499v1M1201.5 499v1M1202.5 498v1M1203.5 497v1M1204.5 496v1M1205.5 495v1M1206.5 494v1M1207.5 492v2M1208.5 491v1M1209.5 490v1M1210.5 489v1M1211.5 488v1M1212.5 487v1M1213.5 486v1M1214.5 486v1M1215.5 485v1M1216.5 485v1M1217.5 485v1M1218.5 484v1M1219.5 484v1M1220.5 483v1M1221.5 483v1M1222.5 483v1M1223.5 484v1M1224.5 484v1M1225.5 484v1M1226.5 484v1M1227.5 485v1M1228.5 485v1M1229.5 485v1M1230.5 486v1M1231.5 486v1M1232.5 487v1M1233.5 487v1M1234.5 488v1M1235.5 488v1M1236.5 489v1M1237.5 489v1M1238.5 490v1M1239.5 491v1M1240.5 491v1M1241.5 492v1M1242.5 493v1M1243.5 494v1M1244.5 494v1M1245.5 495v1M1246.5 496v1M1247.5 497v1M1248.5 497v1M1249.5 498v1M1250.5 499v1M1251.5 500v1M1252.5 500v1M1253.5 501v1M1254.5 501v1M1255.5 502v1M1256.5 502v1M1257.5 502v1M1258.5 503v1M1259.5 504v1M1260.5 504v1M1261.5 505v1M1262.5 506v1M1263.5 507v2M1264.5 509v1M1265.5 510v1M1266.5 511v1M1267.5 512v1M1268.5 513v1M1269.5 514v1" fill="none" stroke="#ff0000" stroke-width="1" shape-rendering="crispEdges" clip-path="url(#cm)"/>
<path d="M5.5 479v1M6.5 478v1M7.5 477v1M8.5 477v1M9.5 476v1M10.5 476v1M11.5 476v1M12.5 476v1M13.5 476v1M14.5 476v1M15.5 476v1M16.5 476v1M17.5 476v1M18.5 476v1M19.5 477v1M20.5 477v1M21.5 477v1M22.5 477v1M23.5 478v1M24.5 478v1M25.5 478v1M26.5 477v1M27.5 477v1M28.5 476v1M29.5 476v1M30.5 475v1M31.5 474v1M32.5 474v1M33.5 473v1M34.5 472v1M35.5 471v1M36.5 470v1M37.5 469v1M38.5 468v1M39.5 466v2M40.5 465v1M41.5 464v1M42.5 463v1M43.5 461v2M44.5 460v1M45.5 459v1M46.5 459v1M47.5 460v1M48.5 460v1M49.5 460v1M50.5 460v1M51.5 460v1M52.5 460v1M53.5 460v1M54.5 460v1M55.5 459v1M56.5 459v1M57.5 459v1M58.5 459v1M59.5 460v1M60.5 460v1M61.5 460v1M62.5 461v1M63.5 461v1M64.5 462v1M65.5 462v1M66.5 462v1M67.5 461v1M68.5 461v1M69.5 461v1M70.5 461v1M71.5 460v1M72.5 460v1M73.5 460v1M74.5 461v1M75.5 462v1M76.5 463v1M77.5 464v1M78.5 465v2M79.5 467v1M80.5 468v2M81.5 470v1M82.5 470v1M83.5 470v1M84.5 470v1M85.5 470v1M86.5 471v1M87.5 472v1M88.5 473v1M89.5 474v1M90.5 475v1M91.5 476v1M92.5 477v1M93.5 478v1M94.5 478v1M95.5 477v1M96.5 477v1M97.5 477v1M98.5 476v1M99.5 476v1M100.5 475v1M101.5 475v1M102.5 476v1M103.5 477v2M104.5 479v1M105.5 480v1M106.5 481v1M107.5 482v1M108.5 482v1M109.5 483v1M110.5 484v1M111.5 484v1M112.5 485v1M113.5 485v1M114.5 486v2M115.5 488v1M116.5 489v2M117.5 491v1M118.5 492v1M119.5 493v1M120.5 493v1M121.5 494v1M122.5 495v1M123.5 496v2M124.5 498v1M125.5 499v1M126.5 500v1M127.5 501v1M128.5 502v1M129.5 503v1M130.5 503v1M131.5 504v1M132.5 504v1M133.5 504v1M134.5 504v1M135.5 503v1M136.5 503v1M137.5 503v1M138.5 503v1M139.5 502v1M140.5 502v1M141.5 502v1M142.5 501v1M143.5 500v1M144.5 500v1M145.5 499v1M146.5 498v1M147.5 498v1M148.5 497v1M149.5 497v1M150.5 498v1M151.5 499v1M152.5 499v1M153.5 500v1M154.5 501v1M155.5 502v2M156.5 504v1M157.5 505v1M158.5 506v2M159.5 508v1M160.5 509v2M161.5 511v1M162.5 512v2M163.5 514v1M164.5 515v2M165.5 517v2M166.5 519v3M167.5 522v3M168.5 525v3M169.5 528v2M170.5 530v2M171.5 532v2M172.5 534v2M173.5 536v2M174.5 538v2M175.5 540v1M176.5 541v2M177.5 543v1M178.5 544v1M179.5 545v2M180.5 547v1M181.5 548v1M182.5 549v1M183.5 550v1M184.5 551v1M185.5 552v1M186.5 552v1M187.5 552v1M188.5 552v1M189.5 552v1M190.5 551v1M191.5 551v1M192.5 550v1M193.5 550v1M194.5 549v1M195.5 548v1M196.5 547v1M197.5 546v1M198.5 544v2M199.5 542v2M200.5 540v2M201.5 539v1M202.5 538v1M203.5 537v1M204.5 537v1M205.5 536v1M206.5 535v1M207.5 533v2M208.5 532v1M209.5 531v1M210.5 530v1M211.5 530v1M212.5 529v1M213.5 529v1M214.5 528v1M215.5 528v1M216.5 527v1M217.5 527v1M218.5 528v1M219.5 529v1M220.5 530v1M221.5 531v1M222.5 531v1M223.5 531v1M224.5 531v1M225.5 531v1M226.5 531v1M227.5 531v1M228.5 531v1M229.5 531v1M230.5 531v1M231.5 530v1M232.5 530v1M233.5 530v1M234.5 530v1M235.5 530v1M236.5 530v1M237.5 530v1M238.5 530v1M239.5 529v1M240.5 529v1M241.5 529v1M242.5 528v1M243.5 526v2M244.5 525v1M245.5 524v1M246.5 523v1M247.5 521v2M248.5 520v1M249.5 519v1M250.5 518v1M251.5 517v1M252.5 516v1M253.5 515v1M254.5 514v1M255.5 512v2M256.5 511v1M257.5 510v1M258.5 508v2M259.5 506v2M260.5 504v2M261.5 503v1M262.5 502v1M263.5 501v1M264.5 500v1M265.5 499v1M266.5 498v1M267.5 497v1M268.5 497v1M269.5 496v1M270.5 495v1M271.5 493v2M272.5 492v1M273.5 491v1M274.5 490v1M275.5 488v2M276.5 487v1M277.5 486v1M278.5 485v1M279.5 484v1M280.5 484v1M281.5 483v1M282.5 482v1M283.5 480v2M284.5 479v1M285.5 478v1M286.5 477v1M287.5 475v2M288.5 474v1M289.5 473v1M290.5 472v1M291.5 471v1M292.5 470v1M293.5 469v1M294.5 468v1M295.5 467v1M296.5 466v1M297.5 465v1M298.5 464v1M299.5 463v1M300.5 462v1M301.5 461v1M302.5 460v1M303.5 460v1M304.5 459v1M305.5 459v1M306.5 458v1M307.5 458v1M308.5 457v1M309.5 457v1M310.5 457v1M311.5 457v1M312.5 457v1M313.5 457v1M314.5 458v1M315.5 458v1M316.5 459v1M317.5 459v1M318.5 460v1M319.5 461v1M320.5 461v1M321.5 462v1M322.5 463v1M323.5 463v1M324.5 464v1M325.5 464v1M326.5 465v1M327.5 466v1M328.5 467v1M329.5 468v1M330.5 469v1M331.5 470v1M332.5 470v1M333.5 471v1M334.5 471v1M335.5 472v1M336.5 472v1M337.5 472v1M338.5 472v1M339.5 473v1M340.5 473v1M341.5 473v1M342.5 474v1M343.5 474v1M344.5 475v1M345.5 475v1M346.5 476v1M347.5 476v1M348.5 477v1M349.5 477v1M350.5 478v1M351.5 478v1M352.5 479v1M353.5 479v1M354.5 479v1M355.5 478v1M356.5 478v1M357.5 478v1M358.5 477v1M359.5 476v1M360.5 476v1M361.5 475v1M362.5 474v1M363.5 473v1M364.5 472v1M365.5 471v1M366.5 469v2M367.5 467v2M368.5 465v2M369.5 462v3M370.5 459v3M371.5 455v4M372.5 452v3M373.5 450v2M374.5 448v2M375.5 446v2M376.5 444v2M377.5 442v2M378.5 440v2M379.5 439v1M380.5 437v2M381.5 436v1M382.5 435v1M383.5 435v1M384.5 434v1M385.5 434v1M386.5 433v1M387.5 432v1M388.5 432v1M389.5 431v1M390.5 432v1M391.5 432v1M392.5 433v1M393.5 433v1M394.5 432v1M395.5 432v1M396.5 431v1M397.5 431v1M398.5 431v1M399.5 430v1M400.5 430v1M401.5 429v2M402.5 426v3M403.5 423v3M404.5 420v3M405.5 416v4M406.5 410v6M407.5 404v6M408.5 398v6M409.5 393v5M410.5 388v5M411.5 383v5M412.5 378v5M413.5 372v6M414.5 366v6M415.5 359v7M416.5 353v6M417.5 345v8M418.5 336v9M419.5 328v8M420.5 319v9M421.5 312v7M422.5 306v6M423.5 300v6M424.5 294v6M425.5 290v4M426.5 287v3M427.5 284v3M428.5 281v3M429.5 276v5M430.5 270v6M431.5 263v7M432.5 257v6M433.5 249v8M434.5 239v10M435.5 229v10M436.5 219v10M437.5 211v8M438.5 204v7M439.5 197v7M440.5 190v7M441.5 183v7M442.5 176v7M443.5 170v6M444.5 163v7M445.5 156v7M446.5 149v7M447.5 143v6M448.5 136v7M449.5 130v6M450.5 125v5M451.5 119v6M452.5 114v5M453.5 111v3M454.5 112v1M455.5 113v1M456.5 114v1M457.5 115v1M458.5 116v2M459.5 118v2M460.5 120v2M461.5 122v3M462.5 125v5M463.5 130v5M464.5 135v5M465.5 140v5M466.5 145v5M467.5 150v6M468.5 156v5M469.5 161v7M470.5 168v9M471.5 177v8M472.5 185v9M473.5 194v7M474.5 201v5M475.5 206v4M476.5 210v5M477.5 215v4M478.5 219v3M479.5 222v3M480.5 225v3M481.5 228v2M482.5 225v3M483.5 223v2M484.5 220v3M485.5 218v2M486.5 217v1M487.5 216v1M488.5 216v1M489.5 214v2M490.5 211v3M491.5 209v2M492.5 206v3M493.5 204v2M494.5 204v1M495.5 205v1M496.5 205v1M497.5 205v1M498.5 205v1M499.5 204v1M500.5 204v1M501.5 204v2M502.5 206v4M503.5 210v4M504.5 214v4M505.5 218v2M506.5 220v2M507.5 222v2M508.5 224v2M509.5 226v2M510.5 228v2M511.5 230v2M512.5 232v2M513.5 234v3M514.5 237v3M515.5 240v3M516.5 243v3M517.5 246v3M518.5 249v2M519.5 251v3M520.5 254v2M521.5 256v2M522.5 257v1M523.5 258v1M524.5 258v1M525.5 258v1M526.5 259v2M527.5 261v2M528.5 263v2M529.5 265v1M530.5 263v2M531.5 261v2M532.5 259v2M533.5 256v3M534.5 253v3M535.5 251v2M536.5 248v3M537.5 246v2M538.5 245v1M539.5 244v1M540.5 243v1M541.5 242v1M542.5 241v1M543.5 240v1M544.5 239v1M545.5 237v2M546.5 235v2M547.5 232v3M548.5 230v2M549.5 228v2M550.5 227v1M551.5 225v2M552.5 224v1M553.5 223v1M554.5 223v1M555.5 223v1M556.5 223v1M557.5 223v1M558.5 223v1M559.5 223v1M560.5 223v1M561.5 223v1M562.5 222v1M563.5 220v2M564.5 219v1M565.5 218v1M566.5 217v1M567.5 217v1M568.5 216v1M569.5 216v2M570.5 218v2M571.5 220v2M572.5 222v2M573.5 224v2M574.5 226v2M575.5 228v2M576.5 230v2M577.5 232v2M578.5 234v2M579.5 236v1M580.5 237v2M581.5 239v2M582.5 241v3M583.5 244v3M584.5 247v3M585.5 250v2M586.5 251v1M587.5 251v1M588.5 251v1M589.5 251v1M590.5 251v1M591.5 250v1M592.5 250v1M593.5 250v1M594.5 248v2M595.5 247v1M596.5 245v2M597.5 244v1M598.5 243v1M599.5 241v2M600.5 240v1M601.5 238v2M602.5 234v4M603.5 230v4M604.5 226v4M605.5 224v2M606.5 225v2M607.5 227v2M608.5 229v2M609.5 231v3M610.5 234v2M611.5 236v3M612.5 239v2M613.5 241v3M614.5 244v2M615.5 246v2M616.5 248v2M617.5 250v2M618.5 251v1M619.5 251v1M620.5 251v1M621.5 251v1M622.5 252v2M623.5 254v2M624.5 256v2M625.5 258v2M626.5 257v2M627.5 255v2M628.5 253v2M629.5 251v2M630.5 249v2M631.5 246v3M632.5 244v2M633.5 241v3M634.5 239v2M635.5 236v3M636.5 234v2M637.5 232v2M638.5 231v1M639.5 229v2M640.5 228v1M641.5 227v1M642.5 228v1M643.5 229v1M644.5 229v1M645.5 230v2M646.5 232v3M647.5 235v3M648.5 238v3M649.5 241v3M650.5 244v3M651.5 247v2M652.5 249v3M653.5 252v2M654.5 254v2M655.5 256v2M656.5 258v2M657.5 260v2M658.5 262v1M659.5 263v2M660.5 265v1M661.5 266v1M662.5 265v1M663.5 265v1M664.5 264v1M665.5 264v1M666.5 263v1M667.5 261v2M668.5 260v1M669.5 259v1M670.5 260v1M671.5 261v2M672.5 263v1M673.5 264v2M674.5 266v2M675.5 268v3M676.5 271v2M677.5 273v3M678.5 276v4M679.5 280v4M680.5 284v4M681.5 288v4M682.5 292v3M683.5 295v2M684.5 297v3M685.5 300v3M686.5 303v3M687.5 306v2M688.5 308v3M689.5 311v3M690.5 314v3M691.5 317v4M692.5 321v3M693.5 324v3M694.5 327v4M695.5 331v4M696.5 335v4M697.5 339v4M698.5 343v4M699.5 347v4M700.5 351v4M701.5 355v5M702.5 360v4M703.5 364v5M704.5 369v4M705.5 373v5M706.5 378v5M707.5 383v5M708.5 388v5M709.5 393v4M710.5 397v2M711.5 399v3M712.5 402v2M713.5 404v2M714.5 406v2M715.5 408v2M716.5 410v2M717.5 412v2M718.5 414v1M719.5 415v1M720.5 415v1M721.5 416v1M722.5 417v2M723.5 419v2M724.5 421v2M725.5 423v2M726.5 422v2M727.5 420v2M728.5 418v2M729.5 415v3M730.5 413v2M731.5 411v2M732.5 409v2M733.5 406v3M734.5 402v4M735.5 399v3M736.5 395v4M737.5 392v3M738.5 389v3M739.5 387v2M740.5 384v3M741.5 381v3M742.5 379v2M743.5 376v3M744.5 374v2M745.5 372v2M746.5 372v1M747.5 371v1M748.5 371v1M749.5 371v1M750.5 371v1M751.5 371v1M752.5 371v1M753.5 371v1M754.5 371v1M755.5 371v1M756.5 371v1M757.5 371v1M758.5 371v1M759.5 372v1M760.5 372v1M761.5 372v1M762.5 372v1M763.5 373v1M764.5 373v1M765.5 373v1M766.5 374v1M767.5 375v1M768.5 376v1M769.5 377v1M770.5 377v1M771.5 377v1M772.5 377v1M773.5 377v1M774.5 376v1M775.5 375v1M776.5 375v1M777.5 374v1M778.5 372v2M779.5 371v1M780.5 369v2M781.5 368v1M782.5 366v2M783.5 364v2M784.5 362v2M785.5 360v2M786.5 358v2M787.5 355v3M788.5 353v2M789.5 351v2M790.5 351v1M791.5 350v1M792.5 350v1M793.5 350v1M794.5 351v1M795.5 352v2M796.5 354v1M797.5 355v1M798.5 356v2M799.5 358v1M800.5 359v2M801.5 361v1M802.5 362v2M803.5 364v1M804.5 365v2M805.5 367v1M806.5 368v2M807.5 370v2M808.5 372v2M809.5 374v2M810.5 376v1M811.5 377v1M812.5 378v1M813.5 379v1M814.5 379v1M815.5 378v1M816.5 378v1M817.5 378v1M818.5 379v1M819.5 380v1M820.5 380v1M821.5 381v1M822.5 381v1M823.5 380v1M824.5 380v1M825.5 380v1M826.5 379v1M827.5 379v1M828.5 378v1M829.5 378v1M830.5 377v1M831.5 376v1M832.5 376v1M833.5 375v1M834.5 376v1M835.5 376v1M836.5 377v1M837.5 377v1M838.5 376v1M839.5 375v1M840.5 374v1M841.5 373v1M842.5 374v1M843.5 375v1M844.5 375v1M845.5 376v1M846.5 377v1M847.5 378v1M848.5 378v1M849.5 379v1M850.5 379v1M851.5 380v1M852.5 380v1M853.5 380v1M854.5 380v1M855.5 379v1M856.5 379v1M857.5 379v1M858.5 380v1M859.5 381v2M860.5 383v1M861.5 384v1M862.5 385v1M863.5 386v2M864.5 388v1M865.5 389v1M866.5 390v2M867.5 392v2M868.5 394v2M869.5 396v3M870.5 399v3M871.5 402v3M872.5 405v3M873.5 408v3M874.5 411v2M875.5 413v2M876.5 415v2M877.5 417v2M878.5 419v2M879.5 421v1M880.5 422v2M881.5 424v1M882.5 425v1M883.5 426v1M884.5 426v1M885.5 427v1M886.5 428v1M887.5 429v1M888.5 429v1M889.5 430v1M890.5 430v1M891.5 430v1M892.5 430v1M893.5 430v1M894.5 430v1M895.5 429v1M896.5 429v1M897.5 429v1M898.5 430v1M899.5 430v1M900.5 431v1M901.5 431v1M902.5 431v1M903.5 431v1M904.5 431v1M905.5 431v1M906.5 430v1M907.5 430v1M908.5 429v1M909.5 429v1M910.5 429v1M911.5 429v1M912.5 429v1M913.5 429v2M914.5 431v3M915.5 434v2M916.5 436v3M917.5 439v2M918.5 441v2M919.5 443v1M920.5 444v2M921.5 446v1M922.5 446v1M923.5 446v1M924.5 446v1M925.5 446v1M926.5 446v1M927.5 447v1M928.5 447v1M929.5 447v1M930.5 447v1M931.5 448v1M932.5 448v1M933.5 448v1M934.5 447v1M935.5 446v1M936.5 446v1M937.5 445v1M938.5 446v1M939.5 447v1M940.5 447v1M941.5 448v2M942.5 450v2M943.5 452v3M944.5 455v2M945.5 457v2M946.5 459v2M947.5 461v2M948.5 463v2M949.5 465v2M950.5 467v1M951.5 468v2M952.5 470v1M953.5 471v1M954.5 472v2M955.5 474v1M956.5 475v2M957.5 477v1M958.5 478v1M959.5 479v1M960.5 480v1M961.5 481v1M962.5 482v1M963.5 483v1M964.5 483v1M965.5 484v1M966.5 485v1M967.5 486v1M968.5 487v1M969.5 488v1M970.5 489v1M971.5 490v1M972.5 490v1M973.5 491v1M974.5 491v1M975.5 492v1M976.5 492v1M977.5 492v1M978.5 491v1M979.5 491v1M980.5 490v1M981.5 490v1M982.5 489v1M983.5 489v1M984.5 488v1M985.5 488v1M986.5 489v1M987.5 489v1M988.5 490v1M989.5 490v1M990.5 491v1M991.5 492v2M992.5 494v1M993.5 495v1M994.5 496v1M995.5 497v2M996.5 499v1M997.5 500v1M998.5 501v2M999.5 503v2M1000.5 505v2M1001.5 507v3M1002.5 510v2M1003.5 512v3M1004.5 515v2M1005.5 517v2M1006.5 519v2M1007.5 521v1M1008.5 522v2M1009.5 524v1M1010.5 525v1M1011.5 525v1M1012.5 526v1M1013.5 526v1M1014.5 525v1M1015.5 525v1M1016.5 524v1M1017.5 524v1M1018.5 524v1M1019.5 524v1M1020.5 524v1M1021.5 524v1M1022.5 524v1M1023.5 524v1M1024.5 524v1M1025.5 524v1M1026.5 523v1M1027.5 522v1M1028.5 522v1M1029.5 521v1M1030.5 519v2M1031.5 517v2M1032.5 515v2M1033.5 514v1M1034.5 513v1M1035.5 513v1M1036.5 512v1M1037.5 512v1M1038.5 511v1M1039.5 510v1M1040.5 510v1M1041.5 508v2M1042.5 506v2M1043.5 504v2M1044.5 502v2M1045.5 500v2M1046.5 498v2M1047.5 497v1M1048.5 495v2M1049.5 494v1M1050.5 494v1M1051.5 495v1M1052.5 495v1M1053.5 495v1M1054.5 494v1M1055.5 494v1M1056.5 493v1M1057.5 493v1M1058.5 493v1M1059.5 492v1M1060.5 492v1M1061.5 492v1M1062.5 492v1M1063.5 491v1M1064.5 491v1M1065.5 491v1M1066.5 491v1M1067.5 492v1M1068.5 492v1M1069.5 492v1M1070.5 491v1M1071.5 491v1M1072.5 490v1M1073.5 490v1M1074.5 489v1M1075.5 487v2M1076.5 486v1M1077.5 484v2M1078.5 482v2M1079.5 479v3M1080.5 477v2M1081.5 474v3M1082.5 472v2M1083.5 469v3M1084.5 467v2M1085.5 464v3M1086.5 461v3M1087.5 459v2M1088.5 456v3M1089.5 453v3M1090.5 450v3M1091.5 447v3M1092.5 444v3M1093.5 442v2M1094.5 440v2M1095.5 439v1M1096.5 437v2M1097.5 436v1M1098.5 435v1M1099.5 434v1M1100.5 433v1M1101.5 432v1M1102.5 431v1M1103.5 431v1M1104.5 430v1M1105.5 430v1M1106.5 431v1M1107.5 432v1M1108.5 432v1M1109.5 433v1M1110.5 434v2M1111.5 436v2M1112.5 438v2M1113.5 440v1M1114.5 441v1M1115.5 442v1M1116.5 443v1M1117.5 444v1M1118.5 445v1M1119.5 446v1M1120.5 447v1M1121.5 448v2M1122.5 450v2M1123.5 452v2M1124.5 454v2M1125.5 456v2M1126.5 458v1M1127.5 459v1M1128.5 459v1M1129.5 460v1M1130.5 460v1M1131.5 460v1M1132.5 460v1M1133.5 460v1M1134.5 461v2M1135.5 463v1M1136.5 464v2M1137.5 466v2M1138.5 468v3M1139.5 471v2M1140.5 473v3M1141.5 476v2M1142.5 478v2M1143.5 480v2M1144.5 482v2M1145.5 484v3M1146.5 487v2M1147.5 489v3M1148.5 492v2M1149.5 494v2M1150.5 496v2M1151.5 498v2M1152.5 500v2M1153.5 502v2M1154.5 504v1M1155.5 505v2M1156.5 507v1M1157.5 508v1M1158.5 506v2M1159.5 504v2M1160.5 502v2M1161.5 501v1M1162.5 500v1M1163.5 499v1M1164.5 498v1M1165.5 497v1M1166.5 496v1M1167.5 495v1M1168.5 494v1M1169.5 493v1M1170.5 493v1M1171.5 492v1M1172.5 492v1M1173.5 492v1M1174.5 493v1M1175.5 493v1M1176.5 494v1M1177.5 494v1M1178.5 495v2M1179.5 497v1M1180.5 498v2M1181.5 500v1M1182.5 501v1M1183.5 502v1M1184.5 502v1M1185.5 503v1M1186.5 504v1M1187.5 504v1M1188.5 505v1M1189.5 505v1M1190.5 505v1M1191.5 506v1M1192.5 506v1M1193.5 506v1M1194.5 504v2M1195.5 503v1M1196.5 501v2M1197.5 500v1M1198.5 500v1M1199.5 499v1M1200.5 499v1M1201.5 498v2M1202.5 496v2M1203.5 493v3M1204.5 491v2M1205.5 488v3M1206.5 484v4M1207.5 481v3M1208.5 477v4M1209.5 474v3M1210.5 471v3M1211.5 468v3M1212.5 465v3M1213.5 463v2M1214.5 462v1M1215.5 460v2M1216.5 459v1M1217.5 458v1M1218.5 456v2M1219.5 454v2M1220.5 452v2M1221.5 451v2M1222.5 453v3M1223.5 456v3M1224.5 459v3M1225.5 462v3M1226.5 465v4M1227.5 469v3M1228.5 472v4M1229.5 476v4M1230.5 480v5M1231.5 485v4M1232.5 489v5M1233.5 494v4M1234.5 498v4M1235.5 502v4M1236.5 506v4M1237.5 510v4M1238.5 514v4M1239.5 518v4M1240.5 522v4M1241.5 526v3M1242.5 529v2M1243.5 531v2M1244.5 533v2M1245.5 535v2M1246.5 537v2M1247.5 539v1M1248.5 540v2M1249.5 542v1M1250.5 541v1M1251.5 541v1M1252.5 540v1M1253.5 540v1M1254.5 539v1M1255.5 537v2M1256.5 536v1M1257.5 535v1M1258.5 533v2M1259.5 531v2M1260.5 529v2M1261.5 526v3M1262.5 523v3M1263.5 521v2M1264.5 518v3M1265.5 516v2M1266.5 514v2M1267.5 513v1M1268.5 511v2M1269.5 510v1" fill="none" stroke="#ffa500" stroke-width="1" shape-rendering="crispEdges" clip-path="url(#cm)"/>
<rect x="5" y="379" width="1592" height="2" fill="#ff0000"/>
<rect x="5" y="420" width="1592" height="2" fill="#ff0000"/>
<rect x="5" y="456" width="1592" height="2" fill="#00ff00"/>
<rect x="5" y="503" width="1592" height="2" fill="#0000ff"/>
<rect x="5" y="540" width="1592" height="2" fill="#0000ff"/>
<rect x="5" y="510" width="1592" height="1" fill="#c0c0c0"/>
<path d="M1273 26 L1282 26 L1277.5 31 Z" fill="#c0c0c0"/>
<path d="M8 32 L15 32 L11.5 36 Z" fill="#000"/>
<text x="20.5" y="37" font-size="10" fill="#000" stroke="#000" stroke-width="0.15" textLength="65.5" lengthAdjust="spacingAndGlyphs">USDCAD,Daily</text>
<text x="92.3" y="37" font-size="10" fill="#000" stroke="#000" stroke-width="0.15" textLength="32.6" lengthAdjust="spacingAndGlyphs">1.31331</text>
<text x="128.4" y="37" font-size="10" fill="#000" stroke="#000" stroke-width="0.15" textLength="32.6" lengthAdjust="spacingAndGlyphs">1.31346</text>
<text x="164.5" y="37" font-size="10" fill="#000" stroke="#000" stroke-width="0.15" textLength="32.6" lengthAdjust="spacingAndGlyphs">1.31170</text>
<text x="200.60000000000002" y="37" font-size="10" fill="#000" stroke="#000" stroke-width="0.15" textLength="32.6" lengthAdjust="spacingAndGlyphs">1.31212</text>
<rect x="1598" y="50" width="3" height="1" fill="#000"/>
<text x="1603.3" y="54.0" font-size="10" fill="#000" stroke="#000" stroke-width="0.15" textLength="33" lengthAdjust="spacingAndGlyphs">1.46740</text>
<rect x="1598" y="83" width="3" height="1" fill="#000"/>
<text x="1603.3" y="87.0" font-size="10" fill="#000" stroke="#000" stroke-width="0.15" textLength="33" lengthAdjust="spacingAndGlyphs">1.45630</text>
<rect x="1598" y="116" width="3" height="1" fill="#000"/>
<text x="1603.3" y="120.0" font-size="10" fill="#000" stroke="#000" stroke-width="0.15" textLength="33" lengthAdjust="spacingAndGlyphs">1.44520</text>
<rect x="1598" y="149" width="3" height="1" fill="#000"/>
<text x="1603.3" y="153.0" font-size="10" fill="#000" stroke="#000" stroke-width="0.15" textLength="33" lengthAdjust="spacingAndGlyphs">1.43410</text>
<rect x="1598" y="182" width="3" height="1" fill="#000"/>
<text x="1603.3" y="186.0" font-size="10" fill="#000" stroke="#000" stroke-width="0.15" textLength="33" lengthAdjust="spacingAndGlyphs">1.42300</text>
<rect x="1598" y="215" width="3" height="1" fill="#000"/>
<text x="1603.3" y="219.0" font-size="10" fill="#000" stroke="#000" stroke-width="0.15" textLength="33" lengthAdjust="spacingAndGlyphs">1.41160</text>
<rect x="1598" y="248" width="3" height="1" fill="#000"/>
<text x="1603.3" y="252.0" font-size="10" fill="#000" stroke="#000" stroke-width="0.15" textLength="33" lengthAdjust="spacingAndGlyphs">1.40050</text>
<rect x="1598" y="281" width="3" height="1" fill="#000"/>
<text x="1603.3" y="285.0" font-size="10" fill="#000" stroke="#000" stroke-width="0.15" textLength="33" lengthAdjust="spacingAndGlyphs">1.38940</text>
<rect x="1598" y="314" width="3" height="1" fill="#000"/>
<text x="1603.3" y="318.0" font-size="10" fill="#000" stroke="#000" stroke-width="0.15" textLength="33" lengthAdjust="spacingAndGlyphs">1.37830</text>
<rect x="1598" y="347" width="3" height="1" fill="#000"/>
<text x="1603.3" y="351.0" font-size="10" fill="#000" stroke="#000" stroke-width="0.15" textLength="33" lengthAdjust="spacingAndGlyphs">1.36720</text>
<rect x="1598" y="380" width="3" height="1" fill="#000"/>
<text x="1603.3" y="384.0" font-size="10" fill="#000" stroke="#000" stroke-width="0.15" textLength="33" lengthAdjust="spacingAndGlyphs">1.35610</text>
<rect x="1598" y="413" width="3" height="1" fill="#000"/>
<text x="1603.3" y="417.0" font-size="10" fill="#000" stroke="#000" stroke-width="0.15" textLength="33" lengthAdjust="spacingAndGlyphs">1.34500</text>
<rect x="1598" y="446" width="3" height="1" fill="#000"/>
<text x="1603.3" y="450.0" font-size="10" fill="#000" stroke="#000" stroke-width="0.15" textLength="33" lengthAdjust="spacingAndGlyphs">1.33360</text>
<rect x="1598" y="479" width="3" height="1" fill="#000"/>
<text x="1603.3" y="483.0" font-size="10" fill="#000" stroke="#000" stroke-width="0.15" textLength="33" lengthAdjust="spacingAndGlyphs">1.32250</text>
<rect x="1598" y="512" width="3" height="1" fill="#000"/>
<text x="1603.3" y="516.0" font-size="10" fill="#000" stroke="#000" stroke-width="0.15" textLength="33" lengthAdjust="spacingAndGlyphs">1.31140</text>
<rect x="1598" y="545" width="3" height="1" fill="#000"/>
<text x="1603.3" y="549.0" font-size="10" fill="#000" stroke="#000" stroke-width="0.15" textLength="33" lengthAdjust="spacingAndGlyphs">1.30030</text>
<rect x="1598" y="578" width="3" height="1" fill="#000"/>
<text x="1603.3" y="582.0" font-size="10" fill="#000" stroke="#000" stroke-width="0.15" textLength="33" lengthAdjust="spacingAndGlyphs">1.28920</text>
<rect x="1599" y="374" width="39" height="11" fill="#ff0000"/>
<text x="1603.3" y="382.5" font-size="10" fill="#fff" stroke="#fff" stroke-width="0.1" textLength="33" lengthAdjust="spacingAndGlyphs">1.35606</text>
<rect x="1599" y="416" width="39" height="11" fill="#ff0000"/>
<text x="1603.3" y="424.5" font-size="10" fill="#fff" stroke="#fff" stroke-width="0.1" textLength="33" lengthAdjust="spacingAndGlyphs">1.34206</text>
<rect x="1599" y="451" width="39" height="11" fill="#00ff00"/>
<text x="1603.3" y="459.5" font-size="10" fill="#fff" stroke="#fff" stroke-width="0.1" textLength="33" lengthAdjust="spacingAndGlyphs">1.33011</text>
<rect x="1599" y="505" width="39" height="11" fill="#000000"/>
<text x="1603.3" y="513.5" font-size="10" fill="#fff" stroke="#fff" stroke-width="0.1" textLength="33" lengthAdjust="spacingAndGlyphs">1.31212</text>
<rect x="1599" y="498" width="39" height="11" fill="#0000ff"/>
<text x="1603.3" y="506.5" font-size="10" fill="#fff" stroke="#fff" stroke-width="0.1" textLength="33" lengthAdjust="spacingAndGlyphs">1.31405</text>
<rect x="1599" y="535" width="39" height="11" fill="#0000ff"/>
<text x="1603.3" y="543.5" font-size="10" fill="#fff" stroke="#fff" stroke-width="0.1" textLength="33" lengthAdjust="spacingAndGlyphs">1.30152</text>
<text x="9" y="596" font-size="10" fill="#000" stroke="#000" stroke-width="0.15" textLength="68" lengthAdjust="spacingAndGlyphs">RSI(14) 48.0489</text>
<g shape-rendering="crispEdges">
<line x1="6" y1="614.5" x2="1597" y2="614.5" stroke="#c0c0c0" stroke-dasharray="3,3"/>
<line x1="6" y1="654.5" x2="1597" y2="654.5" stroke="#c0c0c0" stroke-dasharray="3,3"/>
</g>
<path d="M5.5 622v1M6.5 621v1M7.5 621v1M8.5 620v1M9.5 620v1M10.5 621v2M11.5 623v2M12.5 625v2M13.5 627v2M14.5 627v1M15.5 627v1M16.5 626v1M17.5 626v1M18.5 627v1M19.5 628v1M20.5 629v1M21.5 630v1M22.5 629v1M23.5 629v1M24.5 628v1M25.5 627v2M26.5 625v2M27.5 623v2M28.5 621v2M29.5 619v2M30.5 620v1M31.5 621v1M32.5 621v1M33.5 622v1M34.5 622v1M35.5 621v1M36.5 621v1M37.5 621v1M38.5 621v1M39.5 620v1M40.5 620v1M41.5 620v1M42.5 620v1M43.5 619v1M44.5 619v1M45.5 619v1M46.5 620v1M47.5 621v2M48.5 623v1M49.5 624v1M50.5 624v1M51.5 624v1M52.5 624v1M53.5 624v1M54.5 624v1M55.5 624v1M56.5 624v1M57.5 624v1M58.5 625v1M59.5 625v1M60.5 626v1M61.5 626v1M62.5 626v1M63.5 625v1M64.5 625v1M65.5 625v1M66.5 624v1M67.5 622v2M68.5 621v1M69.5 620v1M70.5 621v1M71.5 622v1M72.5 623v1M73.5 624v2M74.5 626v3M75.5 629v4M76.5 633v3M77.5 636v2M78.5 638v2M79.5 640v2M80.5 642v2M81.5 644v2M82.5 640v4M83.5 637v3M84.5 633v4M85.5 631v2M86.5 632v1M87.5 632v1M88.5 633v1M89.5 633v1M90.5 634v1M91.5 635v1M92.5 636v1M93.5 637v1M94.5 636v1M95.5 635v1M96.5 635v1M97.5 634v1M98.5 635v1M99.5 636v1M100.5 637v1M101.5 638v1M102.5 639v1M103.5 640v1M104.5 640v1M105.5 641v1M106.5 641v1M107.5 640v1M108.5 640v1M109.5 640v1M110.5 641v1M111.5 641v1M112.5 642v1M113.5 642v1M114.5 643v1M115.5 644v1M116.5 645v1M117.5 646v1M118.5 646v1M119.5 645v1M120.5 645v1M121.5 645v1M122.5 646v1M123.5 647v2M124.5 649v1M125.5 650v1M126.5 649v1M127.5 648v1M128.5 647v1M129.5 646v1M130.5 644v2M131.5 643v1M132.5 641v2M133.5 640v1M134.5 640v1M135.5 639v1M136.5 639v1M137.5 639v1M138.5 639v1M139.5 639v1M140.5 639v1M141.5 639v1M142.5 640v1M143.5 640v1M144.5 641v1M145.5 641v1M146.5 641v1M147.5 640v1M148.5 640v1M149.5 640v1M150.5 641v2M151.5 643v1M152.5 644v2M153.5 646v1M154.5 647v1M155.5 648v1M156.5 649v1M157.5 650v1M158.5 651v1M159.5 651v1M160.5 652v1M161.5 652v1M162.5 653v1M163.5 653v1M164.5 654v1M165.5 654v1M166.5 655v2M167.5 657v1M168.5 658v2M169.5 660v1M170.5 659v1M171.5 658v1M172.5 658v1M173.5 657v1M174.5 657v1M175.5 657v1M176.5 657v1M177.5 657v1M178.5 657v1M179.5 656v1M180.5 656v1M181.5 656v1M182.5 655v1M183.5 655v1M184.5 654v1M185.5 654v1M186.5 655v1M187.5 655v1M188.5 656v1M189.5 655v2M190.5 653v2M191.5 651v2M192.5 649v2M193.5 647v2M194.5 646v1M195.5 644v2M196.5 643v1M197.5 641v2M198.5 639v2M199.5 637v2M200.5 635v2M201.5 633v2M202.5 634v2M203.5 636v2M204.5 638v2M205.5 640v1M206.5 639v1M207.5 639v1M208.5 638v1M209.5 638v1M210.5 638v1M211.5 639v1M212.5 639v1M213.5 639v1M214.5 638v1M215.5 637v1M216.5 637v1M217.5 636v1M218.5 637v1M219.5 638v1M220.5 638v1M221.5 639v1M222.5 639v1M223.5 640v1M224.5 640v1M225.5 640v1M226.5 639v1M227.5 638v1M228.5 638v1M229.5 637v1M230.5 636v1M231.5 636v1M232.5 635v1M233.5 635v1M234.5 636v1M235.5 636v1M236.5 637v1M237.5 637v1M238.5 636v1M239.5 636v1M240.5 635v1M241.5 635v1M242.5 633v2M243.5 631v2M244.5 629v2M245.5 627v2M246.5 626v1M247.5 625v1M248.5 624v1M249.5 623v1M250.5 624v1M251.5 624v1M252.5 625v1M253.5 625v1M254.5 625v1M255.5 624v1M256.5 624v1M257.5 624v1M258.5 623v1M259.5 622v1M260.5 621v1M261.5 620v1M262.5 620v1M263.5 619v1M264.5 619v1M265.5 619v1M266.5 618v1M267.5 617v1M268.5 617v1M269.5 616v1M270.5 615v1M271.5 615v1M272.5 614v1M273.5 614v1M274.5 614v1M275.5 614v1M276.5 614v1M277.5 614v1M278.5 614v1M279.5 613v1M280.5 613v1M281.5 613v1M282.5 612v1M283.5 611v1M284.5 611v1M285.5 610v1M286.5 609v1M287.5 609v1M288.5 608v1M289.5 608v1M290.5 608v1M291.5 607v1M292.5 607v1M293.5 607v1M294.5 607v1M295.5 607v1M296.5 607v1M297.5 607v1M298.5 607v1M299.5 607v1M300.5 607v1M301.5 607v1M302.5 607v1M303.5 608v1M304.5 608v1M305.5 608v1M306.5 607v1M307.5 607v1M308.5 606v1M309.5 606v2M310.5 608v2M311.5 610v2M312.5 612v2M313.5 614v2M314.5 616v2M315.5 618v2M316.5 620v2M317.5 622v1M318.5 623v1M319.5 624v1M320.5 624v1M321.5 625v1M322.5 625v1M323.5 624v1M324.5 624v1M325.5 624v1M326.5 625v1M327.5 625v1M328.5 626v1M329.5 626v1M330.5 627v1M331.5 628v1M332.5 629v1M333.5 630v1M334.5 629v1M335.5 628v1M336.5 628v1M337.5 627v1M338.5 628v1M339.5 629v1M340.5 630v1M341.5 631v1M342.5 631v1M343.5 632v1M344.5 632v1M345.5 632v1M346.5 633v1M347.5 634v1M348.5 634v1M349.5 635v1M350.5 636v1M351.5 637v1M352.5 637v1M353.5 637v2M354.5 634v3M355.5 630v4M356.5 627v3M357.5 625v2M358.5 624v1M359.5 623v1M360.5 623v1M361.5 622v1M362.5 621v1M363.5 621v1M364.5 620v1M365.5 620v1M366.5 618v2M367.5 616v2M368.5 614v2M369.5 612v2M370.5 611v1M371.5 609v2M372.5 608v1M373.5 607v1M374.5 608v1M375.5 609v2M376.5 611v1M377.5 612v1M378.5 613v1M379.5 613v1M380.5 614v1M381.5 614v2M382.5 616v3M383.5 619v2M384.5 621v3M385.5 624v2M386.5 623v2M387.5 622v1M388.5 620v2M389.5 619v1M390.5 619v1M391.5 618v1M392.5 618v1M393.5 618v1M394.5 617v1M395.5 617v1M396.5 616v1M397.5 616v1M398.5 617v1M399.5 618v1M400.5 618v1M401.5 618v2M402.5 616v2M403.5 614v2M404.5 612v2M405.5 609v3M406.5 607v2M407.5 604v3M408.5 602v2M409.5 600v2M410.5 601v1M411.5 602v1M412.5 603v1M413.5 604v1M414.5 603v1M415.5 602v1M416.5 602v1M417.5 601v1M418.5 600v1M419.5 599v1M420.5 599v1M421.5 598v1M422.5 599v2M423.5 601v2M424.5 603v2M425.5 605v1M426.5 605v1M427.5 604v1M428.5 604v1M429.5 604v1M430.5 603v1M431.5 601v2M432.5 600v1M433.5 599v1M434.5 598v1M435.5 597v1M436.5 596v1M437.5 595v1M438.5 596v1M439.5 597v2M440.5 599v1M441.5 600v1M442.5 601v2M443.5 603v2M444.5 605v2M445.5 607v1M446.5 607v1M447.5 606v1M448.5 606v1M449.5 606v1M450.5 605v1M451.5 605v1M452.5 604v1M453.5 604v1M454.5 605v1M455.5 606v1M456.5 607v1M457.5 608v2M458.5 610v2M459.5 612v2M460.5 614v2M461.5 616v3M462.5 619v3M463.5 622v4M464.5 626v3M465.5 629v2M466.5 630v1M467.5 629v1M468.5 629v1M469.5 629v1M470.5 630v1M471.5 631v2M472.5 633v1M473.5 634v1M474.5 632v2M475.5 630v2M476.5 628v2M477.5 627v1M478.5 628v1M479.5 628v1M480.5 629v1M481.5 629v1M482.5 628v1M483.5 627v1M484.5 627v1M485.5 626v1M486.5 627v1M487.5 628v1M488.5 628v1M489.5 629v1M490.5 629v1M491.5 629v1M492.5 629v1M493.5 629v1M494.5 629v1M495.5 628v1M496.5 628v1M497.5 628v1M498.5 629v1M499.5 629v1M500.5 630v1M501.5 630v1M502.5 631v2M503.5 633v1M504.5 634v2M505.5 636v1M506.5 635v1M507.5 635v1M508.5 634v1M509.5 634v1M510.5 635v1M511.5 635v1M512.5 636v1M513.5 636v1M514.5 636v1M515.5 637v1M516.5 637v1M517.5 637v1M518.5 637v1M519.5 637v1M520.5 637v1M521.5 637v1M522.5 637v1M523.5 637v1M524.5 637v1M525.5 637v1M526.5 638v1M527.5 638v1M528.5 639v1M529.5 638v2M530.5 636v2M531.5 633v3M532.5 631v2M533.5 629v2M534.5 629v1M535.5 628v1M536.5 628v1M537.5 628v1M538.5 629v2M539.5 631v1M540.5 632v2M541.5 634v1M542.5 634v1M543.5 634v1M544.5 634v1M545.5 634v1M546.5 633v1M547.5 633v1M548.5 632v1M549.5 632v1M550.5 630v2M551.5 629v1M552.5 627v2M553.5 626v1M554.5 627v1M555.5 628v1M556.5 628v1M557.5 629v1M558.5 630v2M559.5 632v1M560.5 633v2M561.5 635v1M562.5 634v1M563.5 633v1M564.5 632v1M565.5 631v1M566.5 631v1M567.5 631v1M568.5 631v1M569.5 631v1M570.5 632v1M571.5 633v1M572.5 633v1M573.5 634v1M574.5 635v1M575.5 636v1M576.5 636v1M577.5 637v1M578.5 638v1M579.5 639v1M580.5 639v1M581.5 640v1M582.5 640v1M583.5 641v1M584.5 641v1M585.5 640v2M586.5 638v2M587.5 635v3M588.5 633v2M589.5 631v2M590.5 631v1M591.5 632v1M592.5 632v1M593.5 632v1M594.5 632v1M595.5 631v1M596.5 631v1M597.5 631v1M598.5 632v1M599.5 633v1M600.5 634v1M601.5 635v1M602.5 633v2M603.5 632v1M604.5 630v2M605.5 629v2M606.5 631v2M607.5 633v2M608.5 635v2M609.5 637v2M610.5 639v1M611.5 639v1M612.5 640v1M613.5 640v1M614.5 640v1M615.5 639v1M616.5 639v1M617.5 639v1M618.5 638v1M619.5 636v2M620.5 635v1M621.5 634v1M622.5 634v1M623.5 635v1M624.5 635v1M625.5 635v1M626.5 634v1M627.5 633v1M628.5 632v1M629.5 631v1M630.5 631v1M631.5 631v1M632.5 631v1M633.5 631v1M634.5 631v1M635.5 631v1M636.5 631v1M637.5 631v1M638.5 631v1M639.5 630v1M640.5 630v1M641.5 630v1M642.5 631v2M643.5 633v2M644.5 635v2M645.5 637v2M646.5 639v1M647.5 640v1M648.5 641v1M649.5 642v1M650.5 641v1M651.5 641v1M652.5 640v1M653.5 640v1M654.5 639v1M655.5 639v1M656.5 638v1M657.5 638v1M658.5 637v1M659.5 636v1M660.5 635v1M661.5 634v1M662.5 634v1M663.5 635v1M664.5 635v1M665.5 635v1M666.5 636v1M667.5 636v1M668.5 637v1M669.5 637v1M670.5 638v2M671.5 640v2M672.5 642v2M673.5 644v2M674.5 645v1M675.5 646v1M676.5 646v1M677.5 646v1M678.5 646v1M679.5 647v1M680.5 647v1M681.5 647v1M682.5 646v1M683.5 645v1M684.5 644v1M685.5 643v1M686.5 644v1M687.5 644v1M688.5 645v1M689.5 645v1M690.5 646v2M691.5 648v2M692.5 650v2M693.5 652v1M694.5 653v1M695.5 654v1M696.5 654v1M697.5 655v1M698.5 655v1M699.5 656v1M700.5 656v1M701.5 656v1M702.5 655v1M703.5 655v1M704.5 654v1M705.5 654v1M706.5 655v1M707.5 656v1M708.5 656v1M709.5 657v1M710.5 657v1M711.5 656v1M712.5 656v1M713.5 656v1M714.5 657v1M715.5 657v1M716.5 658v1M717.5 658v1M718.5 657v1M719.5 655v2M720.5 654v1M721.5 653v1M722.5 654v1M723.5 654v1M724.5 655v1M725.5 654v2M726.5 651v3M727.5 647v4M728.5 644v3M729.5 642v2M730.5 641v1M731.5 641v1M732.5 640v1M733.5 640v1M734.5 639v1M735.5 639v1M736.5 638v1M737.5 638v1M738.5 638v1M739.5 638v1M740.5 638v1M741.5 638v1M742.5 639v1M743.5 640v1M744.5 640v1M745.5 641v1M746.5 641v1M747.5 641v1M748.5 641v1M749.5 641v1M750.5 640v1M751.5 640v1M752.5 639v1M753.5 639v1M754.5 639v1M755.5 638v1M756.5 638v1M757.5 638v1M758.5 638v1M759.5 638v1M760.5 638v1M761.5 638v1M762.5 639v1M763.5 640v1M764.5 641v1M765.5 642v1M766.5 643v1M767.5 644v1M768.5 644v1M769.5 644v2M770.5 642v2M771.5 640v2M772.5 638v2M773.5 636v2M774.5 635v1M775.5 634v1M776.5 633v1M777.5 632v1M778.5 631v1M779.5 630v1M780.5 630v1M781.5 629v1M782.5 630v1M783.5 631v1M784.5 632v1M785.5 633v1M786.5 632v1M787.5 631v1M788.5 631v1M789.5 630v1M790.5 631v2M791.5 633v1M792.5 634v2M793.5 636v1M794.5 637v1M795.5 638v1M796.5 638v1M797.5 639v1M798.5 638v1M799.5 638v1M800.5 637v1M801.5 637v1M802.5 638v1M803.5 638v1M804.5 639v1M805.5 639v1M806.5 639v1M807.5 640v1M808.5 640v1M809.5 640v1M810.5 640v1M811.5 641v1M812.5 641v1M813.5 641v1M814.5 640v1M815.5 638v2M816.5 637v1M817.5 636v1M818.5 637v1M819.5 638v2M820.5 640v1M821.5 641v1M822.5 640v1M823.5 639v1M824.5 638v1M825.5 637v1M826.5 636v1M827.5 636v1M828.5 635v1M829.5 635v1M830.5 635v1M831.5 636v1M832.5 636v1M833.5 636v1M834.5 637v1M835.5 637v1M836.5 638v1M837.5 638v1M838.5 637v1M839.5 636v1M840.5 635v1M841.5 634v1M842.5 635v2M843.5 637v2M844.5 639v2M845.5 641v1M846.5 640v1M847.5 640v1M848.5 639v1M849.5 639v1M850.5 638v1M851.5 637v1M852.5 637v1M853.5 636v1M854.5 636v1M855.5 635v1M856.5 635v1M857.5 635v1M858.5 636v1M859.5 637v2M860.5 639v1M861.5 640v1M862.5 641v2M863.5 643v2M864.5 645v2M865.5 647v1M866.5 648v1M867.5 648v1M868.5 649v1M869.5 649v1M870.5 650v1M871.5 651v1M872.5 651v1M873.5 652v1M874.5 650v2M875.5 648v2M876.5 646v2M877.5 645v1M878.5 645v1M879.5 645v1M880.5 645v1M881.5 645v1M882.5 646v1M883.5 647v1M884.5 647v1M885.5 648v1M886.5 648v1M887.5 649v1M888.5 649v1M889.5 649v1M890.5 649v1M891.5 648v1M892.5 648v1M893.5 648v1M894.5 646v2M895.5 644v2M896.5 642v2M897.5 640v2M898.5 641v1M899.5 642v1M900.5 643v1M901.5 644v1M902.5 644v1M903.5 644v1M904.5 644v1M905.5 644v1M906.5 643v1M907.5 643v1M908.5 642v1M909.5 642v1M910.5 643v1M911.5 644v1M912.5 644v1M913.5 645v1M914.5 646v2M915.5 648v2M916.5 650v2M917.5 652v2M918.5 652v1M919.5 650v2M920.5 649v1M921.5 647v2M922.5 645v2M923.5 642v3M924.5 640v2M925.5 638v2M926.5 638v1M927.5 639v1M928.5 639v1M929.5 639v1M930.5 640v1M931.5 640v1M932.5 641v1M933.5 641v1M934.5 642v1M935.5 643v1M936.5 644v1M937.5 645v1M938.5 646v1M939.5 647v1M940.5 647v1M941.5 648v1M942.5 649v1M943.5 649v1M944.5 650v1M945.5 650v1M946.5 649v1M947.5 648v1M948.5 647v1M949.5 646v1M950.5 646v1M951.5 645v1M952.5 645v1M953.5 645v1M954.5 646v1M955.5 647v1M956.5 648v1M957.5 649v1M958.5 649v1M959.5 650v1M960.5 650v1M961.5 650v1M962.5 650v1M963.5 651v1M964.5 651v1M965.5 651v1M966.5 651v1M967.5 650v1M968.5 650v1M969.5 650v1M970.5 649v1M971.5 648v1M972.5 648v1M973.5 647v1M974.5 647v1M975.5 648v1M976.5 648v1M977.5 648v1M978.5 647v1M979.5 645v2M980.5 644v1M981.5 643v1M982.5 644v1M983.5 644v1M984.5 645v1M985.5 645v1M986.5 646v1M987.5 647v2M988.5 649v1M989.5 650v1M990.5 651v1M991.5 651v1M992.5 652v1M993.5 652v1M994.5 652v1M995.5 652v1M996.5 652v1M997.5 652v1M998.5 653v1M999.5 653v1M1000.5 654v1M1001.5 654v1M1002.5 655v1M1003.5 656v1M1004.5 656v1M1005.5 657v1M1006.5 657v1M1007.5 656v1M1008.5 656v1M1009.5 656v1M1010.5 655v1M1011.5 654v1M1012.5 654v1M1013.5 652v2M1014.5 649v3M1015.5 646v3M1016.5 643v3M1017.5 641v2M1018.5 642v1M1019.5 643v1M1020.5 644v1M1021.5 645v1M1022.5 646v1M1023.5 647v1M1024.5 648v1M1025.5 649v1M1026.5 648v1M1027.5 646v2M1028.5 645v1M1029.5 643v2M1030.5 640v3M1031.5 637v3M1032.5 634v3M1033.5 632v2M1034.5 633v1M1035.5 634v1M1036.5 634v1M1037.5 635v1M1038.5 635v1M1039.5 636v1M1040.5 636v1M1041.5 636v1M1042.5 635v1M1043.5 634v1M1044.5 634v1M1045.5 633v1M1046.5 633v1M1047.5 632v1M1048.5 632v1M1049.5 632v1M1050.5 633v1M1051.5 633v1M1052.5 634v1M1053.5 634v1M1054.5 633v1M1055.5 632v1M1056.5 632v1M1057.5 631v1M1058.5 632v1M1059.5 633v2M1060.5 635v1M1061.5 636v1M1062.5 635v1M1063.5 633v2M1064.5 632v1M1065.5 631v1M1066.5 632v1M1067.5 633v1M1068.5 633v1M1069.5 634v1M1070.5 633v1M1071.5 633v1M1072.5 632v1M1073.5 631v2M1074.5 629v2M1075.5 627v2M1076.5 625v2M1077.5 623v2M1078.5 623v1M1079.5 622v1M1080.5 622v1M1081.5 622v1M1082.5 621v1M1083.5 620v1M1084.5 619v1M1085.5 618v1M1086.5 618v1M1087.5 618v1M1088.5 618v1M1089.5 618v1M1090.5 617v1M1091.5 616v1M1092.5 616v1M1093.5 615v1M1094.5 616v1M1095.5 617v1M1096.5 617v1M1097.5 618v1M1098.5 619v1M1099.5 619v1M1100.5 620v1M1101.5 620v1M1102.5 619v1M1103.5 618v1M1104.5 618v1M1105.5 617v2M1106.5 619v3M1107.5 622v2M1108.5 624v3M1109.5 627v2M1110.5 629v1M1111.5 630v1M1112.5 631v1M1113.5 632v1M1114.5 631v1M1115.5 630v1M1116.5 630v1M1117.5 629v1M1118.5 630v1M1119.5 630v1M1120.5 631v1M1121.5 631v1M1122.5 632v1M1123.5 633v1M1124.5 634v1M1125.5 635v1M1126.5 635v1M1127.5 634v1M1128.5 634v1M1129.5 634v1M1130.5 634v1M1131.5 633v1M1132.5 633v1M1133.5 633v1M1134.5 634v2M1135.5 636v2M1136.5 638v2M1137.5 640v2M1138.5 642v2M1139.5 644v2M1140.5 646v2M1141.5 648v2M1142.5 648v1M1143.5 648v1M1144.5 647v1M1145.5 647v1M1146.5 648v1M1147.5 648v1M1148.5 649v1M1149.5 649v1M1150.5 648v1M1151.5 647v1M1152.5 646v1M1153.5 645v1M1154.5 645v1M1155.5 644v1M1156.5 644v1M1157.5 643v2M1158.5 640v3M1159.5 638v2M1160.5 635v3M1161.5 633v2M1162.5 634v1M1163.5 635v2M1164.5 637v1M1165.5 638v1M1166.5 638v1M1167.5 639v1M1168.5 639v1M1169.5 639v1M1170.5 640v1M1171.5 640v1M1172.5 641v1M1173.5 641v1M1174.5 642v1M1175.5 643v1M1176.5 643v1M1177.5 644v1M1178.5 643v1M1179.5 643v1M1180.5 642v1M1181.5 642v1M1182.5 641v1M1183.5 641v1M1184.5 640v1M1185.5 640v1M1186.5 640v1M1187.5 641v1M1188.5 641v1M1189.5 641v1M1190.5 641v1M1191.5 642v1M1192.5 642v1M1193.5 641v2M1194.5 639v2M1195.5 636v3M1196.5 634v2M1197.5 632v2M1198.5 633v2M1199.5 635v1M1200.5 636v2M1201.5 637v2M1202.5 633v4M1203.5 629v4M1204.5 625v4M1205.5 623v2M1206.5 622v1M1207.5 621v1M1208.5 621v1M1209.5 620v1M1210.5 621v1M1211.5 622v1M1212.5 623v1M1213.5 624v1M1214.5 625v1M1215.5 625v1M1216.5 626v1M1217.5 626v1M1218.5 627v1M1219.5 628v1M1220.5 629v1M1221.5 630v2M1222.5 632v3M1223.5 635v4M1224.5 639v3M1225.5 642v2M1226.5 642v1M1227.5 642v1M1228.5 641v1M1229.5 641v1M1230.5 642v2M1231.5 644v1M1232.5 645v2M1233.5 647v1M1234.5 647v1M1235.5 646v1M1236.5 646v1M1237.5 646v1M1238.5 646v1M1239.5 647v1M1240.5 647v1M1241.5 647v1M1242.5 648v1M1243.5 649v1M1244.5 649v1M1245.5 650v1M1246.5 648v2M1247.5 647v1M1248.5 645v2M1249.5 644v1M1250.5 643v1M1251.5 642v1M1252.5 641v1M1253.5 640v1M1254.5 639v1M1255.5 638v1M1256.5 637v1M1257.5 636v1M1258.5 635v1M1259.5 634v1M1260.5 634v1M1261.5 633v1M1262.5 634v1M1263.5 634v1M1264.5 635v1M1265.5 635v1M1266.5 635v1M1267.5 636v1M1268.5 636v1M1269.5 636v1" fill="none" stroke="#1e90ff" stroke-width="1" shape-rendering="crispEdges" clip-path="url(#cr)"/>
<rect x="1598" y="584" width="3" height="1" fill="#000"/>
<rect x="1598" y="614" width="3" height="1" fill="#000"/>
<rect x="1598" y="654" width="3" height="1" fill="#000"/>
<rect x="1598" y="684" width="3" height="1" fill="#000"/>
<text x="1601.5" y="594.5" font-size="10" fill="#000" stroke="#000" stroke-width="0.15" textLength="14.5" lengthAdjust="spacingAndGlyphs">100</text>
<text x="1601.5" y="618.5" font-size="10" fill="#000" stroke="#000" stroke-width="0.15" textLength="10" lengthAdjust="spacingAndGlyphs">70</text>
<text x="1601.5" y="658.5" font-size="10" fill="#000" stroke="#000" stroke-width="0.15" textLength="10" lengthAdjust="spacingAndGlyphs">30</text>
<text x="1601.5" y="682" font-size="10" fill="#000" stroke="#000" stroke-width="0.15" textLength="5.5" lengthAdjust="spacingAndGlyphs">0</text>
<text x="9" y="700" font-size="10" fill="#000" stroke="#000" stroke-width="0.15" textLength="154" lengthAdjust="spacingAndGlyphs">MACD(12,26,9) -0.002849 -0.003946</text>
<g shape-rendering="crispEdges" clip-path="url(#cd)">
<rect x="5" y="751" width="1" height="2" fill="#c0c0c0"/>
<rect x="9" y="750" width="1" height="3" fill="#c0c0c0"/>
<rect x="13" y="750" width="1" height="3" fill="#c0c0c0"/>
<rect x="17" y="750" width="1" height="3" fill="#c0c0c0"/>
<rect x="21" y="750" width="1" height="3" fill="#c0c0c0"/>
<rect x="25" y="750" width="1" height="3" fill="#c0c0c0"/>
<rect x="29" y="749" width="1" height="4" fill="#c0c0c0"/>
<rect x="33" y="749" width="1" height="4" fill="#c0c0c0"/>
<rect x="37" y="748" width="1" height="5" fill="#c0c0c0"/>
<rect x="41" y="748" width="1" height="5" fill="#c0c0c0"/>
<rect x="45" y="747" width="1" height="6" fill="#c0c0c0"/>
<rect x="49" y="747" width="1" height="6" fill="#c0c0c0"/>
<rect x="53" y="747" width="1" height="6" fill="#c0c0c0"/>
<rect x="57" y="747" width="1" height="6" fill="#c0c0c0"/>
<rect x="61" y="748" width="1" height="5" fill="#c0c0c0"/>
<rect x="65" y="748" width="1" height="5" fill="#c0c0c0"/>
<rect x="69" y="748" width="1" height="5" fill="#c0c0c0"/>
<rect x="73" y="748" width="1" height="5" fill="#c0c0c0"/>
<rect x="77" y="749" width="1" height="4" fill="#c0c0c0"/>
<rect x="81" y="751" width="1" height="2" fill="#c0c0c0"/>
<rect x="85" y="751" width="1" height="2" fill="#c0c0c0"/>
<rect x="89" y="751" width="1" height="2" fill="#c0c0c0"/>
<rect x="93" y="752" width="1" height="1" fill="#c0c0c0"/>
<rect x="97" y="752" width="1" height="1" fill="#c0c0c0"/>
<rect x="101" y="752" width="1" height="1" fill="#c0c0c0"/>
<rect x="105" y="752" width="1" height="2" fill="#c0c0c0"/>
<rect x="109" y="752" width="1" height="3" fill="#c0c0c0"/>
<rect x="113" y="752" width="1" height="4" fill="#c0c0c0"/>
<rect x="117" y="752" width="1" height="5" fill="#c0c0c0"/>
<rect x="121" y="752" width="1" height="5" fill="#c0c0c0"/>
<rect x="125" y="752" width="1" height="6" fill="#c0c0c0"/>
<rect x="129" y="752" width="1" height="7" fill="#c0c0c0"/>
<rect x="133" y="752" width="1" height="7" fill="#c0c0c0"/>
<rect x="137" y="752" width="1" height="7" fill="#c0c0c0"/>
<rect x="141" y="752" width="1" height="6" fill="#c0c0c0"/>
<rect x="145" y="752" width="1" height="6" fill="#c0c0c0"/>
<rect x="149" y="752" width="1" height="6" fill="#c0c0c0"/>
<rect x="153" y="752" width="1" height="6" fill="#c0c0c0"/>
<rect x="157" y="752" width="1" height="7" fill="#c0c0c0"/>
<rect x="161" y="752" width="1" height="8" fill="#c0c0c0"/>
<rect x="165" y="752" width="1" height="9" fill="#c0c0c0"/>
<rect x="169" y="752" width="1" height="11" fill="#c0c0c0"/>
<rect x="173" y="752" width="1" height="12" fill="#c0c0c0"/>
<rect x="177" y="752" width="1" height="13" fill="#c0c0c0"/>
<rect x="181" y="752" width="1" height="13" fill="#c0c0c0"/>
<rect x="185" y="752" width="1" height="13" fill="#c0c0c0"/>
<rect x="189" y="752" width="1" height="14" fill="#c0c0c0"/>
<rect x="193" y="752" width="1" height="13" fill="#c0c0c0"/>
<rect x="197" y="752" width="1" height="12" fill="#c0c0c0"/>
<rect x="201" y="752" width="1" height="10" fill="#c0c0c0"/>
<rect x="205" y="752" width="1" height="9" fill="#c0c0c0"/>
<rect x="209" y="752" width="1" height="9" fill="#c0c0c0"/>
<rect x="213" y="752" width="1" height="8" fill="#c0c0c0"/>
<rect x="217" y="752" width="1" height="7" fill="#c0c0c0"/>
<rect x="221" y="752" width="1" height="7" fill="#c0c0c0"/>
<rect x="225" y="752" width="1" height="6" fill="#c0c0c0"/>
<rect x="229" y="752" width="1" height="6" fill="#c0c0c0"/>
<rect x="233" y="752" width="1" height="5" fill="#c0c0c0"/>
<rect x="237" y="752" width="1" height="5" fill="#c0c0c0"/>
<rect x="241" y="752" width="1" height="4" fill="#c0c0c0"/>
<rect x="245" y="752" width="1" height="3" fill="#c0c0c0"/>
<rect x="249" y="752" width="1" height="2" fill="#c0c0c0"/>
<rect x="253" y="752" width="1" height="1" fill="#c0c0c0"/>
<rect x="257" y="751" width="1" height="2" fill="#c0c0c0"/>
<rect x="261" y="750" width="1" height="3" fill="#c0c0c0"/>
<rect x="265" y="749" width="1" height="4" fill="#c0c0c0"/>
<rect x="269" y="748" width="1" height="5" fill="#c0c0c0"/>
<rect x="273" y="747" width="1" height="6" fill="#c0c0c0"/>
<rect x="277" y="746" width="1" height="7" fill="#c0c0c0"/>
<rect x="281" y="745" width="1" height="8" fill="#c0c0c0"/>
<rect x="285" y="744" width="1" height="9" fill="#c0c0c0"/>
<rect x="289" y="743" width="1" height="10" fill="#c0c0c0"/>
<rect x="293" y="742" width="1" height="11" fill="#c0c0c0"/>
<rect x="297" y="742" width="1" height="11" fill="#c0c0c0"/>
<rect x="301" y="741" width="1" height="12" fill="#c0c0c0"/>
<rect x="305" y="741" width="1" height="12" fill="#c0c0c0"/>
<rect x="309" y="741" width="1" height="12" fill="#c0c0c0"/>
<rect x="313" y="741" width="1" height="12" fill="#c0c0c0"/>
<rect x="317" y="742" width="1" height="11" fill="#c0c0c0"/>
<rect x="321" y="743" width="1" height="10" fill="#c0c0c0"/>
<rect x="325" y="744" width="1" height="9" fill="#c0c0c0"/>
<rect x="329" y="745" width="1" height="8" fill="#c0c0c0"/>
<rect x="333" y="746" width="1" height="7" fill="#c0c0c0"/>
<rect x="337" y="746" width="1" height="7" fill="#c0c0c0"/>
<rect x="341" y="747" width="1" height="6" fill="#c0c0c0"/>
<rect x="345" y="748" width="1" height="5" fill="#c0c0c0"/>
<rect x="349" y="748" width="1" height="5" fill="#c0c0c0"/>
<rect x="353" y="749" width="1" height="4" fill="#c0c0c0"/>
<rect x="357" y="749" width="1" height="4" fill="#c0c0c0"/>
<rect x="361" y="749" width="1" height="4" fill="#c0c0c0"/>
<rect x="365" y="748" width="1" height="5" fill="#c0c0c0"/>
<rect x="369" y="747" width="1" height="6" fill="#c0c0c0"/>
<rect x="373" y="745" width="1" height="8" fill="#c0c0c0"/>
<rect x="377" y="744" width="1" height="9" fill="#c0c0c0"/>
<rect x="381" y="743" width="1" height="10" fill="#c0c0c0"/>
<rect x="385" y="744" width="1" height="9" fill="#c0c0c0"/>
<rect x="389" y="743" width="1" height="10" fill="#c0c0c0"/>
<rect x="393" y="743" width="1" height="10" fill="#c0c0c0"/>
<rect x="397" y="742" width="1" height="11" fill="#c0c0c0"/>
<rect x="401" y="742" width="1" height="11" fill="#c0c0c0"/>
<rect x="405" y="740" width="1" height="13" fill="#c0c0c0"/>
<rect x="409" y="735" width="1" height="18" fill="#c0c0c0"/>
<rect x="413" y="732" width="1" height="21" fill="#c0c0c0"/>
<rect x="417" y="728" width="1" height="25" fill="#c0c0c0"/>
<rect x="421" y="723" width="1" height="30" fill="#c0c0c0"/>
<rect x="425" y="720" width="1" height="33" fill="#c0c0c0"/>
<rect x="429" y="718" width="1" height="35" fill="#c0c0c0"/>
<rect x="433" y="713" width="1" height="40" fill="#c0c0c0"/>
<rect x="437" y="704" width="1" height="49" fill="#c0c0c0"/>
<rect x="441" y="699" width="1" height="54" fill="#c0c0c0"/>
<rect x="445" y="697" width="1" height="56" fill="#c0c0c0"/>
<rect x="449" y="695" width="1" height="58" fill="#c0c0c0"/>
<rect x="453" y="693" width="1" height="60" fill="#c0c0c0"/>
<rect x="457" y="692" width="1" height="61" fill="#c0c0c0"/>
<rect x="461" y="695" width="1" height="58" fill="#c0c0c0"/>
<rect x="465" y="702" width="1" height="51" fill="#c0c0c0"/>
<rect x="469" y="708" width="1" height="45" fill="#c0c0c0"/>
<rect x="473" y="715" width="1" height="38" fill="#c0c0c0"/>
<rect x="477" y="718" width="1" height="35" fill="#c0c0c0"/>
<rect x="481" y="721" width="1" height="32" fill="#c0c0c0"/>
<rect x="485" y="722" width="1" height="31" fill="#c0c0c0"/>
<rect x="489" y="725" width="1" height="28" fill="#c0c0c0"/>
<rect x="493" y="727" width="1" height="26" fill="#c0c0c0"/>
<rect x="497" y="729" width="1" height="24" fill="#c0c0c0"/>
<rect x="501" y="731" width="1" height="22" fill="#c0c0c0"/>
<rect x="505" y="735" width="1" height="18" fill="#c0c0c0"/>
<rect x="509" y="738" width="1" height="15" fill="#c0c0c0"/>
<rect x="513" y="741" width="1" height="12" fill="#c0c0c0"/>
<rect x="517" y="744" width="1" height="9" fill="#c0c0c0"/>
<rect x="521" y="746" width="1" height="7" fill="#c0c0c0"/>
<rect x="525" y="748" width="1" height="5" fill="#c0c0c0"/>
<rect x="529" y="750" width="1" height="3" fill="#c0c0c0"/>
<rect x="533" y="749" width="1" height="4" fill="#c0c0c0"/>
<rect x="537" y="747" width="1" height="6" fill="#c0c0c0"/>
<rect x="541" y="748" width="1" height="5" fill="#c0c0c0"/>
<rect x="545" y="749" width="1" height="4" fill="#c0c0c0"/>
<rect x="549" y="749" width="1" height="4" fill="#c0c0c0"/>
<rect x="553" y="746" width="1" height="7" fill="#c0c0c0"/>
<rect x="557" y="746" width="1" height="7" fill="#c0c0c0"/>
<rect x="561" y="747" width="1" height="6" fill="#c0c0c0"/>
<rect x="565" y="747" width="1" height="6" fill="#c0c0c0"/>
<rect x="569" y="747" width="1" height="6" fill="#c0c0c0"/>
<rect x="573" y="748" width="1" height="5" fill="#c0c0c0"/>
<rect x="577" y="749" width="1" height="4" fill="#c0c0c0"/>
<rect x="581" y="751" width="1" height="2" fill="#c0c0c0"/>
<rect x="585" y="752" width="1" height="3" fill="#c0c0c0"/>
<rect x="589" y="752" width="1" height="1" fill="#c0c0c0"/>
<rect x="593" y="752" width="1" height="1" fill="#c0c0c0"/>
<rect x="597" y="751" width="1" height="2" fill="#c0c0c0"/>
<rect x="601" y="751" width="1" height="2" fill="#c0c0c0"/>
<rect x="605" y="750" width="1" height="3" fill="#c0c0c0"/>
<rect x="609" y="751" width="1" height="2" fill="#c0c0c0"/>
<rect x="613" y="752" width="1" height="3" fill="#c0c0c0"/>
<rect x="617" y="752" width="1" height="4" fill="#c0c0c0"/>
<rect x="621" y="752" width="1" height="3" fill="#c0c0c0"/>
<rect x="625" y="752" width="1" height="3" fill="#c0c0c0"/>
<rect x="629" y="752" width="1" height="2" fill="#c0c0c0"/>
<rect x="633" y="752" width="1" height="1" fill="#c0c0c0"/>
<rect x="637" y="751" width="1" height="2" fill="#c0c0c0"/>
<rect x="641" y="750" width="1" height="3" fill="#c0c0c0"/>
<rect x="645" y="752" width="1" height="1" fill="#c0c0c0"/>
<rect x="649" y="752" width="1" height="3" fill="#c0c0c0"/>
<rect x="653" y="752" width="1" height="5" fill="#c0c0c0"/>
<rect x="657" y="752" width="1" height="5" fill="#c0c0c0"/>
<rect x="661" y="752" width="1" height="4" fill="#c0c0c0"/>
<rect x="665" y="752" width="1" height="4" fill="#c0c0c0"/>
<rect x="669" y="752" width="1" height="4" fill="#c0c0c0"/>
<rect x="673" y="752" width="1" height="7" fill="#c0c0c0"/>
<rect x="677" y="752" width="1" height="9" fill="#c0c0c0"/>
<rect x="681" y="752" width="1" height="11" fill="#c0c0c0"/>
<rect x="685" y="752" width="1" height="12" fill="#c0c0c0"/>
<rect x="689" y="752" width="1" height="13" fill="#c0c0c0"/>
<rect x="693" y="752" width="1" height="16" fill="#c0c0c0"/>
<rect x="697" y="752" width="1" height="20" fill="#c0c0c0"/>
<rect x="701" y="752" width="1" height="23" fill="#c0c0c0"/>
<rect x="705" y="752" width="1" height="25" fill="#c0c0c0"/>
<rect x="709" y="752" width="1" height="28" fill="#c0c0c0"/>
<rect x="713" y="752" width="1" height="29" fill="#c0c0c0"/>
<rect x="717" y="752" width="1" height="31" fill="#c0c0c0"/>
<rect x="721" y="752" width="1" height="31" fill="#c0c0c0"/>
<rect x="725" y="752" width="1" height="32" fill="#c0c0c0"/>
<rect x="729" y="752" width="1" height="29" fill="#c0c0c0"/>
<rect x="733" y="752" width="1" height="26" fill="#c0c0c0"/>
<rect x="737" y="752" width="1" height="23" fill="#c0c0c0"/>
<rect x="741" y="752" width="1" height="21" fill="#c0c0c0"/>
<rect x="745" y="752" width="1" height="19" fill="#c0c0c0"/>
<rect x="749" y="752" width="1" height="18" fill="#c0c0c0"/>
<rect x="753" y="752" width="1" height="16" fill="#c0c0c0"/>
<rect x="757" y="752" width="1" height="15" fill="#c0c0c0"/>
<rect x="761" y="752" width="1" height="13" fill="#c0c0c0"/>
<rect x="765" y="752" width="1" height="13" fill="#c0c0c0"/>
<rect x="769" y="752" width="1" height="13" fill="#c0c0c0"/>
<rect x="773" y="752" width="1" height="12" fill="#c0c0c0"/>
<rect x="777" y="752" width="1" height="9" fill="#c0c0c0"/>
<rect x="781" y="752" width="1" height="7" fill="#c0c0c0"/>
<rect x="785" y="752" width="1" height="6" fill="#c0c0c0"/>
<rect x="789" y="752" width="1" height="4" fill="#c0c0c0"/>
<rect x="793" y="752" width="1" height="4" fill="#c0c0c0"/>
<rect x="797" y="752" width="1" height="5" fill="#c0c0c0"/>
<rect x="801" y="752" width="1" height="5" fill="#c0c0c0"/>
<rect x="805" y="752" width="1" height="5" fill="#c0c0c0"/>
<rect x="809" y="752" width="1" height="6" fill="#c0c0c0"/>
<rect x="813" y="752" width="1" height="6" fill="#c0c0c0"/>
<rect x="817" y="752" width="1" height="6" fill="#c0c0c0"/>
<rect x="821" y="752" width="1" height="6" fill="#c0c0c0"/>
<rect x="825" y="752" width="1" height="6" fill="#c0c0c0"/>
<rect x="829" y="752" width="1" height="5" fill="#c0c0c0"/>
<rect x="833" y="752" width="1" height="5" fill="#c0c0c0"/>
<rect x="837" y="752" width="1" height="5" fill="#c0c0c0"/>
<rect x="841" y="752" width="1" height="4" fill="#c0c0c0"/>
<rect x="845" y="752" width="1" height="5" fill="#c0c0c0"/>
<rect x="849" y="752" width="1" height="5" fill="#c0c0c0"/>
<rect x="853" y="752" width="1" height="5" fill="#c0c0c0"/>
<rect x="857" y="752" width="1" height="4" fill="#c0c0c0"/>
<rect x="861" y="752" width="1" height="5" fill="#c0c0c0"/>
<rect x="865" y="752" width="1" height="6" fill="#c0c0c0"/>
<rect x="869" y="752" width="1" height="8" fill="#c0c0c0"/>
<rect x="873" y="752" width="1" height="10" fill="#c0c0c0"/>
<rect x="877" y="752" width="1" height="10" fill="#c0c0c0"/>
<rect x="881" y="752" width="1" height="11" fill="#c0c0c0"/>
<rect x="885" y="752" width="1" height="12" fill="#c0c0c0"/>
<rect x="889" y="752" width="1" height="12" fill="#c0c0c0"/>
<rect x="893" y="752" width="1" height="13" fill="#c0c0c0"/>
<rect x="897" y="752" width="1" height="12" fill="#c0c0c0"/>
<rect x="901" y="752" width="1" height="12" fill="#c0c0c0"/>
<rect x="905" y="752" width="1" height="12" fill="#c0c0c0"/>
<rect x="909" y="752" width="1" height="11" fill="#c0c0c0"/>
<rect x="913" y="752" width="1" height="11" fill="#c0c0c0"/>
<rect x="917" y="752" width="1" height="13" fill="#c0c0c0"/>
<rect x="921" y="752" width="1" height="14" fill="#c0c0c0"/>
<rect x="925" y="752" width="1" height="12" fill="#c0c0c0"/>
<rect x="929" y="752" width="1" height="11" fill="#c0c0c0"/>
<rect x="933" y="752" width="1" height="11" fill="#c0c0c0"/>
<rect x="937" y="752" width="1" height="11" fill="#c0c0c0"/>
<rect x="941" y="752" width="1" height="12" fill="#c0c0c0"/>
<rect x="945" y="752" width="1" height="14" fill="#c0c0c0"/>
<rect x="949" y="752" width="1" height="14" fill="#c0c0c0"/>
<rect x="953" y="752" width="1" height="14" fill="#c0c0c0"/>
<rect x="957" y="752" width="1" height="14" fill="#c0c0c0"/>
<rect x="961" y="752" width="1" height="15" fill="#c0c0c0"/>
<rect x="965" y="752" width="1" height="16" fill="#c0c0c0"/>
<rect x="969" y="752" width="1" height="16" fill="#c0c0c0"/>
<rect x="973" y="752" width="1" height="15" fill="#c0c0c0"/>
<rect x="977" y="752" width="1" height="15" fill="#c0c0c0"/>
<rect x="981" y="752" width="1" height="14" fill="#c0c0c0"/>
<rect x="985" y="752" width="1" height="14" fill="#c0c0c0"/>
<rect x="989" y="752" width="1" height="14" fill="#c0c0c0"/>
<rect x="993" y="752" width="1" height="14" fill="#c0c0c0"/>
<rect x="997" y="752" width="1" height="15" fill="#c0c0c0"/>
<rect x="1001" y="752" width="1" height="15" fill="#c0c0c0"/>
<rect x="1005" y="752" width="1" height="16" fill="#c0c0c0"/>
<rect x="1009" y="752" width="1" height="17" fill="#c0c0c0"/>
<rect x="1013" y="752" width="1" height="17" fill="#c0c0c0"/>
<rect x="1017" y="752" width="1" height="15" fill="#c0c0c0"/>
<rect x="1021" y="752" width="1" height="15" fill="#c0c0c0"/>
<rect x="1025" y="752" width="1" height="15" fill="#c0c0c0"/>
<rect x="1029" y="752" width="1" height="14" fill="#c0c0c0"/>
<rect x="1033" y="752" width="1" height="12" fill="#c0c0c0"/>
<rect x="1037" y="752" width="1" height="10" fill="#c0c0c0"/>
<rect x="1041" y="752" width="1" height="9" fill="#c0c0c0"/>
<rect x="1045" y="752" width="1" height="8" fill="#c0c0c0"/>
<rect x="1049" y="752" width="1" height="6" fill="#c0c0c0"/>
<rect x="1053" y="752" width="1" height="6" fill="#c0c0c0"/>
<rect x="1057" y="752" width="1" height="4" fill="#c0c0c0"/>
<rect x="1061" y="752" width="1" height="4" fill="#c0c0c0"/>
<rect x="1065" y="752" width="1" height="3" fill="#c0c0c0"/>
<rect x="1069" y="752" width="1" height="3" fill="#c0c0c0"/>
<rect x="1073" y="752" width="1" height="2" fill="#c0c0c0"/>
<rect x="1077" y="751" width="1" height="2" fill="#c0c0c0"/>
<rect x="1081" y="749" width="1" height="4" fill="#c0c0c0"/>
<rect x="1085" y="747" width="1" height="6" fill="#c0c0c0"/>
<rect x="1089" y="745" width="1" height="8" fill="#c0c0c0"/>
<rect x="1093" y="743" width="1" height="10" fill="#c0c0c0"/>
<rect x="1097" y="742" width="1" height="11" fill="#c0c0c0"/>
<rect x="1101" y="742" width="1" height="11" fill="#c0c0c0"/>
<rect x="1105" y="741" width="1" height="12" fill="#c0c0c0"/>
<rect x="1109" y="742" width="1" height="11" fill="#c0c0c0"/>
<rect x="1113" y="743" width="1" height="10" fill="#c0c0c0"/>
<rect x="1117" y="744" width="1" height="9" fill="#c0c0c0"/>
<rect x="1121" y="745" width="1" height="8" fill="#c0c0c0"/>
<rect x="1125" y="746" width="1" height="7" fill="#c0c0c0"/>
<rect x="1129" y="747" width="1" height="6" fill="#c0c0c0"/>
<rect x="1133" y="748" width="1" height="5" fill="#c0c0c0"/>
<rect x="1137" y="749" width="1" height="4" fill="#c0c0c0"/>
<rect x="1141" y="752" width="1" height="1" fill="#c0c0c0"/>
<rect x="1145" y="752" width="1" height="3" fill="#c0c0c0"/>
<rect x="1149" y="752" width="1" height="5" fill="#c0c0c0"/>
<rect x="1153" y="752" width="1" height="6" fill="#c0c0c0"/>
<rect x="1157" y="752" width="1" height="7" fill="#c0c0c0"/>
<rect x="1161" y="752" width="1" height="5" fill="#c0c0c0"/>
<rect x="1165" y="752" width="1" height="5" fill="#c0c0c0"/>
<rect x="1169" y="752" width="1" height="5" fill="#c0c0c0"/>
<rect x="1173" y="752" width="1" height="6" fill="#c0c0c0"/>
<rect x="1177" y="752" width="1" height="7" fill="#c0c0c0"/>
<rect x="1181" y="752" width="1" height="7" fill="#c0c0c0"/>
<rect x="1185" y="752" width="1" height="7" fill="#c0c0c0"/>
<rect x="1189" y="752" width="1" height="7" fill="#c0c0c0"/>
<rect x="1193" y="752" width="1" height="7" fill="#c0c0c0"/>
<rect x="1197" y="752" width="1" height="6" fill="#c0c0c0"/>
<rect x="1201" y="752" width="1" height="6" fill="#c0c0c0"/>
<rect x="1205" y="752" width="1" height="3" fill="#c0c0c0"/>
<rect x="1209" y="751" width="1" height="2" fill="#c0c0c0"/>
<rect x="1213" y="749" width="1" height="4" fill="#c0c0c0"/>
<rect x="1217" y="748" width="1" height="5" fill="#c0c0c0"/>
<rect x="1221" y="748" width="1" height="5" fill="#c0c0c0"/>
<rect x="1225" y="751" width="1" height="2" fill="#c0c0c0"/>
<rect x="1229" y="752" width="1" height="1" fill="#c0c0c0"/>
<rect x="1233" y="752" width="1" height="4" fill="#c0c0c0"/>
<rect x="1237" y="752" width="1" height="6" fill="#c0c0c0"/>
<rect x="1241" y="752" width="1" height="8" fill="#c0c0c0"/>
<rect x="1245" y="752" width="1" height="10" fill="#c0c0c0"/>
<rect x="1249" y="752" width="1" height="11" fill="#c0c0c0"/>
<rect x="1253" y="752" width="1" height="11" fill="#c0c0c0"/>
<rect x="1257" y="752" width="1" height="10" fill="#c0c0c0"/>
<rect x="1261" y="752" width="1" height="8" fill="#c0c0c0"/>
<rect x="1265" y="752" width="1" height="7" fill="#c0c0c0"/>
<rect x="1269" y="752" width="1" height="6" fill="#c0c0c0"/>
</g>
<path d="M5.5 755v1M6.5 755v1M7.5 754v1M11.5 753v1M12.5 753v1M13.5 753v1M17.5 752v1M18.5 752v1M19.5 751v1M23.5 751v1M24.5 751v1M25.5 751v1M29.5 750v1M30.5 750v1M31.5 750v1M35.5 750v1M36.5 750v1M37.5 750v1M41.5 749v1M42.5 749v1M43.5 749v1M47.5 749v1M48.5 749v1M49.5 749v1M53.5 748v1M54.5 748v1M55.5 748v1M59.5 748v1M60.5 748v1M61.5 748v1M65.5 748v1M66.5 748v1M67.5 747v1M71.5 747v1M72.5 747v1M73.5 747v1M77.5 748v1M78.5 748v1M79.5 748v1M83.5 748v1M84.5 748v1M85.5 748v1M89.5 749v1M90.5 749v1M91.5 749v1M95.5 750v1M96.5 750v1M97.5 750v1M101.5 750v1M102.5 750v1M103.5 751v1M107.5 752v1M108.5 752v1M109.5 752v1M113.5 752v1M114.5 752v1M115.5 753v1M119.5 753v1M120.5 753v1M121.5 753v1M125.5 754v1M126.5 754v1M127.5 755v1M131.5 755v1M132.5 755v1M133.5 755v1M137.5 756v1M138.5 756v1M139.5 756v1M143.5 757v1M144.5 757v1M145.5 757v1M149.5 757v1M150.5 757v1M151.5 757v1M155.5 758v1M156.5 758v1M157.5 758v1M161.5 758v1M162.5 758v1M163.5 758v1M167.5 758v1M168.5 758v1M169.5 758v1M173.5 759v1M174.5 759v1M175.5 760v1M179.5 761v1M180.5 761v1M181.5 761v1M185.5 761v1M186.5 761v1M187.5 762v1M191.5 763v1M192.5 763v1M193.5 763v1M197.5 763v1M198.5 763v1M199.5 763v1M203.5 763v1M204.5 763v1M205.5 763v1M209.5 763v1M210.5 763v1M211.5 762v1M215.5 762v1M216.5 762v1M217.5 762v1M221.5 761v1M222.5 761v1M223.5 760v1M227.5 759v1M228.5 759v1M229.5 759v1M233.5 759v1M234.5 759v1M235.5 758v1M239.5 757v1M240.5 757v1M241.5 757v1M245.5 757v1M246.5 757v1M247.5 756v1M251.5 755v1M252.5 755v1M253.5 755v1M257.5 755v1M258.5 755v1M259.5 754v1M263.5 753v1M264.5 753v1M265.5 753v1M269.5 752v1M270.5 752v1M271.5 751v1M275.5 750v1M276.5 750v1M277.5 750v1M281.5 749v1M282.5 749v1M283.5 748v1M287.5 747v1M288.5 747v1M289.5 747v1M293.5 746v1M294.5 746v1M295.5 745v1M299.5 744v1M300.5 744v1M301.5 744v1M305.5 744v1M306.5 744v1M307.5 743v1M311.5 742v1M312.5 742v1M313.5 742v1M317.5 742v1M318.5 742v1M319.5 742v1M323.5 742v1M324.5 742v1M325.5 742v1M329.5 742v1M330.5 742v1M331.5 743v1M335.5 743v1M336.5 743v1M337.5 743v1M341.5 744v1M342.5 744v1M343.5 745v1M347.5 745v1M348.5 745v1M349.5 745v1M353.5 746v1M354.5 746v1M355.5 747v1M359.5 747v1M360.5 747v1M361.5 747v1M365.5 748v1M366.5 748v1M367.5 748v1M371.5 748v1M372.5 748v1M373.5 748v1M377.5 747v1M378.5 747v1M379.5 747v1M383.5 746v1M384.5 746v1M385.5 746v1M389.5 746v1M390.5 746v1M391.5 745v1M395.5 744v1M396.5 744v1M397.5 744v1M401.5 744v1M402.5 744v1M403.5 743v1M407.5 742v1M408.5 742v1M409.5 742v1M413.5 741v1M414.5 740v1M415.5 740v1M419.5 738v1M420.5 737v1M421.5 737v1M425.5 734v1M426.5 733v1M427.5 732v1M431.5 729v1M432.5 729v1M433.5 728v1M437.5 724v1M438.5 723v1M439.5 722v1M442.5 718v1M443.5 717v1M444.5 716v1M448.5 712v1M449.5 711v1M450.5 710v1M454.5 706v1M455.5 705v1M456.5 705v1M460.5 702v1M461.5 701v1M462.5 700v1M466.5 699v1M467.5 699v1M468.5 699v1M472.5 700v1M473.5 700v1M474.5 701v1M478.5 703v1M479.5 703v1M480.5 704v1M484.5 706v1M485.5 707v1M486.5 708v1M490.5 712v1M491.5 713v1M492.5 714v1M496.5 717v1M497.5 718v1M498.5 719v1M502.5 723v1M503.5 724v1M504.5 724v1M508.5 727v1M509.5 727v1M510.5 728v1M514.5 731v1M515.5 731v1M516.5 732v1M520.5 734v1M521.5 735v1M522.5 736v1M526.5 739v1M527.5 739v1M528.5 740v1M532.5 742v1M533.5 742v1M534.5 743v1M538.5 745v1M539.5 745v1M540.5 746v1M544.5 747v1M545.5 747v1M546.5 747v1M550.5 748v1M551.5 748v1M552.5 748v1M556.5 748v1M557.5 748v1M558.5 748v1M562.5 748v1M563.5 748v1M564.5 748v1M568.5 747v1M569.5 747v1M570.5 747v1M574.5 747v1M575.5 747v1M576.5 747v1M580.5 748v1M581.5 748v1M582.5 748v1M586.5 748v1M587.5 749v1M588.5 749v1M592.5 750v1M593.5 750v1M594.5 750v1M598.5 750v1M599.5 751v1M600.5 751v1M604.5 751v1M605.5 751v1M606.5 751v1M610.5 751v1M611.5 752v1M612.5 752v1M616.5 752v1M617.5 752v1M618.5 752v1M622.5 752v1M623.5 752v1M624.5 752v1M628.5 753v1M629.5 753v1M630.5 753v1M634.5 753v1M635.5 753v1M636.5 753v1M640.5 753v1M641.5 753v1M642.5 753v1M646.5 753v1M647.5 753v1M648.5 753v1M652.5 753v1M653.5 753v1M654.5 753v1M658.5 753v1M659.5 753v1M660.5 753v1M664.5 753v1M665.5 753v1M666.5 753v1M670.5 754v1M671.5 754v1M672.5 754v1M676.5 756v1M677.5 756v1M678.5 756v1M682.5 757v1M683.5 758v1M684.5 758v1M688.5 759v1M689.5 759v1M690.5 759v1M694.5 761v1M695.5 761v1M696.5 762v1M700.5 764v1M701.5 764v1M702.5 765v1M706.5 767v1M707.5 767v1M708.5 768v1M712.5 770v1M713.5 771v1M714.5 772v1M718.5 774v1M719.5 774v1M720.5 775v1M724.5 777v1M725.5 777v1M726.5 778v1M730.5 779v1M731.5 779v1M732.5 779v1M736.5 779v1M737.5 779v1M738.5 779v1M742.5 779v1M743.5 778v1M744.5 778v1M748.5 777v1M749.5 777v1M750.5 776v1M754.5 774v1M755.5 774v1M756.5 773v1M760.5 771v1M761.5 771v1M762.5 770v1M766.5 769v1M767.5 768v1M768.5 768v1M772.5 767v1M773.5 767v1M774.5 766v1M778.5 765v1M779.5 764v1M780.5 764v1M784.5 763v1M785.5 763v1M786.5 762v1M790.5 761v1M791.5 760v1M792.5 760v1M796.5 759v1M797.5 759v1M798.5 759v1M802.5 758v1M803.5 757v1M804.5 757v1M808.5 757v1M809.5 757v1M810.5 757v1M814.5 756v1M815.5 756v1M816.5 756v1M820.5 756v1M821.5 756v1M822.5 756v1M826.5 756v1M827.5 756v1M828.5 756v1M832.5 756v1M833.5 756v1M834.5 756v1M838.5 756v1M839.5 756v1M840.5 756v1M844.5 756v1M845.5 756v1M846.5 756v1M850.5 756v1M851.5 756v1M852.5 756v1M856.5 756v1M857.5 756v1M858.5 756v1M862.5 756v1M863.5 756v1M864.5 756v1M868.5 756v1M869.5 756v1M870.5 756v1M874.5 757v1M875.5 758v1M876.5 758v1M880.5 758v1M881.5 758v1M882.5 758v1M886.5 759v1M887.5 760v1M888.5 760v1M892.5 761v1M893.5 761v1M894.5 761v1M898.5 761v1M899.5 762v1M900.5 762v1M904.5 762v1M905.5 762v1M906.5 762v1M910.5 763v1M911.5 763v1M912.5 763v1M916.5 763v1M917.5 763v1M918.5 763v1M922.5 763v1M923.5 763v1M924.5 763v1M928.5 763v1M929.5 763v1M930.5 763v1M934.5 763v1M935.5 763v1M936.5 763v1M940.5 763v1M941.5 763v1M942.5 763v1M946.5 763v1M947.5 764v1M948.5 764v1M952.5 764v1M953.5 764v1M954.5 764v1M958.5 764v1M959.5 764v1M960.5 764v1M964.5 764v1M965.5 764v1M966.5 764v1M970.5 765v1M971.5 765v1M972.5 765v1M976.5 766v1M977.5 766v1M978.5 766v1M982.5 766v1M983.5 766v1M984.5 766v1M988.5 766v1M989.5 766v1M990.5 766v1M994.5 766v1M995.5 766v1M996.5 766v1M1000.5 766v1M1001.5 766v1M1002.5 766v1M1006.5 766v1M1007.5 766v1M1008.5 766v1M1012.5 766v1M1013.5 766v1M1014.5 766v1M1018.5 766v1M1019.5 766v1M1020.5 766v1M1024.5 766v1M1025.5 766v1M1026.5 766v1M1030.5 766v1M1031.5 766v1M1032.5 766v1M1036.5 765v1M1037.5 765v1M1038.5 765v1M1042.5 765v1M1043.5 764v1M1044.5 764v1M1048.5 763v1M1049.5 763v1M1050.5 762v1M1054.5 761v1M1055.5 760v1M1056.5 760v1M1060.5 759v1M1061.5 759v1M1062.5 759v1M1066.5 758v1M1067.5 757v1M1068.5 757v1M1072.5 756v1M1073.5 756v1M1074.5 756v1M1078.5 755v1M1079.5 754v1M1080.5 754v1M1084.5 753v1M1085.5 753v1M1086.5 753v1M1090.5 751v1M1091.5 751v1M1092.5 750v1M1096.5 749v1M1097.5 749v1M1098.5 748v1M1102.5 747v1M1103.5 746v1M1104.5 746v1M1108.5 745v1M1109.5 745v1M1110.5 745v1M1114.5 744v1M1115.5 743v1M1116.5 743v1M1120.5 743v1M1121.5 743v1M1122.5 743v1M1126.5 743v1M1127.5 743v1M1128.5 743v1M1132.5 744v1M1133.5 744v1M1134.5 744v1M1138.5 745v1M1139.5 746v1M1140.5 746v1M1144.5 747v1M1145.5 747v1M1146.5 748v1M1150.5 749v1M1151.5 750v1M1152.5 750v1M1156.5 752v1M1157.5 752v1M1158.5 752v1M1162.5 753v1M1163.5 754v1M1164.5 754v1M1168.5 755v1M1169.5 755v1M1170.5 755v1M1174.5 756v1M1175.5 756v1M1176.5 756v1M1180.5 757v1M1181.5 757v1M1182.5 757v1M1186.5 757v1M1187.5 757v1M1188.5 757v1M1192.5 757v1M1193.5 757v1M1194.5 757v1M1198.5 757v1M1199.5 757v1M1200.5 757v1M1204.5 757v1M1205.5 757v1M1206.5 757v1M1210.5 756v1M1211.5 755v1M1212.5 755v1M1216.5 754v1M1217.5 754v1M1218.5 754v1M1222.5 753v1M1223.5 752v1M1224.5 752v1M1228.5 752v1M1229.5 752v1M1230.5 752v1M1234.5 752v1M1235.5 752v1M1236.5 752v1M1240.5 752v1M1241.5 752v1M1242.5 752v1M1246.5 754v1M1247.5 754v1M1248.5 755v1M1252.5 756v1M1253.5 756v1M1254.5 757v1M1258.5 758v1M1259.5 759v1M1260.5 759v1M1264.5 759v1M1265.5 759v1M1266.5 759v1" fill="none" stroke="#ff0000" stroke-width="1" shape-rendering="crispEdges" clip-path="url(#cd)"/>
<rect x="1598" y="689" width="3" height="1" fill="#000"/>
<rect x="1598" y="752" width="3" height="1" fill="#000"/>
<rect x="1598" y="786" width="3" height="1" fill="#000"/>
<text x="1601.5" y="698.5" font-size="10" fill="#000" stroke="#000" stroke-width="0.15" textLength="36" lengthAdjust="spacingAndGlyphs">0.032972</text>
<text x="1601.5" y="756.5" font-size="10" fill="#000" stroke="#000" stroke-width="0.15" textLength="18" lengthAdjust="spacingAndGlyphs">0.00</text>
<text x="1601.3" y="784.5" font-size="10" fill="#000" stroke="#000" stroke-width="0.15" textLength="41" lengthAdjust="spacingAndGlyphs">-0.018154</text>
<rect x="5" y="789" width="1" height="3" fill="#000"/>
<text x="4.2" y="801.5" font-size="10" fill="#000" stroke="#000" stroke-width="0.15" textLength="54.7" lengthAdjust="spacingAndGlyphs">13 Nov 2019</text>
<rect x="69" y="789" width="1" height="3" fill="#000"/>
<text x="68.2" y="801.5" font-size="10" fill="#000" stroke="#000" stroke-width="0.15" textLength="47.5" lengthAdjust="spacingAndGlyphs">2 Dec 2019</text>
<rect x="133" y="789" width="1" height="3" fill="#000"/>
<text x="132.2" y="801.5" font-size="10" fill="#000" stroke="#000" stroke-width="0.15" textLength="52.2" lengthAdjust="spacingAndGlyphs">20 Dec 2019</text>
<rect x="197" y="789" width="1" height="3" fill="#000"/>
<text x="196.2" y="801.5" font-size="10" fill="#000" stroke="#000" stroke-width="0.15" textLength="45.3" lengthAdjust="spacingAndGlyphs">8 Jan 2020</text>
<rect x="261" y="789" width="1" height="3" fill="#000"/>
<text x="260.2" y="801.5" font-size="10" fill="#000" stroke="#000" stroke-width="0.15" textLength="50.1" lengthAdjust="spacingAndGlyphs">27 Jan 2020</text>
<rect x="325" y="789" width="1" height="3" fill="#000"/>
<text x="324.2" y="801.5" font-size="10" fill="#000" stroke="#000" stroke-width="0.15" textLength="52.2" lengthAdjust="spacingAndGlyphs">14 Feb 2020</text>
<rect x="389" y="789" width="1" height="3" fill="#000"/>
<text x="388.2" y="801.5" font-size="10" fill="#000" stroke="#000" stroke-width="0.15" textLength="47.2" lengthAdjust="spacingAndGlyphs">4 Mar 2020</text>
<rect x="453" y="789" width="1" height="3" fill="#000"/>
<text x="452.2" y="801.5" font-size="10" fill="#000" stroke="#000" stroke-width="0.15" textLength="52.5" lengthAdjust="spacingAndGlyphs">23 Mar 2020</text>
<rect x="517" y="789" width="1" height="3" fill="#000"/>
<text x="516.2" y="801.5" font-size="10" fill="#000" stroke="#000" stroke-width="0.15" textLength="51.1" lengthAdjust="spacingAndGlyphs">10 Apr 2020</text>
<rect x="581" y="789" width="1" height="3" fill="#000"/>
<text x="580.2" y="801.5" font-size="10" fill="#000" stroke="#000" stroke-width="0.15" textLength="51.0" lengthAdjust="spacingAndGlyphs">29 Apr 2020</text>
<rect x="645" y="789" width="1" height="3" fill="#000"/>
<text x="644.2" y="801.5" font-size="10" fill="#000" stroke="#000" stroke-width="0.15" textLength="55.3" lengthAdjust="spacingAndGlyphs">18 May 2020</text>
<rect x="709" y="789" width="1" height="3" fill="#000"/>
<text x="708.2" y="801.5" font-size="10" fill="#000" stroke="#000" stroke-width="0.15" textLength="45.2" lengthAdjust="spacingAndGlyphs">5 Jun 2020</text>
<rect x="773" y="789" width="1" height="3" fill="#000"/>
<text x="772.2" y="801.5" font-size="10" fill="#000" stroke="#000" stroke-width="0.15" textLength="50.5" lengthAdjust="spacingAndGlyphs">24 Jun 2020</text>
<rect x="837" y="789" width="1" height="3" fill="#000"/>
<text x="836.2" y="801.5" font-size="10" fill="#000" stroke="#000" stroke-width="0.15" textLength="47.3" lengthAdjust="spacingAndGlyphs">13 Jul 2020</text>
<rect x="901" y="789" width="1" height="3" fill="#000"/>
<text x="900.2" y="801.5" font-size="10" fill="#000" stroke="#000" stroke-width="0.15" textLength="47.1" lengthAdjust="spacingAndGlyphs">31 Jul 2020</text>
<rect x="965" y="789" width="1" height="3" fill="#000"/>
<text x="964.2" y="801.5" font-size="10" fill="#000" stroke="#000" stroke-width="0.15" textLength="53.2" lengthAdjust="spacingAndGlyphs">19 Aug 2020</text>
<rect x="1029" y="789" width="1" height="3" fill="#000"/>
<text x="1028.2" y="801.5" font-size="10" fill="#000" stroke="#000" stroke-width="0.15" textLength="47.1" lengthAdjust="spacingAndGlyphs">7 Sep 2020</text>
<rect x="1093" y="789" width="1" height="3" fill="#000"/>
<text x="1092.2" y="801.5" font-size="10" fill="#000" stroke="#000" stroke-width="0.15" textLength="52.4" lengthAdjust="spacingAndGlyphs">25 Sep 2020</text>
<rect x="1157" y="789" width="1" height="3" fill="#000"/>
<text x="1156.2" y="801.5" font-size="10" fill="#000" stroke="#000" stroke-width="0.15" textLength="51.0" lengthAdjust="spacingAndGlyphs">14 Oct 2020</text>
<rect x="1221" y="789" width="1" height="3" fill="#000"/>
<text x="1220.2" y="801.5" font-size="10" fill="#000" stroke="#000" stroke-width="0.15" textLength="48.8" lengthAdjust="spacingAndGlyphs">2 Nov 2020</text>
<rect x="0" y="809" width="1638" height="1" fill="#e6e6e6"/>
<rect x="0" y="810" width="1638" height="1" fill="#ffffff"/>
<rect x="0" y="811" width="1638" height="1" fill="#000000"/>
<rect x="0" y="812" width="1638" height="1" fill="#ffffff"/>
<rect x="0" y="813" width="1638" height="17" fill="#f0f0f0"/>
<rect x="0" y="830" width="1638" height="1" fill="#f0f0f0"/>
<rect x="0" y="831" width="1638" height="1" fill="#fafafa"/>
<rect x="0" y="832" width="1638" height="2" fill="#ebebeb"/>
<rect x="0" y="812" width="1" height="18" fill="#a0a0a0"/>
<rect x="1" y="812" width="1" height="18" fill="#696969"/>
<rect x="314" y="811" width="104" height="18" fill="#ffffff"/>
<rect x="314" y="811" width="1" height="19" fill="#000"/>
<rect x="417" y="811" width="1" height="19" fill="#000"/>
<rect x="314" y="829" width="104" height="1" fill="#000"/>
<text x="18.3" y="826" font-size="12" fill="#6d6d6d" textLength="80.5" lengthAdjust="spacingAndGlyphs">EURUSD,Daily</text>
<text x="120" y="826" font-size="12" fill="#6d6d6d" textLength="79.8" lengthAdjust="spacingAndGlyphs">USDCHF,Daily</text>
<text x="221" y="826" font-size="12" fill="#6d6d6d" textLength="82.8" lengthAdjust="spacingAndGlyphs">AUDUSD,Daily</text>
<text x="428.3" y="826" font-size="12" fill="#6d6d6d" textLength="83.2" lengthAdjust="spacingAndGlyphs">USDCNH,Daily</text>
<text x="534" y="826" font-size="12" fill="#6d6d6d" textLength="80.5" lengthAdjust="spacingAndGlyphs">EURUSD,Daily</text>
<text x="638.3" y="826" font-size="12" fill="#6d6d6d" textLength="67.9" lengthAdjust="spacingAndGlyphs">GBPUSD,H4</text>
<text x="729.3" y="826" font-size="12" fill="#6d6d6d" textLength="81.2" lengthAdjust="spacingAndGlyphs">XAUUSD,Daily</text>
<text x="833.3" y="826" font-size="12" fill="#6d6d6d" textLength="49.5" lengthAdjust="spacingAndGlyphs">HK50,H1</text>
<text x="905.7" y="826" font-size="12" fill="#6d6d6d" textLength="56.5" lengthAdjust="spacingAndGlyphs">UK100,H1</text>
<text x="985.7" y="826" font-size="12" fill="#6d6d6d" textLength="55.8" lengthAdjust="spacingAndGlyphs">UK100,H1</text>
<text x="1064.8" y="826" font-size="12" fill="#6d6d6d" textLength="57.8" lengthAdjust="spacingAndGlyphs">GER30,H1</text>
<text x="1144" y="826" font-size="12" fill="#6d6d6d" textLength="55.3" lengthAdjust="spacingAndGlyphs">FRA40,H1</text>
<text x="1220.7" y="826" font-size="12" fill="#6d6d6d" textLength="50.5" lengthAdjust="spacingAndGlyphs">USOil,H4</text>
<text x="1292.6" y="826" font-size="12" fill="#6d6d6d" textLength="62.6" lengthAdjust="spacingAndGlyphs">USDJPY,H1</text>
<text x="1376.6" y="826" font-size="12" fill="#6d6d6d" textLength="58.9" lengthAdjust="spacingAndGlyphs">DJ30,Daily</text>
<text x="1456.2" y="826" font-size="12" fill="#6d6d6d" textLength="79.0" lengthAdjust="spacingAndGlyphs">CHINA300,H1</text>
<text x="1556.6" y="826" font-size="12" fill="#6d6d6d" textLength="49.8" lengthAdjust="spacingAndGlyphs">USOil,H1</text>
<text x="325" y="826" font-size="12" fill="#050505" textLength="81.5" lengthAdjust="spacingAndGlyphs">USDCAD,Daily</text>
<rect x="110" y="814" width="1" height="14" fill="#6a6a6a"/>
<rect x="210" y="814" width="1" height="14" fill="#6a6a6a"/>
<rect x="522" y="814" width="1" height="14" fill="#6a6a6a"/>
<rect x="626" y="814" width="1" height="14" fill="#6a6a6a"/>
<rect x="718" y="814" width="1" height="14" fill="#6a6a6a"/>
<rect x="822" y="814" width="1" height="14" fill="#6a6a6a"/>
<rect x="894" y="814" width="1" height="14" fill="#6a6a6a"/>
<rect x="974" y="814" width="1" height="14" fill="#6a6a6a"/>
<rect x="1054" y="814" width="1" height="14" fill="#6a6a6a"/>
<rect x="1134" y="814" width="1" height="14" fill="#6a6a6a"/>
<rect x="1210" y="814" width="1" height="14" fill="#6a6a6a"/>
<rect x="1282" y="814" width="1" height="14" fill="#6a6a6a"/>
<rect x="1366" y="814" width="1" height="14" fill="#6a6a6a"/>
<rect x="1446" y="814" width="1" height="14" fill="#6a6a6a"/>
<rect x="1546" y="814" width="1" height="14" fill="#6a6a6a"/>
<path d="M1613 820 L1616.5 816.5 L1616.5 823.5 Z" fill="#a0a0a0"/>
<path d="M1635.5 820 L1631.5 816.5 L1631.5 823.5 Z" fill="#000"/>
</svg>
</body></html>
